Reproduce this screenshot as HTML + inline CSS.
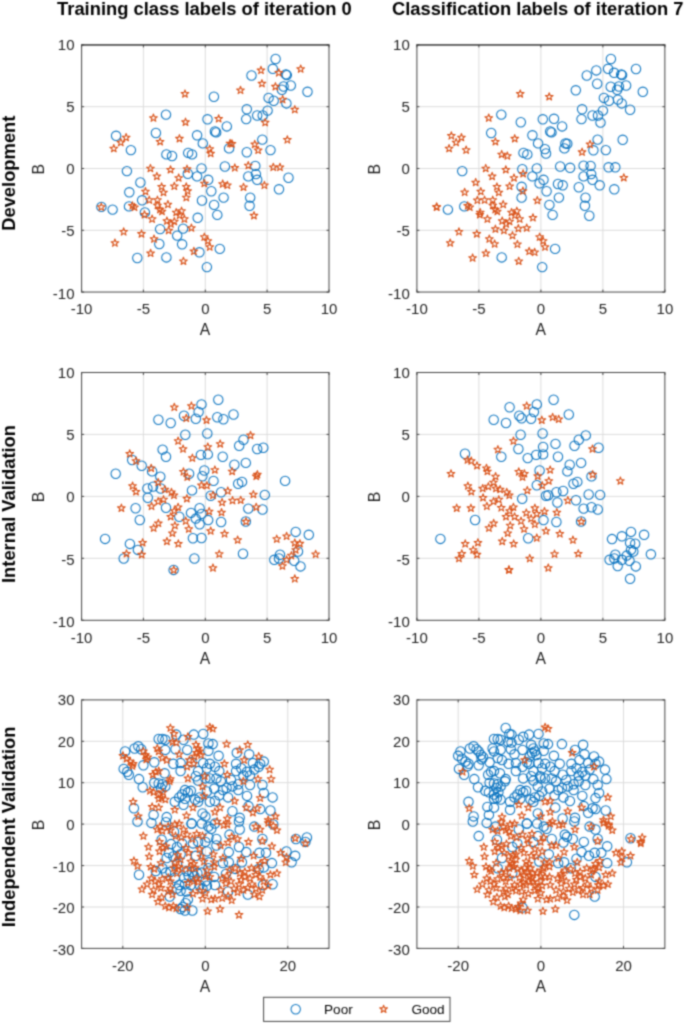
<!DOCTYPE html>
<html><head><meta charset="utf-8"><title>fig</title>
<style>
html,body{margin:0;padding:0;background:#fff;}
body{width:685px;height:1024px;overflow:hidden;}
svg{display:block;font-family:"Liberation Sans",sans-serif;}
.t{font-size:15px;fill:#1c1c1c;}
.l{font-size:15.7px;fill:#1c1c1c;}
.b{font-size:18.35px;font-weight:bold;fill:#000;}
.c{fill:none;stroke:#0b74c0;stroke-width:1.05;}
.s{fill:none;stroke:#d9531a;stroke-width:1.1;stroke-linejoin:round;}
.g{stroke:#dcdcdc;stroke-width:1;}
.ax{fill:none;stroke:#444;stroke-width:1.0;}
.tk{stroke:#444;stroke-width:1;}
</style></head><body>
<svg width="685" height="1024" viewBox="0 0 685 1024">
<defs><filter id="bl" x="0" y="0" width="685" height="1024" filterUnits="userSpaceOnUse" color-interpolation-filters="sRGB"><feConvolveMatrix order="5" kernelMatrix="0.00009 0.00198 0.00548 0.00198 0.00009 0.00198 0.04220 0.11707 0.04220 0.00198 0.00548 0.11707 0.32480 0.11707 0.00548 0.00198 0.04220 0.11707 0.04220 0.00198 0.00009 0.00198 0.00548 0.00198 0.00009" edgeMode="duplicate" preserveAlpha="false"/></filter></defs>
<rect width="685" height="1024" fill="#fff"/>
<g filter="url(#bl)">

<text class="b" x="204.4" y="14.6" text-anchor="middle">Training class labels of iteration 0</text>
<text class="b" x="537.7" y="14.6" text-anchor="middle">Classification labels of iteration 7</text>
<text class="b" transform="translate(14.9,173.2) rotate(-90)" text-anchor="middle">Development</text>
<line class="g" x1="143.4" y1="44.9" x2="143.4" y2="292.1"/>
<line class="g" x1="205.3" y1="44.9" x2="205.3" y2="292.1"/>
<line class="g" x1="267.1" y1="44.9" x2="267.1" y2="292.1"/>
<line class="g" x1="81.6" y1="230.3" x2="329.0" y2="230.3"/>
<line class="g" x1="81.6" y1="168.5" x2="329.0" y2="168.5"/>
<line class="g" x1="81.6" y1="106.7" x2="329.0" y2="106.7"/>
<line class="tk" x1="81.6" y1="292.1" x2="81.6" y2="289.6"/>
<line class="tk" x1="81.6" y1="44.9" x2="81.6" y2="47.4"/>
<text class="t" x="81.6" y="314.4" text-anchor="middle">-10</text>
<line class="tk" x1="143.4" y1="292.1" x2="143.4" y2="289.6"/>
<line class="tk" x1="143.4" y1="44.9" x2="143.4" y2="47.4"/>
<text class="t" x="143.4" y="314.4" text-anchor="middle">-5</text>
<line class="tk" x1="205.3" y1="292.1" x2="205.3" y2="289.6"/>
<line class="tk" x1="205.3" y1="44.9" x2="205.3" y2="47.4"/>
<text class="t" x="205.3" y="314.4" text-anchor="middle">0</text>
<line class="tk" x1="267.1" y1="292.1" x2="267.1" y2="289.6"/>
<line class="tk" x1="267.1" y1="44.9" x2="267.1" y2="47.4"/>
<text class="t" x="267.1" y="314.4" text-anchor="middle">5</text>
<line class="tk" x1="329.0" y1="292.1" x2="329.0" y2="289.6"/>
<line class="tk" x1="329.0" y1="44.9" x2="329.0" y2="47.4"/>
<text class="t" x="329.0" y="314.4" text-anchor="middle">10</text>
<line class="tk" x1="81.6" y1="292.1" x2="84.1" y2="292.1"/>
<line class="tk" x1="329.0" y1="292.1" x2="326.5" y2="292.1"/>
<text class="t" x="74.5" y="299.0" text-anchor="end">-10</text>
<line class="tk" x1="81.6" y1="230.3" x2="84.1" y2="230.3"/>
<line class="tk" x1="329.0" y1="230.3" x2="326.5" y2="230.3"/>
<text class="t" x="74.5" y="236.0" text-anchor="end">-5</text>
<line class="tk" x1="81.6" y1="168.5" x2="84.1" y2="168.5"/>
<line class="tk" x1="329.0" y1="168.5" x2="326.5" y2="168.5"/>
<text class="t" x="74.5" y="174.0" text-anchor="end">0</text>
<line class="tk" x1="81.6" y1="106.7" x2="84.1" y2="106.7"/>
<line class="tk" x1="329.0" y1="106.7" x2="326.5" y2="106.7"/>
<text class="t" x="74.5" y="112.0" text-anchor="end">5</text>
<line class="tk" x1="81.6" y1="44.9" x2="84.1" y2="44.9"/>
<line class="tk" x1="329.0" y1="44.9" x2="326.5" y2="44.9"/>
<text class="t" x="74.5" y="50.0" text-anchor="end">10</text>
<rect class="ax" x="81.60" y="44.90" width="247.40" height="247.15"/>
<line x1="81.00" y1="45.00" x2="329.60" y2="45.00" stroke="#333" stroke-width="1.2"/>
<text class="l" x="205.1" y="335.4" text-anchor="middle">A</text>
<text class="l" transform="translate(44.2,169.2) rotate(-90)" text-anchor="middle">B</text>
<g class="c"><circle cx="166.0" cy="114.6" r="4.70"/><circle cx="155.9" cy="133.0" r="4.70"/><circle cx="116.1" cy="135.8" r="4.70"/><circle cx="130.9" cy="150.1" r="4.70"/><circle cx="197.1" cy="135.3" r="4.70"/><circle cx="202.8" cy="143.4" r="4.70"/><circle cx="166.4" cy="154.4" r="4.70"/><circle cx="172.0" cy="156.0" r="4.70"/><circle cx="188.2" cy="152.9" r="4.70"/><circle cx="192.0" cy="154.4" r="4.70"/><circle cx="275.6" cy="59.0" r="4.70"/><circle cx="272.8" cy="68.8" r="4.70"/><circle cx="251.5" cy="75.5" r="4.70"/><circle cx="285.9" cy="74.4" r="4.70"/><circle cx="286.8" cy="75.1" r="4.70"/><circle cx="290.8" cy="85.5" r="4.70"/><circle cx="283.6" cy="86.5" r="4.70"/><circle cx="281.9" cy="89.7" r="4.70"/><circle cx="307.5" cy="91.8" r="4.70"/><circle cx="213.9" cy="96.7" r="4.70"/><circle cx="268.6" cy="97.9" r="4.70"/><circle cx="273.7" cy="100.7" r="4.70"/><circle cx="286.4" cy="103.4" r="4.70"/><circle cx="246.8" cy="109.3" r="4.70"/><circle cx="267.6" cy="110.6" r="4.70"/><circle cx="257.2" cy="115.5" r="4.70"/><circle cx="262.7" cy="115.5" r="4.70"/><circle cx="246.2" cy="119.1" r="4.70"/><circle cx="207.5" cy="119.3" r="4.70"/><circle cx="226.8" cy="126.4" r="4.70"/><circle cx="214.9" cy="131.5" r="4.70"/><circle cx="216.2" cy="132.4" r="4.70"/><circle cx="262.3" cy="139.6" r="4.70"/><circle cx="246.8" cy="152.2" r="4.70"/><circle cx="270.5" cy="150.1" r="4.70"/><circle cx="229.1" cy="148.4" r="4.70"/><circle cx="126.9" cy="171.1" r="4.70"/><circle cx="187.8" cy="173.7" r="4.70"/><circle cx="201.5" cy="168.4" r="4.70"/><circle cx="197.1" cy="176.4" r="4.70"/><circle cx="140.4" cy="182.5" r="4.70"/><circle cx="129.3" cy="192.3" r="4.70"/><circle cx="202.0" cy="200.5" r="4.70"/><circle cx="142.1" cy="200.3" r="4.70"/><circle cx="101.4" cy="206.9" r="4.70"/><circle cx="112.6" cy="209.6" r="4.70"/><circle cx="129.0" cy="206.4" r="4.70"/><circle cx="144.9" cy="212.4" r="4.70"/><circle cx="197.7" cy="217.8" r="4.70"/><circle cx="160.1" cy="229.1" r="4.70"/><circle cx="183.1" cy="228.6" r="4.70"/><circle cx="177.2" cy="235.6" r="4.70"/><circle cx="159.3" cy="244.0" r="4.70"/><circle cx="182.1" cy="244.3" r="4.70"/><circle cx="199.4" cy="252.3" r="4.70"/><circle cx="137.3" cy="258.0" r="4.70"/><circle cx="166.4" cy="257.4" r="4.70"/><circle cx="224.9" cy="166.5" r="4.70"/><circle cx="255.3" cy="165.9" r="4.70"/><circle cx="248.3" cy="176.4" r="4.70"/><circle cx="255.9" cy="174.1" r="4.70"/><circle cx="257.2" cy="179.8" r="4.70"/><circle cx="288.5" cy="177.7" r="4.70"/><circle cx="208.2" cy="179.8" r="4.70"/><circle cx="279.0" cy="189.3" r="4.70"/><circle cx="211.3" cy="191.2" r="4.70"/><circle cx="223.6" cy="197.6" r="4.70"/><circle cx="250.2" cy="197.6" r="4.70"/><circle cx="249.6" cy="205.8" r="4.70"/><circle cx="214.1" cy="204.9" r="4.70"/><circle cx="217.3" cy="214.9" r="4.70"/><circle cx="219.8" cy="248.9" r="4.70"/><circle cx="206.9" cy="267.1" r="4.70"/></g>
<g class="s"><polygon points="185.0,89.9 185.9,92.6 188.8,92.6 186.5,94.4 187.3,97.2 185.0,95.5 182.6,97.2 183.4,94.4 181.1,92.6 184.0,92.6"/><polygon points="153.4,114.0 154.4,116.7 157.3,116.8 155.0,118.5 155.8,121.3 153.4,119.6 151.1,121.3 151.9,118.5 149.6,116.8 152.5,116.7"/><polygon points="185.5,118.1 186.5,120.9 189.4,120.9 187.0,122.7 187.9,125.5 185.5,123.8 183.1,125.5 184.0,122.7 181.7,120.9 184.6,120.9"/><polygon points="179.4,134.6 180.4,137.4 183.3,137.4 181.0,139.2 181.8,142.0 179.4,140.3 177.1,142.0 177.9,139.2 175.6,137.4 178.5,137.4"/><polygon points="160.1,137.7 161.0,140.4 163.9,140.5 161.6,142.2 162.5,145.0 160.1,143.3 157.7,145.0 158.6,142.2 156.2,140.5 159.2,140.4"/><polygon points="126.1,133.5 127.1,136.3 130.0,136.3 127.6,138.0 128.5,140.8 126.1,139.2 123.7,140.8 124.6,138.0 122.3,136.3 125.2,136.3"/><polygon points="120.8,138.4 121.7,141.2 124.7,141.2 122.3,143.0 123.2,145.8 120.8,144.1 118.4,145.8 119.3,143.0 117.0,141.2 119.9,141.2"/><polygon points="113.8,144.5 114.7,147.3 117.6,147.3 115.3,149.1 116.2,151.8 113.8,150.2 111.4,151.8 112.3,149.1 109.9,147.3 112.8,147.3"/><polygon points="261.0,66.3 261.9,69.1 264.8,69.1 262.5,70.9 263.4,73.6 261.0,72.0 258.6,73.6 259.5,70.9 257.1,69.1 260.0,69.1"/><polygon points="278.8,68.8 279.8,71.5 282.7,71.6 280.3,73.3 281.2,76.1 278.8,74.4 276.4,76.1 277.3,73.3 275.0,71.6 277.9,71.5"/><polygon points="300.7,65.0 301.6,67.7 304.5,67.8 302.2,69.5 303.0,72.3 300.7,70.6 298.3,72.3 299.1,69.5 296.8,67.8 299.7,67.7"/><polygon points="261.9,79.6 262.9,82.4 265.8,82.4 263.5,84.1 264.3,86.9 261.9,85.3 259.6,86.9 260.4,84.1 258.1,82.4 261.0,82.4"/><polygon points="275.4,82.6 276.4,85.4 279.3,85.4 276.9,87.2 277.8,90.0 275.4,88.3 273.0,90.0 273.9,87.2 271.6,85.4 274.5,85.4"/><polygon points="240.5,86.2 241.4,89.0 244.3,89.0 242.0,90.8 242.9,93.6 240.5,91.9 238.1,93.6 239.0,90.8 236.6,89.0 239.6,89.0"/><polygon points="282.6,95.5 283.6,98.3 286.5,98.3 284.1,100.1 285.0,102.9 282.6,101.2 280.2,102.9 281.1,100.1 278.8,98.3 281.7,98.3"/><polygon points="294.8,105.6 295.7,108.4 298.6,108.4 296.3,110.1 297.2,112.9 294.8,111.3 292.4,112.9 293.2,110.1 290.9,108.4 293.8,108.4"/><polygon points="265.2,118.5 266.1,121.3 269.0,121.3 266.7,123.1 267.5,125.8 265.2,124.2 262.8,125.8 263.6,123.1 261.3,121.3 264.2,121.3"/><polygon points="218.7,114.7 219.6,117.5 222.5,117.5 220.2,119.3 221.0,122.0 218.7,120.4 216.3,122.0 217.1,119.3 214.8,117.5 217.7,117.5"/><polygon points="287.4,135.8 288.3,138.5 291.2,138.6 288.9,140.3 289.7,143.1 287.4,141.4 285.0,143.1 285.8,140.3 283.5,138.6 286.4,138.5"/><polygon points="254.7,140.3 255.7,143.1 258.6,143.1 256.2,144.9 257.1,147.7 254.7,146.0 252.3,147.7 253.2,144.9 250.9,143.1 253.8,143.1"/><polygon points="258.1,146.2 259.1,149.0 262.0,149.0 259.7,150.8 260.5,153.5 258.1,151.9 255.8,153.5 256.6,150.8 254.3,149.0 257.2,149.0"/><polygon points="230.1,139.4 231.0,142.1 233.9,142.2 231.6,143.9 232.4,146.7 230.1,145.0 227.7,146.7 228.5,143.9 226.2,142.2 229.1,142.1"/><polygon points="232.0,139.8 232.9,142.5 235.8,142.6 233.5,144.3 234.3,147.1 232.0,145.4 229.6,147.1 230.4,144.3 228.1,142.6 231.0,142.5"/><polygon points="209.7,145.1 210.7,147.8 213.6,147.9 211.3,149.6 212.1,152.4 209.7,150.7 207.4,152.4 208.2,149.6 205.9,147.9 208.8,147.8"/><polygon points="210.7,149.4 211.6,152.2 214.5,152.2 212.2,154.0 213.1,156.8 210.7,155.1 208.3,156.8 209.2,154.0 206.8,152.2 209.8,152.2"/><polygon points="150.4,164.4 151.4,167.1 154.3,167.2 151.9,168.9 152.8,171.7 150.4,170.0 148.0,171.7 148.9,168.9 146.6,167.2 149.5,167.1"/><polygon points="170.5,165.7 171.5,168.5 174.4,168.5 172.1,170.2 172.9,173.0 170.5,171.3 168.1,173.0 169.0,170.2 166.7,168.5 169.6,168.5"/><polygon points="187.0,165.1 188.0,167.9 190.9,167.9 188.6,169.7 189.4,172.5 187.0,170.8 184.7,172.5 185.5,169.7 183.2,167.9 186.1,167.9"/><polygon points="156.9,172.3 157.8,175.1 160.7,175.1 158.4,176.9 159.2,179.7 156.9,178.0 154.5,179.7 155.3,176.9 153.0,175.1 155.9,175.1"/><polygon points="178.7,173.9 179.6,176.6 182.5,176.7 180.2,178.4 181.1,181.2 178.7,179.5 176.3,181.2 177.2,178.4 174.8,176.7 177.7,176.6"/><polygon points="161.6,182.8 162.5,185.5 165.5,185.6 163.1,187.3 164.0,190.1 161.6,188.4 159.2,190.1 160.1,187.3 157.8,185.6 160.7,185.5"/><polygon points="174.3,182.2 175.3,185.0 178.2,185.0 175.8,186.8 176.7,189.5 174.3,187.9 171.9,189.5 172.8,186.8 170.5,185.0 173.4,185.0"/><polygon points="186.3,182.8 187.2,185.5 190.1,185.6 187.8,187.3 188.7,190.1 186.3,188.4 183.9,190.1 184.8,187.3 182.4,185.6 185.3,185.5"/><polygon points="187.6,187.0 188.6,189.7 191.5,189.7 189.1,191.5 190.0,194.3 187.6,192.6 185.2,194.3 186.1,191.5 183.8,189.7 186.7,189.7"/><polygon points="204.3,179.4 205.3,182.1 208.2,182.2 205.8,183.9 206.7,186.7 204.3,185.0 201.9,186.7 202.8,183.9 200.5,182.2 203.4,182.1"/><polygon points="145.5,187.5 146.4,190.3 149.3,190.3 147.0,192.1 147.9,194.8 145.5,193.2 143.1,194.8 144.0,192.1 141.6,190.3 144.5,190.3"/><polygon points="163.5,188.5 164.4,191.2 167.4,191.3 165.0,193.0 165.9,195.8 163.5,194.1 161.1,195.8 162.0,193.0 159.7,191.3 162.6,191.2"/><polygon points="186.3,193.6 187.2,196.3 190.1,196.4 187.8,198.1 188.7,200.9 186.3,199.2 183.9,200.9 184.8,198.1 182.4,196.4 185.3,196.3"/><polygon points="149.3,196.1 150.2,198.8 153.1,198.9 150.8,200.6 151.7,203.4 149.3,201.7 146.9,203.4 147.8,200.6 145.4,198.9 148.3,198.8"/><polygon points="157.4,196.1 158.4,198.8 161.3,198.9 159.0,200.6 159.8,203.4 157.4,201.7 155.1,203.4 155.9,200.6 153.6,198.9 156.5,198.8"/><polygon points="167.9,200.4 168.8,203.2 171.7,203.2 169.4,205.0 170.3,207.8 167.9,206.1 165.5,207.8 166.4,205.0 164.0,203.2 166.9,203.2"/><polygon points="157.4,201.4 158.4,204.1 161.3,204.2 159.0,205.9 159.8,208.7 157.4,207.0 155.1,208.7 155.9,205.9 153.6,204.2 156.5,204.1"/><polygon points="101.3,203.1 102.2,205.8 105.1,205.9 102.8,207.6 103.6,210.4 101.3,208.7 98.9,210.4 99.7,207.6 97.4,205.9 100.3,205.8"/><polygon points="132.4,201.8 133.3,204.5 136.2,204.6 133.9,206.3 134.8,209.1 132.4,207.4 130.0,209.1 130.9,206.3 128.5,204.6 131.4,204.5"/><polygon points="134.5,203.3 135.4,206.0 138.3,206.1 136.0,207.8 136.9,210.6 134.5,208.9 132.1,210.6 132.9,207.8 130.6,206.1 133.5,206.0"/><polygon points="159.9,205.6 160.8,208.3 163.8,208.3 161.4,210.1 162.3,212.9 159.9,211.2 157.5,212.9 158.4,210.1 156.0,208.3 159.0,208.3"/><polygon points="162.0,207.4 162.9,210.2 165.8,210.2 163.5,212.0 164.4,214.8 162.0,213.1 159.6,214.8 160.5,212.0 158.1,210.2 161.0,210.2"/><polygon points="144.5,210.7 145.5,213.4 148.4,213.5 146.1,215.2 146.9,218.0 144.5,216.3 142.1,218.0 143.0,215.2 140.7,213.5 143.6,213.4"/><polygon points="176.2,208.4 177.2,211.2 180.1,211.2 177.7,212.9 178.6,215.7 176.2,214.0 173.8,215.7 174.7,212.9 172.4,211.2 175.3,211.2"/><polygon points="181.5,207.1 182.5,209.8 185.4,209.9 183.1,211.6 183.9,214.4 181.5,212.7 179.2,214.4 180.0,211.6 177.7,209.9 180.6,209.8"/><polygon points="179.6,211.2 180.6,214.0 183.5,214.0 181.2,215.8 182.0,218.6 179.6,216.9 177.3,218.6 178.1,215.8 175.8,214.0 178.7,214.0"/><polygon points="152.1,215.0 153.1,217.8 156.0,217.8 153.6,219.6 154.5,222.4 152.1,220.7 149.7,222.4 150.6,219.6 148.3,217.8 151.2,217.8"/><polygon points="184.4,215.0 185.3,217.8 188.2,217.8 185.9,219.6 186.8,222.4 184.4,220.7 182.0,222.4 182.9,219.6 180.5,217.8 183.4,217.8"/><polygon points="166.9,216.9 167.9,219.7 170.8,219.7 168.4,221.5 169.3,224.3 166.9,222.6 164.5,224.3 165.4,221.5 163.1,219.7 166.0,219.7"/><polygon points="174.3,217.5 175.3,220.3 178.2,220.3 175.8,222.1 176.7,224.8 174.3,223.2 171.9,224.8 172.8,222.1 170.5,220.3 173.4,220.3"/><polygon points="170.9,220.0 171.8,222.7 174.8,222.8 172.4,224.5 173.3,227.3 170.9,225.6 168.5,227.3 169.4,224.5 167.1,222.8 170.0,222.7"/><polygon points="168.6,226.4 169.6,229.2 172.5,229.2 170.2,231.0 171.0,233.8 168.6,232.1 166.3,233.8 167.1,231.0 164.8,229.2 167.7,229.2"/><polygon points="191.4,224.0 192.3,226.7 195.3,226.8 192.9,228.5 193.8,231.3 191.4,229.6 189.0,231.3 189.9,228.5 187.6,226.8 190.5,226.7"/><polygon points="123.7,227.8 124.6,230.5 127.5,230.6 125.2,232.3 126.0,235.1 123.7,233.4 121.3,235.1 122.1,232.3 119.8,230.6 122.7,230.5"/><polygon points="141.5,229.8 142.4,232.6 145.3,232.6 143.0,234.4 143.9,237.2 141.5,235.5 139.1,237.2 140.0,234.4 137.6,232.6 140.6,232.6"/><polygon points="154.0,235.0 155.0,237.7 157.9,237.8 155.5,239.5 156.4,242.3 154.0,240.6 151.6,242.3 152.5,239.5 150.2,237.8 153.1,237.7"/><polygon points="114.9,239.0 115.9,241.7 118.8,241.8 116.4,243.5 117.3,246.3 114.9,244.6 112.5,246.3 113.4,243.5 111.1,241.8 114.0,241.7"/><polygon points="204.3,233.1 205.3,235.8 208.2,235.9 205.8,237.6 206.7,240.4 204.3,238.7 201.9,240.4 202.8,237.6 200.5,235.9 203.4,235.8"/><polygon points="193.9,247.3 194.8,250.1 197.7,250.1 195.4,251.8 196.3,254.6 193.9,253.0 191.5,254.6 192.4,251.8 190.0,250.1 192.9,250.1"/><polygon points="150.6,249.2 151.5,252.0 154.5,252.0 152.1,253.7 153.0,256.5 150.6,254.9 148.2,256.5 149.1,253.7 146.7,252.0 149.7,252.0"/><polygon points="183.4,257.2 184.4,259.9 187.3,260.0 185.0,261.7 185.8,264.5 183.4,262.8 181.1,264.5 181.9,261.7 179.6,260.0 182.5,259.9"/><polygon points="234.8,163.8 235.7,166.6 238.6,166.6 236.3,168.3 237.2,171.1 234.8,169.4 232.4,171.1 233.3,168.3 230.9,166.6 233.9,166.6"/><polygon points="248.3,161.5 249.2,164.3 252.1,164.3 249.8,166.1 250.7,168.8 248.3,167.2 245.9,168.8 246.8,166.1 244.4,164.3 247.3,164.3"/><polygon points="273.3,163.2 274.3,166.0 277.2,166.0 274.8,167.8 275.7,170.6 273.3,168.9 270.9,170.6 271.8,167.8 269.5,166.0 272.4,166.0"/><polygon points="280.0,163.2 280.9,166.0 283.8,166.0 281.5,167.8 282.3,170.6 280.0,168.9 277.6,170.6 278.4,167.8 276.1,166.0 279.0,166.0"/><polygon points="222.7,179.9 223.6,182.7 226.5,182.7 224.2,184.5 225.0,187.3 222.7,185.6 220.3,187.3 221.1,184.5 218.8,182.7 221.7,182.7"/><polygon points="227.4,181.3 228.3,184.0 231.2,184.1 228.9,185.8 229.8,188.6 227.4,186.9 225.0,188.6 225.9,185.8 223.5,184.1 226.5,184.0"/><polygon points="243.5,183.2 244.5,185.9 247.4,186.0 245.0,187.7 245.9,190.5 243.5,188.8 241.1,190.5 242.0,187.7 239.7,186.0 242.6,185.9"/><polygon points="264.4,181.3 265.3,184.0 268.3,184.1 265.9,185.8 266.8,188.6 264.4,186.9 262.0,188.6 262.9,185.8 260.6,184.1 263.5,184.0"/><polygon points="254.0,211.6 254.9,214.4 257.8,214.4 255.5,216.2 256.3,219.0 254.0,217.3 251.6,219.0 252.4,216.2 250.1,214.4 253.0,214.4"/><polygon points="207.8,236.9 208.8,239.6 211.7,239.7 209.4,241.4 210.2,244.2 207.8,242.5 205.5,244.2 206.3,241.4 204.0,239.7 206.9,239.6"/><polygon points="209.7,242.9 210.7,245.7 213.6,245.7 211.3,247.5 212.1,250.3 209.7,248.6 207.4,250.3 208.2,247.5 205.9,245.7 208.8,245.7"/></g>
<line class="g" x1="478.9" y1="44.9" x2="478.9" y2="292.1"/>
<line class="g" x1="540.9" y1="44.9" x2="540.9" y2="292.1"/>
<line class="g" x1="602.9" y1="44.9" x2="602.9" y2="292.1"/>
<line class="g" x1="416.9" y1="230.3" x2="664.9" y2="230.3"/>
<line class="g" x1="416.9" y1="168.5" x2="664.9" y2="168.5"/>
<line class="g" x1="416.9" y1="106.7" x2="664.9" y2="106.7"/>
<line class="tk" x1="416.9" y1="292.1" x2="416.9" y2="289.6"/>
<line class="tk" x1="416.9" y1="44.9" x2="416.9" y2="47.4"/>
<text class="t" x="416.9" y="314.4" text-anchor="middle">-10</text>
<line class="tk" x1="478.9" y1="292.1" x2="478.9" y2="289.6"/>
<line class="tk" x1="478.9" y1="44.9" x2="478.9" y2="47.4"/>
<text class="t" x="478.9" y="314.4" text-anchor="middle">-5</text>
<line class="tk" x1="540.9" y1="292.1" x2="540.9" y2="289.6"/>
<line class="tk" x1="540.9" y1="44.9" x2="540.9" y2="47.4"/>
<text class="t" x="540.9" y="314.4" text-anchor="middle">0</text>
<line class="tk" x1="602.9" y1="292.1" x2="602.9" y2="289.6"/>
<line class="tk" x1="602.9" y1="44.9" x2="602.9" y2="47.4"/>
<text class="t" x="602.9" y="314.4" text-anchor="middle">5</text>
<line class="tk" x1="664.9" y1="292.1" x2="664.9" y2="289.6"/>
<line class="tk" x1="664.9" y1="44.9" x2="664.9" y2="47.4"/>
<text class="t" x="664.9" y="314.4" text-anchor="middle">10</text>
<line class="tk" x1="416.9" y1="292.1" x2="419.4" y2="292.1"/>
<line class="tk" x1="664.9" y1="292.1" x2="662.4" y2="292.1"/>
<text class="t" x="409.8" y="299.0" text-anchor="end">-10</text>
<line class="tk" x1="416.9" y1="230.3" x2="419.4" y2="230.3"/>
<line class="tk" x1="664.9" y1="230.3" x2="662.4" y2="230.3"/>
<text class="t" x="409.8" y="236.0" text-anchor="end">-5</text>
<line class="tk" x1="416.9" y1="168.5" x2="419.4" y2="168.5"/>
<line class="tk" x1="664.9" y1="168.5" x2="662.4" y2="168.5"/>
<text class="t" x="409.8" y="174.0" text-anchor="end">0</text>
<line class="tk" x1="416.9" y1="106.7" x2="419.4" y2="106.7"/>
<line class="tk" x1="664.9" y1="106.7" x2="662.4" y2="106.7"/>
<text class="t" x="409.8" y="112.0" text-anchor="end">5</text>
<line class="tk" x1="416.9" y1="44.9" x2="419.4" y2="44.9"/>
<line class="tk" x1="664.9" y1="44.9" x2="662.4" y2="44.9"/>
<text class="t" x="409.8" y="50.0" text-anchor="end">10</text>
<rect class="ax" x="416.90" y="44.90" width="247.95" height="247.15"/>
<line x1="416.30" y1="45.00" x2="665.45" y2="45.00" stroke="#333" stroke-width="1.2"/>
<text class="l" x="540.7" y="335.4" text-anchor="middle">A</text>
<text class="l" transform="translate(379.5,169.2) rotate(-90)" text-anchor="middle">B</text>
<g class="c"><circle cx="501.3" cy="114.6" r="4.70"/><circle cx="520.8" cy="122.2" r="4.70"/><circle cx="491.2" cy="133.0" r="4.70"/><circle cx="532.4" cy="135.3" r="4.70"/><circle cx="538.1" cy="143.4" r="4.70"/><circle cx="523.5" cy="152.9" r="4.70"/><circle cx="527.3" cy="154.4" r="4.70"/><circle cx="610.9" cy="59.0" r="4.70"/><circle cx="608.1" cy="68.8" r="4.70"/><circle cx="596.3" cy="70.4" r="4.70"/><circle cx="586.8" cy="75.5" r="4.70"/><circle cx="614.1" cy="72.8" r="4.70"/><circle cx="621.2" cy="74.4" r="4.70"/><circle cx="622.1" cy="75.1" r="4.70"/><circle cx="636.0" cy="69.0" r="4.70"/><circle cx="597.2" cy="83.7" r="4.70"/><circle cx="610.7" cy="86.7" r="4.70"/><circle cx="626.1" cy="85.5" r="4.70"/><circle cx="618.9" cy="86.5" r="4.70"/><circle cx="617.2" cy="89.7" r="4.70"/><circle cx="575.8" cy="90.3" r="4.70"/><circle cx="642.8" cy="91.8" r="4.70"/><circle cx="603.9" cy="97.9" r="4.70"/><circle cx="609.0" cy="100.7" r="4.70"/><circle cx="617.9" cy="99.6" r="4.70"/><circle cx="621.7" cy="103.4" r="4.70"/><circle cx="630.1" cy="109.7" r="4.70"/><circle cx="582.1" cy="109.3" r="4.70"/><circle cx="602.9" cy="110.6" r="4.70"/><circle cx="592.5" cy="115.5" r="4.70"/><circle cx="598.0" cy="115.5" r="4.70"/><circle cx="581.5" cy="119.1" r="4.70"/><circle cx="600.5" cy="122.6" r="4.70"/><circle cx="542.8" cy="119.3" r="4.70"/><circle cx="554.0" cy="118.8" r="4.70"/><circle cx="562.1" cy="126.4" r="4.70"/><circle cx="550.2" cy="131.5" r="4.70"/><circle cx="551.5" cy="132.4" r="4.70"/><circle cx="597.6" cy="139.6" r="4.70"/><circle cx="622.7" cy="139.8" r="4.70"/><circle cx="593.4" cy="150.3" r="4.70"/><circle cx="605.8" cy="150.1" r="4.70"/><circle cx="565.4" cy="143.4" r="4.70"/><circle cx="567.3" cy="143.8" r="4.70"/><circle cx="564.4" cy="148.4" r="4.70"/><circle cx="545.0" cy="149.1" r="4.70"/><circle cx="546.0" cy="153.5" r="4.70"/><circle cx="462.2" cy="171.1" r="4.70"/><circle cx="522.3" cy="169.2" r="4.70"/><circle cx="536.8" cy="168.4" r="4.70"/><circle cx="532.4" cy="176.4" r="4.70"/><circle cx="521.6" cy="186.8" r="4.70"/><circle cx="539.6" cy="183.4" r="4.70"/><circle cx="521.6" cy="197.6" r="4.70"/><circle cx="447.9" cy="209.6" r="4.70"/><circle cx="464.3" cy="206.4" r="4.70"/><circle cx="501.7" cy="257.4" r="4.70"/><circle cx="560.2" cy="166.5" r="4.70"/><circle cx="570.1" cy="167.8" r="4.70"/><circle cx="583.6" cy="165.6" r="4.70"/><circle cx="590.6" cy="165.9" r="4.70"/><circle cx="608.6" cy="167.3" r="4.70"/><circle cx="615.3" cy="167.3" r="4.70"/><circle cx="583.6" cy="176.4" r="4.70"/><circle cx="591.2" cy="174.1" r="4.70"/><circle cx="592.5" cy="179.8" r="4.70"/><circle cx="543.5" cy="179.8" r="4.70"/><circle cx="558.0" cy="184.0" r="4.70"/><circle cx="562.7" cy="185.3" r="4.70"/><circle cx="578.8" cy="187.2" r="4.70"/><circle cx="599.7" cy="185.3" r="4.70"/><circle cx="614.3" cy="189.3" r="4.70"/><circle cx="546.6" cy="191.2" r="4.70"/><circle cx="558.9" cy="197.6" r="4.70"/><circle cx="585.5" cy="197.6" r="4.70"/><circle cx="584.9" cy="205.8" r="4.70"/><circle cx="549.4" cy="204.9" r="4.70"/><circle cx="552.6" cy="214.9" r="4.70"/><circle cx="589.3" cy="215.7" r="4.70"/><circle cx="555.1" cy="248.9" r="4.70"/><circle cx="542.2" cy="267.1" r="4.70"/></g>
<g class="s"><polygon points="520.3,89.9 521.2,92.6 524.1,92.6 521.8,94.4 522.6,97.2 520.3,95.5 517.9,97.2 518.7,94.4 516.4,92.6 519.3,92.6"/><polygon points="488.7,114.0 489.7,116.7 492.6,116.8 490.3,118.5 491.1,121.3 488.7,119.6 486.4,121.3 487.2,118.5 484.9,116.8 487.8,116.7"/><polygon points="514.7,134.6 515.7,137.4 518.6,137.4 516.3,139.2 517.1,142.0 514.7,140.3 512.4,142.0 513.2,139.2 510.9,137.4 513.8,137.4"/><polygon points="495.4,137.7 496.3,140.4 499.2,140.5 496.9,142.2 497.8,145.0 495.4,143.3 493.0,145.0 493.9,142.2 491.5,140.5 494.5,140.4"/><polygon points="451.4,131.8 452.3,134.5 455.2,134.6 452.9,136.3 453.7,139.1 451.4,137.4 449.0,139.1 449.8,136.3 447.5,134.6 450.4,134.5"/><polygon points="461.4,133.5 462.4,136.3 465.3,136.3 462.9,138.0 463.8,140.8 461.4,139.2 459.0,140.8 459.9,138.0 457.6,136.3 460.5,136.3"/><polygon points="456.1,138.4 457.0,141.2 460.0,141.2 457.6,143.0 458.5,145.8 456.1,144.1 453.7,145.8 454.6,143.0 452.3,141.2 455.2,141.2"/><polygon points="449.1,144.5 450.0,147.3 452.9,147.3 450.6,149.1 451.5,151.8 449.1,150.2 446.7,151.8 447.6,149.1 445.2,147.3 448.1,147.3"/><polygon points="466.2,146.0 467.1,148.8 470.0,148.8 467.7,150.6 468.5,153.4 466.2,151.7 463.8,153.4 464.6,150.6 462.3,148.8 465.2,148.8"/><polygon points="501.7,150.4 502.6,153.1 505.5,153.2 503.2,154.9 504.0,157.7 501.7,156.0 499.3,157.7 500.1,154.9 497.8,153.2 500.7,153.1"/><polygon points="507.3,151.9 508.3,154.7 511.2,154.7 508.9,156.5 509.7,159.2 507.3,157.6 505.0,159.2 505.8,156.5 503.5,154.7 506.4,154.7"/><polygon points="549.2,92.7 550.2,95.5 553.1,95.5 550.7,97.2 551.6,100.0 549.2,98.3 546.8,100.0 547.7,97.2 545.4,95.5 548.3,95.5"/><polygon points="590.0,140.3 591.0,143.1 593.9,143.1 591.5,144.9 592.4,147.7 590.0,146.0 587.6,147.7 588.5,144.9 586.2,143.1 589.1,143.1"/><polygon points="582.1,148.1 583.0,150.9 585.9,150.9 583.6,152.7 584.4,155.4 582.1,153.8 579.7,155.4 580.5,152.7 578.2,150.9 581.1,150.9"/><polygon points="485.7,164.4 486.7,167.1 489.6,167.2 487.2,168.9 488.1,171.7 485.7,170.0 483.3,171.7 484.2,168.9 481.9,167.2 484.8,167.1"/><polygon points="505.8,165.7 506.8,168.5 509.7,168.5 507.4,170.2 508.2,173.0 505.8,171.3 503.4,173.0 504.3,170.2 502.0,168.5 504.9,168.5"/><polygon points="523.1,169.7 524.0,172.4 527.0,172.5 524.6,174.2 525.5,177.0 523.1,175.3 520.7,177.0 521.6,174.2 519.2,172.5 522.2,172.4"/><polygon points="492.2,172.3 493.1,175.1 496.0,175.1 493.7,176.9 494.5,179.7 492.2,178.0 489.8,179.7 490.6,176.9 488.3,175.1 491.2,175.1"/><polygon points="514.0,173.9 514.9,176.6 517.8,176.7 515.5,178.4 516.4,181.2 514.0,179.5 511.6,181.2 512.5,178.4 510.1,176.7 513.0,176.6"/><polygon points="475.7,178.4 476.6,181.2 479.5,181.2 477.2,183.0 478.0,185.7 475.7,184.1 473.3,185.7 474.1,183.0 471.8,181.2 474.7,181.2"/><polygon points="496.9,182.8 497.8,185.5 500.8,185.6 498.4,187.3 499.3,190.1 496.9,188.4 494.5,190.1 495.4,187.3 493.1,185.6 496.0,185.5"/><polygon points="509.6,182.2 510.6,185.0 513.5,185.0 511.1,186.8 512.0,189.5 509.6,187.9 507.2,189.5 508.1,186.8 505.8,185.0 508.7,185.0"/><polygon points="522.9,187.0 523.9,189.7 526.8,189.7 524.4,191.5 525.3,194.3 522.9,192.6 520.5,194.3 521.4,191.5 519.1,189.7 522.0,189.7"/><polygon points="464.6,188.3 465.6,191.0 468.5,191.1 466.2,192.8 467.0,195.6 464.6,193.9 462.3,195.6 463.1,192.8 460.8,191.1 463.7,191.0"/><polygon points="480.8,187.5 481.7,190.3 484.6,190.3 482.3,192.1 483.2,194.8 480.8,193.2 478.4,194.8 479.3,192.1 476.9,190.3 479.8,190.3"/><polygon points="498.8,188.5 499.7,191.2 502.7,191.3 500.3,193.0 501.2,195.8 498.8,194.1 496.4,195.8 497.3,193.0 495.0,191.3 497.9,191.2"/><polygon points="537.3,196.4 538.3,199.2 541.2,199.2 538.9,201.0 539.7,203.8 537.3,202.1 535.0,203.8 535.8,201.0 533.5,199.2 536.4,199.2"/><polygon points="477.4,196.3 478.3,199.0 481.2,199.0 478.9,200.8 479.7,203.6 477.4,201.9 475.0,203.6 475.8,200.8 473.5,199.0 476.4,199.0"/><polygon points="484.6,196.1 485.5,198.8 488.4,198.9 486.1,200.6 487.0,203.4 484.6,201.7 482.2,203.4 483.1,200.6 480.7,198.9 483.6,198.8"/><polygon points="492.7,196.1 493.7,198.8 496.6,198.9 494.3,200.6 495.1,203.4 492.7,201.7 490.4,203.4 491.2,200.6 488.9,198.9 491.8,198.8"/><polygon points="503.2,200.4 504.1,203.2 507.0,203.2 504.7,205.0 505.6,207.8 503.2,206.1 500.8,207.8 501.7,205.0 499.3,203.2 502.2,203.2"/><polygon points="492.7,201.4 493.7,204.1 496.6,204.2 494.3,205.9 495.1,208.7 492.7,207.0 490.4,208.7 491.2,205.9 488.9,204.2 491.8,204.1"/><polygon points="436.6,203.1 437.5,205.8 440.4,205.9 438.1,207.6 438.9,210.4 436.6,208.7 434.2,210.4 435.0,207.6 432.7,205.9 435.6,205.8"/><polygon points="436.7,202.9 437.7,205.6 440.6,205.7 438.3,207.4 439.1,210.2 436.7,208.5 434.4,210.2 435.2,207.4 432.9,205.7 435.8,205.6"/><polygon points="467.7,201.8 468.6,204.5 471.5,204.6 469.2,206.3 470.1,209.1 467.7,207.4 465.3,209.1 466.2,206.3 463.8,204.6 466.7,204.5"/><polygon points="469.8,203.3 470.7,206.0 473.6,206.1 471.3,207.8 472.2,210.6 469.8,208.9 467.4,210.6 468.2,207.8 465.9,206.1 468.8,206.0"/><polygon points="495.2,205.6 496.1,208.3 499.1,208.3 496.7,210.1 497.6,212.9 495.2,211.2 492.8,212.9 493.7,210.1 491.3,208.3 494.3,208.3"/><polygon points="497.3,207.4 498.2,210.2 501.1,210.2 498.8,212.0 499.7,214.8 497.3,213.1 494.9,214.8 495.8,212.0 493.4,210.2 496.3,210.2"/><polygon points="480.2,208.4 481.1,211.2 484.1,211.2 481.7,212.9 482.6,215.7 480.2,214.0 477.8,215.7 478.7,212.9 476.4,211.2 479.3,211.2"/><polygon points="479.8,210.7 480.8,213.4 483.7,213.5 481.4,215.2 482.2,218.0 479.8,216.3 477.4,218.0 478.3,215.2 476.0,213.5 478.9,213.4"/><polygon points="511.5,208.4 512.5,211.2 515.4,211.2 513.0,212.9 513.9,215.7 511.5,214.0 509.1,215.7 510.0,212.9 507.7,211.2 510.6,211.2"/><polygon points="516.8,207.1 517.8,209.8 520.7,209.9 518.4,211.6 519.2,214.4 516.8,212.7 514.5,214.4 515.3,211.6 513.0,209.9 515.9,209.8"/><polygon points="514.9,211.2 515.9,214.0 518.8,214.0 516.5,215.8 517.3,218.6 514.9,216.9 512.6,218.6 513.4,215.8 511.1,214.0 514.0,214.0"/><polygon points="487.4,215.0 488.4,217.8 491.3,217.8 488.9,219.6 489.8,222.4 487.4,220.7 485.0,222.4 485.9,219.6 483.6,217.8 486.5,217.8"/><polygon points="519.7,215.0 520.6,217.8 523.5,217.8 521.2,219.6 522.1,222.4 519.7,220.7 517.3,222.4 518.2,219.6 515.8,217.8 518.7,217.8"/><polygon points="533.0,213.7 533.9,216.5 536.8,216.5 534.5,218.3 535.3,221.0 533.0,219.4 530.6,221.0 531.4,218.3 529.1,216.5 532.0,216.5"/><polygon points="502.2,216.9 503.2,219.7 506.1,219.7 503.7,221.5 504.6,224.3 502.2,222.6 499.8,224.3 500.7,221.5 498.4,219.7 501.3,219.7"/><polygon points="509.6,217.5 510.6,220.3 513.5,220.3 511.1,222.1 512.0,224.8 509.6,223.2 507.2,224.8 508.1,222.1 505.8,220.3 508.7,220.3"/><polygon points="506.2,220.0 507.1,222.7 510.1,222.8 507.7,224.5 508.6,227.3 506.2,225.6 503.8,227.3 504.7,224.5 502.4,222.8 505.3,222.7"/><polygon points="495.4,225.1 496.3,227.9 499.2,227.9 496.9,229.6 497.8,232.4 495.4,230.7 493.0,232.4 493.9,229.6 491.5,227.9 494.5,227.9"/><polygon points="503.9,226.4 504.9,229.2 507.8,229.2 505.5,231.0 506.3,233.8 503.9,232.1 501.6,233.8 502.4,231.0 500.1,229.2 503.0,229.2"/><polygon points="518.4,224.5 519.3,227.3 522.2,227.3 519.9,229.1 520.7,231.9 518.4,230.2 516.0,231.9 516.8,229.1 514.5,227.3 517.4,227.3"/><polygon points="526.7,224.0 527.6,226.7 530.6,226.8 528.2,228.5 529.1,231.3 526.7,229.6 524.3,231.3 525.2,228.5 522.9,226.8 525.8,226.7"/><polygon points="512.5,231.6 513.4,234.3 516.3,234.4 514.0,236.1 514.9,238.9 512.5,237.2 510.1,238.9 511.0,236.1 508.6,234.4 511.5,234.3"/><polygon points="459.0,227.8 459.9,230.5 462.8,230.6 460.5,232.3 461.3,235.1 459.0,233.4 456.6,235.1 457.4,232.3 455.1,230.6 458.0,230.5"/><polygon points="476.8,229.8 477.7,232.6 480.6,232.6 478.3,234.4 479.2,237.2 476.8,235.5 474.4,237.2 475.3,234.4 472.9,232.6 475.9,232.6"/><polygon points="489.3,235.0 490.3,237.7 493.2,237.8 490.8,239.5 491.7,242.3 489.3,240.6 486.9,242.3 487.8,239.5 485.5,237.8 488.4,237.7"/><polygon points="494.6,239.9 495.6,242.7 498.5,242.7 496.2,244.4 497.0,247.2 494.6,245.6 492.3,247.2 493.1,244.4 490.8,242.7 493.7,242.7"/><polygon points="450.2,239.0 451.2,241.7 454.1,241.8 451.7,243.5 452.6,246.3 450.2,244.6 447.8,246.3 448.7,243.5 446.4,241.8 449.3,241.7"/><polygon points="517.4,240.3 518.3,243.0 521.3,243.1 518.9,244.8 519.8,247.6 517.4,245.9 515.0,247.6 515.9,244.8 513.6,243.1 516.5,243.0"/><polygon points="539.6,233.1 540.6,235.8 543.5,235.9 541.1,237.6 542.0,240.4 539.6,238.7 537.2,240.4 538.1,237.6 535.8,235.9 538.7,235.8"/><polygon points="529.2,247.3 530.1,250.1 533.0,250.1 530.7,251.8 531.6,254.6 529.2,253.0 526.8,254.6 527.7,251.8 525.3,250.1 528.2,250.1"/><polygon points="534.7,248.3 535.6,251.0 538.5,251.1 536.2,252.8 537.1,255.6 534.7,253.9 532.3,255.6 533.2,252.8 530.8,251.1 533.7,251.0"/><polygon points="485.9,249.2 486.8,252.0 489.8,252.0 487.4,253.7 488.3,256.5 485.9,254.9 483.5,256.5 484.4,253.7 482.0,252.0 485.0,252.0"/><polygon points="472.6,253.9 473.6,256.7 476.5,256.7 474.1,258.5 475.0,261.3 472.6,259.6 470.2,261.3 471.1,258.5 468.8,256.7 471.7,256.7"/><polygon points="518.7,257.2 519.7,259.9 522.6,260.0 520.3,261.7 521.1,264.5 518.7,262.8 516.4,264.5 517.2,261.7 514.9,260.0 517.8,259.9"/><polygon points="623.8,173.7 624.7,176.4 627.7,176.5 625.3,178.2 626.2,181.0 623.8,179.3 621.4,181.0 622.3,178.2 620.0,176.5 622.9,176.4"/><polygon points="543.1,236.9 544.1,239.6 547.0,239.7 544.7,241.4 545.5,244.2 543.1,242.5 540.8,244.2 541.6,241.4 539.3,239.7 542.2,239.6"/><polygon points="545.0,242.9 546.0,245.7 548.9,245.7 546.6,247.5 547.4,250.3 545.0,248.6 542.7,250.3 543.5,247.5 541.2,245.7 544.1,245.7"/></g>
<text class="b" transform="translate(14.9,504.0) rotate(-90)" text-anchor="middle">Internal Validation</text>
<line class="g" x1="143.4" y1="372.5" x2="143.4" y2="620.3"/>
<line class="g" x1="205.3" y1="372.5" x2="205.3" y2="620.3"/>
<line class="g" x1="267.1" y1="372.5" x2="267.1" y2="620.3"/>
<line class="g" x1="81.6" y1="558.3" x2="329.0" y2="558.3"/>
<line class="g" x1="81.6" y1="496.4" x2="329.0" y2="496.4"/>
<line class="g" x1="81.6" y1="434.4" x2="329.0" y2="434.4"/>
<line class="tk" x1="81.6" y1="620.3" x2="81.6" y2="617.8"/>
<line class="tk" x1="81.6" y1="372.5" x2="81.6" y2="375.0"/>
<text class="t" x="81.6" y="642.6" text-anchor="middle">-10</text>
<line class="tk" x1="143.4" y1="620.3" x2="143.4" y2="617.8"/>
<line class="tk" x1="143.4" y1="372.5" x2="143.4" y2="375.0"/>
<text class="t" x="143.4" y="642.6" text-anchor="middle">-5</text>
<line class="tk" x1="205.3" y1="620.3" x2="205.3" y2="617.8"/>
<line class="tk" x1="205.3" y1="372.5" x2="205.3" y2="375.0"/>
<text class="t" x="205.3" y="642.6" text-anchor="middle">0</text>
<line class="tk" x1="267.1" y1="620.3" x2="267.1" y2="617.8"/>
<line class="tk" x1="267.1" y1="372.5" x2="267.1" y2="375.0"/>
<text class="t" x="267.1" y="642.6" text-anchor="middle">5</text>
<line class="tk" x1="329.0" y1="620.3" x2="329.0" y2="617.8"/>
<line class="tk" x1="329.0" y1="372.5" x2="329.0" y2="375.0"/>
<text class="t" x="329.0" y="642.6" text-anchor="middle">10</text>
<line class="tk" x1="81.6" y1="620.3" x2="84.1" y2="620.3"/>
<line class="tk" x1="329.0" y1="620.3" x2="326.5" y2="620.3"/>
<text class="t" x="74.5" y="627.0" text-anchor="end">-10</text>
<line class="tk" x1="81.6" y1="558.3" x2="84.1" y2="558.3"/>
<line class="tk" x1="329.0" y1="558.3" x2="326.5" y2="558.3"/>
<text class="t" x="74.5" y="565.0" text-anchor="end">-5</text>
<line class="tk" x1="81.6" y1="496.4" x2="84.1" y2="496.4"/>
<line class="tk" x1="329.0" y1="496.4" x2="326.5" y2="496.4"/>
<text class="t" x="74.5" y="502.0" text-anchor="end">0</text>
<line class="tk" x1="81.6" y1="434.4" x2="84.1" y2="434.4"/>
<line class="tk" x1="329.0" y1="434.4" x2="326.5" y2="434.4"/>
<text class="t" x="74.5" y="440.0" text-anchor="end">5</text>
<line class="tk" x1="81.6" y1="372.5" x2="84.1" y2="372.5"/>
<line class="tk" x1="329.0" y1="372.5" x2="326.5" y2="372.5"/>
<text class="t" x="74.5" y="378.0" text-anchor="end">10</text>
<rect class="ax" x="81.60" y="372.50" width="247.40" height="247.80"/>
<text class="l" x="205.1" y="663.7" text-anchor="middle">A</text>
<text class="l" transform="translate(44.2,497.1) rotate(-90)" text-anchor="middle">B</text>
<g class="c"><circle cx="201.5" cy="404.4" r="4.70"/><circle cx="198.6" cy="412.0" r="4.70"/><circle cx="184.0" cy="415.8" r="4.70"/><circle cx="195.8" cy="418.7" r="4.70"/><circle cx="158.4" cy="419.8" r="4.70"/><circle cx="170.7" cy="423.0" r="4.70"/><circle cx="185.3" cy="434.8" r="4.70"/><circle cx="162.6" cy="449.6" r="4.70"/><circle cx="166.0" cy="456.8" r="4.70"/><circle cx="200.9" cy="454.9" r="4.70"/><circle cx="132.2" cy="460.0" r="4.70"/><circle cx="141.7" cy="465.7" r="4.70"/><circle cx="152.1" cy="471.4" r="4.70"/><circle cx="115.7" cy="473.7" r="4.70"/><circle cx="160.3" cy="476.6" r="4.70"/><circle cx="189.1" cy="473.7" r="4.70"/><circle cx="202.4" cy="476.2" r="4.70"/><circle cx="204.3" cy="470.5" r="4.70"/><circle cx="147.4" cy="488.5" r="4.70"/><circle cx="153.1" cy="486.6" r="4.70"/><circle cx="160.7" cy="488.5" r="4.70"/><circle cx="192.0" cy="490.4" r="4.70"/><circle cx="218.3" cy="399.7" r="4.70"/><circle cx="233.5" cy="414.5" r="4.70"/><circle cx="217.3" cy="417.3" r="4.70"/><circle cx="223.4" cy="419.2" r="4.70"/><circle cx="207.3" cy="433.5" r="4.70"/><circle cx="243.5" cy="439.7" r="4.70"/><circle cx="239.2" cy="445.8" r="4.70"/><circle cx="207.8" cy="454.4" r="4.70"/><circle cx="257.2" cy="449.0" r="4.70"/><circle cx="263.3" cy="447.7" r="4.70"/><circle cx="222.7" cy="456.8" r="4.70"/><circle cx="245.8" cy="462.9" r="4.70"/><circle cx="234.4" cy="464.8" r="4.70"/><circle cx="285.1" cy="480.9" r="4.70"/><circle cx="213.5" cy="480.9" r="4.70"/><circle cx="238.2" cy="483.8" r="4.70"/><circle cx="242.0" cy="481.9" r="4.70"/><circle cx="221.1" cy="492.3" r="4.70"/><circle cx="147.8" cy="497.7" r="4.70"/><circle cx="166.0" cy="507.8" r="4.70"/><circle cx="135.6" cy="508.2" r="4.70"/><circle cx="199.6" cy="508.2" r="4.70"/><circle cx="191.0" cy="512.9" r="4.70"/><circle cx="201.5" cy="513.9" r="4.70"/><circle cx="179.3" cy="516.7" r="4.70"/><circle cx="195.8" cy="518.6" r="4.70"/><circle cx="139.8" cy="520.0" r="4.70"/><circle cx="199.6" cy="524.3" r="4.70"/><circle cx="192.9" cy="538.2" r="4.70"/><circle cx="201.5" cy="538.0" r="4.70"/><circle cx="105.1" cy="538.9" r="4.70"/><circle cx="129.9" cy="543.9" r="4.70"/><circle cx="137.9" cy="549.9" r="4.70"/><circle cx="123.7" cy="558.5" r="4.70"/><circle cx="194.4" cy="558.5" r="4.70"/><circle cx="173.6" cy="569.9" r="4.70"/><circle cx="210.7" cy="495.8" r="4.70"/><circle cx="264.8" cy="494.9" r="4.70"/><circle cx="248.3" cy="508.6" r="4.70"/><circle cx="262.5" cy="509.5" r="4.70"/><circle cx="208.2" cy="520.1" r="4.70"/><circle cx="221.1" cy="522.0" r="4.70"/><circle cx="245.8" cy="521.5" r="4.70"/><circle cx="243.0" cy="553.7" r="4.70"/><circle cx="295.7" cy="531.9" r="4.70"/><circle cx="308.8" cy="534.8" r="4.70"/><circle cx="298.0" cy="551.5" r="4.70"/><circle cx="280.0" cy="554.7" r="4.70"/><circle cx="274.3" cy="559.8" r="4.70"/><circle cx="279.0" cy="558.5" r="4.70"/><circle cx="294.2" cy="560.8" r="4.70"/><circle cx="300.5" cy="566.4" r="4.70"/></g>
<g class="s"><polygon points="174.3,403.2 175.3,406.0 178.2,406.0 175.8,407.8 176.7,410.6 174.3,408.9 171.9,410.6 172.8,407.8 170.5,406.0 173.4,406.0"/><polygon points="191.4,401.9 192.3,404.7 195.3,404.7 192.9,406.5 193.8,409.2 191.4,407.6 189.0,409.2 189.9,406.5 187.6,404.7 190.5,404.7"/><polygon points="186.3,414.2 187.2,417.0 190.1,417.0 187.8,418.8 188.7,421.6 186.3,419.9 183.9,421.6 184.8,418.8 182.4,417.0 185.3,417.0"/><polygon points="178.1,437.0 179.1,439.8 182.0,439.8 179.6,441.6 180.5,444.3 178.1,442.7 175.7,444.3 176.6,441.6 174.3,439.8 177.2,439.8"/><polygon points="183.1,445.0 184.0,447.7 186.9,447.8 184.6,449.5 185.4,452.3 183.1,450.6 180.7,452.3 181.5,449.5 179.2,447.8 182.1,447.7"/><polygon points="192.4,454.1 193.3,456.9 196.2,456.9 193.9,458.6 194.7,461.4 192.4,459.7 190.0,461.4 190.8,458.6 188.5,456.9 191.4,456.9"/><polygon points="129.7,449.7 130.7,452.5 133.6,452.5 131.2,454.3 132.1,457.1 129.7,455.4 127.3,457.1 128.2,454.3 125.9,452.5 128.8,452.5"/><polygon points="136.0,456.9 136.9,459.7 139.8,459.7 137.5,461.5 138.4,464.3 136.0,462.6 133.6,464.3 134.5,461.5 132.1,459.7 135.0,459.7"/><polygon points="151.2,464.2 152.1,466.9 155.0,467.0 152.7,468.7 153.6,471.5 151.2,469.8 148.8,471.5 149.6,468.7 147.3,467.0 150.2,466.9"/><polygon points="183.4,467.8 184.4,470.5 187.3,470.6 185.0,472.3 185.8,475.1 183.4,473.4 181.1,475.1 181.9,472.3 179.6,470.6 182.5,470.5"/><polygon points="187.2,473.1 188.2,475.8 191.1,475.9 188.8,477.6 189.6,480.4 187.2,478.7 184.9,480.4 185.7,477.6 183.4,475.9 186.3,475.8"/><polygon points="158.2,478.4 159.1,481.1 162.0,481.2 159.7,482.9 160.6,485.7 158.2,484.0 155.8,485.7 156.7,482.9 154.3,481.2 157.3,481.1"/><polygon points="132.6,482.0 133.5,484.8 136.4,484.8 134.1,486.5 135.0,489.3 132.6,487.6 130.2,489.3 131.0,486.5 128.7,484.8 131.6,484.8"/><polygon points="136.0,487.7 136.9,490.4 139.8,490.5 137.5,492.2 138.4,495.0 136.0,493.3 133.6,495.0 134.5,492.2 132.1,490.5 135.0,490.4"/><polygon points="164.8,485.4 165.8,488.2 168.7,488.2 166.4,490.0 167.2,492.7 164.8,491.1 162.5,492.7 163.3,490.0 161.0,488.2 163.9,488.2"/><polygon points="201.5,481.2 202.4,484.0 205.3,484.0 203.0,485.8 203.8,488.6 201.5,486.9 199.1,488.6 199.9,485.8 197.6,484.0 200.5,484.0"/><polygon points="171.5,488.3 172.4,491.0 175.3,491.1 173.0,492.8 173.9,495.6 171.5,493.9 169.1,495.6 170.0,492.8 167.6,491.1 170.5,491.0"/><polygon points="206.5,416.1 207.5,418.9 210.4,418.9 208.0,420.7 208.9,423.5 206.5,421.8 204.1,423.5 205.0,420.7 202.7,418.9 205.6,418.9"/><polygon points="250.5,431.3 251.5,434.1 254.4,434.1 252.1,435.9 252.9,438.7 250.5,437.0 248.2,438.7 249.0,435.9 246.7,434.1 249.6,434.1"/><polygon points="220.2,439.9 221.1,442.6 224.0,442.7 221.7,444.4 222.6,447.2 220.2,445.5 217.8,447.2 218.7,444.4 216.3,442.7 219.2,442.6"/><polygon points="207.8,442.9 208.8,445.7 211.7,445.7 209.4,447.4 210.2,450.2 207.8,448.6 205.5,450.2 206.3,447.4 204.0,445.7 206.9,445.7"/><polygon points="232.1,467.4 233.1,470.1 236.0,470.2 233.7,471.9 234.5,474.7 232.1,473.0 229.8,474.7 230.6,471.9 228.3,470.2 231.2,470.1"/><polygon points="214.9,465.9 215.8,468.6 218.7,468.7 216.4,470.4 217.2,473.2 214.9,471.5 212.5,473.2 213.3,470.4 211.0,468.7 213.9,468.6"/><polygon points="256.2,472.3 257.2,475.1 260.1,475.1 257.8,476.9 258.6,479.6 256.2,478.0 253.9,479.6 254.7,476.9 252.4,475.1 255.3,475.1"/><polygon points="257.4,470.6 258.3,473.4 261.2,473.4 258.9,475.2 259.8,477.9 257.4,476.3 255.0,477.9 255.9,475.2 253.5,473.4 256.4,473.4"/><polygon points="206.9,481.6 207.8,484.4 210.7,484.4 208.4,486.2 209.3,488.9 206.9,487.3 204.5,488.9 205.4,486.2 203.0,484.4 206.0,484.4"/><polygon points="227.8,486.9 228.7,489.7 231.6,489.7 229.3,491.5 230.2,494.3 227.8,492.6 225.4,494.3 226.3,491.5 223.9,489.7 226.8,489.7"/><polygon points="173.9,491.2 174.9,494.0 177.8,494.0 175.5,495.8 176.3,498.6 173.9,496.9 171.6,498.6 172.4,495.8 170.1,494.0 173.0,494.0"/><polygon points="158.2,497.5 159.1,500.2 162.0,500.3 159.7,502.0 160.6,504.8 158.2,503.1 155.8,504.8 156.7,502.0 154.3,500.3 157.3,500.2"/><polygon points="163.5,495.6 164.4,498.3 167.4,498.4 165.0,500.1 165.9,502.9 163.5,501.2 161.1,502.9 162.0,500.1 159.7,498.4 162.6,498.3"/><polygon points="186.9,494.6 187.8,497.4 190.7,497.4 188.4,499.2 189.2,502.0 186.9,500.3 184.5,502.0 185.3,499.2 183.0,497.4 185.9,497.4"/><polygon points="151.6,502.2 152.5,505.0 155.4,505.0 153.1,506.8 153.9,509.6 151.6,507.9 149.2,509.6 150.0,506.8 147.7,505.0 150.6,505.0"/><polygon points="121.4,504.1 122.3,506.9 125.2,506.9 122.9,508.7 123.8,511.5 121.4,509.8 119.0,511.5 119.9,508.7 117.5,506.9 120.4,506.9"/><polygon points="178.1,503.2 179.1,505.9 182.0,506.0 179.6,507.7 180.5,510.5 178.1,508.8 175.7,510.5 176.6,507.7 174.3,506.0 177.2,505.9"/><polygon points="174.3,507.0 175.3,509.7 178.2,509.8 175.8,511.5 176.7,514.3 174.3,512.6 171.9,514.3 172.8,511.5 170.5,509.8 173.4,509.7"/><polygon points="170.7,512.7 171.7,515.4 174.6,515.5 172.2,517.2 173.1,520.0 170.7,518.3 168.3,520.0 169.2,517.2 166.9,515.5 169.8,515.4"/><polygon points="185.7,517.0 186.7,519.8 189.6,519.8 187.2,521.6 188.1,524.4 185.7,522.7 183.3,524.4 184.2,521.6 181.9,519.8 184.8,519.8"/><polygon points="158.4,519.3 159.3,522.1 162.2,522.1 159.9,523.9 160.8,526.6 158.4,525.0 156.0,526.6 156.9,523.9 154.5,522.1 157.4,522.1"/><polygon points="153.6,524.1 154.6,526.8 157.5,526.9 155.2,528.6 156.0,531.4 153.6,529.7 151.3,531.4 152.1,528.6 149.8,526.9 152.7,526.8"/><polygon points="174.9,521.6 175.8,524.3 178.7,524.4 176.4,526.1 177.3,528.9 174.9,527.2 172.5,528.9 173.4,526.1 171.0,524.4 174.0,524.3"/><polygon points="188.7,525.0 189.7,527.8 192.6,527.8 190.3,529.6 191.1,532.3 188.7,530.7 186.4,532.3 187.2,529.6 184.9,527.8 187.8,527.8"/><polygon points="172.4,529.2 173.4,531.9 176.3,532.0 173.9,533.7 174.8,536.5 172.4,534.8 170.0,536.5 170.9,533.7 168.6,532.0 171.5,531.9"/><polygon points="166.9,537.3 167.9,540.1 170.8,540.1 168.4,541.9 169.3,544.7 166.9,543.0 164.5,544.7 165.4,541.9 163.1,540.1 166.0,540.1"/><polygon points="178.3,539.8 179.3,542.6 182.2,542.6 179.8,544.4 180.7,547.1 178.3,545.5 175.9,547.1 176.8,544.4 174.5,542.6 177.4,542.6"/><polygon points="142.6,538.7 143.6,541.4 146.5,541.5 144.2,543.2 145.0,546.0 142.6,544.3 140.2,546.0 141.1,543.2 138.8,541.5 141.7,541.4"/><polygon points="141.7,550.6 142.6,553.4 145.5,553.4 143.2,555.2 144.1,558.0 141.7,556.3 139.3,558.0 140.2,555.2 137.8,553.4 140.7,553.4"/><polygon points="126.5,549.7 127.4,552.4 130.4,552.5 128.0,554.2 128.9,557.0 126.5,555.3 124.1,557.0 125.0,554.2 122.6,552.5 125.6,552.4"/><polygon points="173.8,566.0 174.7,568.8 177.6,568.8 175.3,570.5 176.1,573.3 173.8,571.7 171.4,573.3 172.2,570.5 169.9,568.8 172.8,568.8"/><polygon points="213.0,491.2 213.9,494.0 216.8,494.0 214.5,495.8 215.4,498.6 213.0,496.9 210.6,498.6 211.4,495.8 209.1,494.0 212.0,494.0"/><polygon points="222.1,498.4 223.0,501.2 225.9,501.2 223.6,503.0 224.5,505.8 222.1,504.1 219.7,505.8 220.6,503.0 218.2,501.2 221.1,501.2"/><polygon points="232.5,496.5 233.5,499.3 236.4,499.3 234.0,501.1 234.9,503.9 232.5,502.2 230.1,503.9 231.0,501.1 228.7,499.3 231.6,499.3"/><polygon points="240.7,496.2 241.6,498.9 244.5,499.0 242.2,500.7 243.1,503.5 240.7,501.8 238.3,503.5 239.2,500.7 236.8,499.0 239.7,498.9"/><polygon points="253.4,490.5 254.3,493.2 257.2,493.3 254.9,495.0 255.8,497.8 253.4,496.1 251.0,497.8 251.9,495.0 249.5,493.3 252.5,493.2"/><polygon points="256.2,503.2 257.2,505.9 260.1,506.0 257.8,507.7 258.6,510.5 256.2,508.8 253.9,510.5 254.7,507.7 252.4,506.0 255.3,505.9"/><polygon points="209.2,507.4 210.1,510.1 213.0,510.2 210.7,511.9 211.6,514.7 209.2,513.0 206.8,514.7 207.7,511.9 205.3,510.2 208.2,510.1"/><polygon points="221.5,508.5 222.5,511.3 225.4,511.3 223.0,513.0 223.9,515.8 221.5,514.1 219.1,515.8 220.0,513.0 217.7,511.3 220.6,511.3"/><polygon points="246.0,517.6 246.9,520.4 249.8,520.4 247.5,522.2 248.4,524.9 246.0,523.3 243.6,524.9 244.5,522.2 242.1,520.4 245.1,520.4"/><polygon points="210.7,526.9 211.6,529.7 214.5,529.7 212.2,531.5 213.1,534.2 210.7,532.6 208.3,534.2 209.2,531.5 206.8,529.7 209.8,529.7"/><polygon points="224.5,529.8 225.5,532.5 228.4,532.6 226.1,534.3 226.9,537.1 224.5,535.4 222.2,537.1 223.0,534.3 220.7,532.6 223.6,532.5"/><polygon points="237.6,536.0 238.6,538.8 241.5,538.8 239.2,540.6 240.0,543.3 237.6,541.7 235.3,543.3 236.1,540.6 233.8,538.8 236.7,538.8"/><polygon points="219.2,550.1 220.2,552.8 223.1,552.9 220.8,554.6 221.6,557.4 219.2,555.7 216.9,557.4 217.7,554.6 215.4,552.9 218.3,552.8"/><polygon points="213.0,563.9 213.9,566.7 216.8,566.7 214.5,568.5 215.4,571.2 213.0,569.6 210.6,571.2 211.4,568.5 209.1,566.7 212.0,566.7"/><polygon points="276.7,535.1 277.7,537.8 280.6,537.9 278.3,539.6 279.1,542.4 276.7,540.7 274.4,542.4 275.2,539.6 272.9,537.9 275.8,537.8"/><polygon points="286.6,532.2 287.5,535.0 290.5,535.0 288.1,536.8 289.0,539.5 286.6,537.9 284.2,539.5 285.1,536.8 282.8,535.0 285.7,535.0"/><polygon points="294.8,538.9 295.7,541.6 298.6,541.7 296.3,543.4 297.2,546.2 294.8,544.5 292.4,546.2 293.2,543.4 290.9,541.7 293.8,541.6"/><polygon points="299.9,539.6 300.8,542.4 303.7,542.4 301.4,544.2 302.3,547.0 299.9,545.3 297.5,547.0 298.4,544.2 296.0,542.4 299.0,542.4"/><polygon points="295.7,545.9 296.7,548.6 299.6,548.7 297.2,550.4 298.1,553.2 295.7,551.5 293.3,553.2 294.2,550.4 291.9,548.7 294.8,548.6"/><polygon points="315.6,550.3 316.6,553.0 319.5,553.1 317.2,554.8 318.0,557.6 315.6,555.9 313.3,557.6 314.1,554.8 311.8,553.1 314.7,553.0"/><polygon points="291.4,551.6 292.3,554.3 295.2,554.4 292.9,556.1 293.7,558.9 291.4,557.2 289.0,558.9 289.8,556.1 287.5,554.4 290.4,554.3"/><polygon points="286.6,555.8 287.5,558.5 290.5,558.6 288.1,560.3 289.0,563.1 286.6,561.4 284.2,563.1 285.1,560.3 282.8,558.6 285.7,558.5"/><polygon points="282.4,562.0 283.4,564.8 286.3,564.8 284.0,566.6 284.8,569.3 282.4,567.7 280.1,569.3 280.9,566.6 278.6,564.8 281.5,564.8"/><polygon points="294.8,574.7 295.7,577.5 298.6,577.5 296.3,579.3 297.2,582.1 294.8,580.4 292.4,582.1 293.2,579.3 290.9,577.5 293.8,577.5"/></g>
<line class="g" x1="478.9" y1="372.5" x2="478.9" y2="620.3"/>
<line class="g" x1="540.9" y1="372.5" x2="540.9" y2="620.3"/>
<line class="g" x1="602.9" y1="372.5" x2="602.9" y2="620.3"/>
<line class="g" x1="416.9" y1="558.3" x2="664.9" y2="558.3"/>
<line class="g" x1="416.9" y1="496.4" x2="664.9" y2="496.4"/>
<line class="g" x1="416.9" y1="434.4" x2="664.9" y2="434.4"/>
<line class="tk" x1="416.9" y1="620.3" x2="416.9" y2="617.8"/>
<line class="tk" x1="416.9" y1="372.5" x2="416.9" y2="375.0"/>
<text class="t" x="416.9" y="642.6" text-anchor="middle">-10</text>
<line class="tk" x1="478.9" y1="620.3" x2="478.9" y2="617.8"/>
<line class="tk" x1="478.9" y1="372.5" x2="478.9" y2="375.0"/>
<text class="t" x="478.9" y="642.6" text-anchor="middle">-5</text>
<line class="tk" x1="540.9" y1="620.3" x2="540.9" y2="617.8"/>
<line class="tk" x1="540.9" y1="372.5" x2="540.9" y2="375.0"/>
<text class="t" x="540.9" y="642.6" text-anchor="middle">0</text>
<line class="tk" x1="602.9" y1="620.3" x2="602.9" y2="617.8"/>
<line class="tk" x1="602.9" y1="372.5" x2="602.9" y2="375.0"/>
<text class="t" x="602.9" y="642.6" text-anchor="middle">5</text>
<line class="tk" x1="664.9" y1="620.3" x2="664.9" y2="617.8"/>
<line class="tk" x1="664.9" y1="372.5" x2="664.9" y2="375.0"/>
<text class="t" x="664.9" y="642.6" text-anchor="middle">10</text>
<line class="tk" x1="416.9" y1="620.3" x2="419.4" y2="620.3"/>
<line class="tk" x1="664.9" y1="620.3" x2="662.4" y2="620.3"/>
<text class="t" x="409.8" y="627.0" text-anchor="end">-10</text>
<line class="tk" x1="416.9" y1="558.3" x2="419.4" y2="558.3"/>
<line class="tk" x1="664.9" y1="558.3" x2="662.4" y2="558.3"/>
<text class="t" x="409.8" y="565.0" text-anchor="end">-5</text>
<line class="tk" x1="416.9" y1="496.4" x2="419.4" y2="496.4"/>
<line class="tk" x1="664.9" y1="496.4" x2="662.4" y2="496.4"/>
<text class="t" x="409.8" y="502.0" text-anchor="end">0</text>
<line class="tk" x1="416.9" y1="434.4" x2="419.4" y2="434.4"/>
<line class="tk" x1="664.9" y1="434.4" x2="662.4" y2="434.4"/>
<text class="t" x="409.8" y="440.0" text-anchor="end">5</text>
<line class="tk" x1="416.9" y1="372.5" x2="419.4" y2="372.5"/>
<line class="tk" x1="664.9" y1="372.5" x2="662.4" y2="372.5"/>
<text class="t" x="409.8" y="378.0" text-anchor="end">10</text>
<rect class="ax" x="416.90" y="372.50" width="247.95" height="247.80"/>
<text class="l" x="540.7" y="663.7" text-anchor="middle">A</text>
<text class="l" transform="translate(379.5,497.1) rotate(-90)" text-anchor="middle">B</text>
<g class="c"><circle cx="509.6" cy="407.3" r="4.70"/><circle cx="536.8" cy="404.4" r="4.70"/><circle cx="533.9" cy="412.0" r="4.70"/><circle cx="519.3" cy="415.8" r="4.70"/><circle cx="521.6" cy="418.3" r="4.70"/><circle cx="531.1" cy="418.7" r="4.70"/><circle cx="493.7" cy="419.8" r="4.70"/><circle cx="506.0" cy="423.0" r="4.70"/><circle cx="520.6" cy="434.8" r="4.70"/><circle cx="518.4" cy="449.0" r="4.70"/><circle cx="501.3" cy="456.8" r="4.70"/><circle cx="527.7" cy="458.1" r="4.70"/><circle cx="536.2" cy="454.9" r="4.70"/><circle cx="465.0" cy="453.8" r="4.70"/><circle cx="539.6" cy="470.5" r="4.70"/><circle cx="536.8" cy="485.3" r="4.70"/><circle cx="553.6" cy="399.7" r="4.70"/><circle cx="568.8" cy="414.5" r="4.70"/><circle cx="542.6" cy="433.5" r="4.70"/><circle cx="585.8" cy="435.4" r="4.70"/><circle cx="578.8" cy="439.7" r="4.70"/><circle cx="574.5" cy="445.8" r="4.70"/><circle cx="555.5" cy="443.9" r="4.70"/><circle cx="543.1" cy="447.0" r="4.70"/><circle cx="543.1" cy="454.4" r="4.70"/><circle cx="598.6" cy="447.7" r="4.70"/><circle cx="558.0" cy="456.8" r="4.70"/><circle cx="581.1" cy="462.9" r="4.70"/><circle cx="569.7" cy="464.8" r="4.70"/><circle cx="567.4" cy="471.4" r="4.70"/><circle cx="591.5" cy="476.4" r="4.70"/><circle cx="573.5" cy="483.8" r="4.70"/><circle cx="577.3" cy="481.9" r="4.70"/><circle cx="563.1" cy="491.0" r="4.70"/><circle cx="556.4" cy="492.3" r="4.70"/><circle cx="522.2" cy="498.7" r="4.70"/><circle cx="475.1" cy="520.0" r="4.70"/><circle cx="528.2" cy="538.2" r="4.70"/><circle cx="440.4" cy="538.9" r="4.70"/><circle cx="546.0" cy="495.8" r="4.70"/><circle cx="548.3" cy="495.3" r="4.70"/><circle cx="557.4" cy="502.5" r="4.70"/><circle cx="576.0" cy="500.2" r="4.70"/><circle cx="588.7" cy="494.5" r="4.70"/><circle cx="600.1" cy="494.9" r="4.70"/><circle cx="583.6" cy="508.6" r="4.70"/><circle cx="591.5" cy="507.2" r="4.70"/><circle cx="597.8" cy="509.5" r="4.70"/><circle cx="543.5" cy="520.1" r="4.70"/><circle cx="556.4" cy="522.0" r="4.70"/><circle cx="581.1" cy="521.5" r="4.70"/><circle cx="612.0" cy="539.1" r="4.70"/><circle cx="621.9" cy="536.3" r="4.70"/><circle cx="631.0" cy="531.9" r="4.70"/><circle cx="644.1" cy="534.8" r="4.70"/><circle cx="630.1" cy="542.9" r="4.70"/><circle cx="635.2" cy="543.7" r="4.70"/><circle cx="631.0" cy="549.9" r="4.70"/><circle cx="633.3" cy="551.5" r="4.70"/><circle cx="650.9" cy="554.3" r="4.70"/><circle cx="615.3" cy="554.7" r="4.70"/><circle cx="609.6" cy="559.8" r="4.70"/><circle cx="614.3" cy="558.5" r="4.70"/><circle cx="626.7" cy="555.6" r="4.70"/><circle cx="621.9" cy="559.8" r="4.70"/><circle cx="629.5" cy="560.8" r="4.70"/><circle cx="617.7" cy="566.1" r="4.70"/><circle cx="635.8" cy="566.4" r="4.70"/><circle cx="630.1" cy="578.8" r="4.70"/></g>
<g class="s"><polygon points="526.7,401.9 527.6,404.7 530.6,404.7 528.2,406.5 529.1,409.2 526.7,407.6 524.3,409.2 525.2,406.5 522.9,404.7 525.8,404.7"/><polygon points="513.4,437.0 514.4,439.8 517.3,439.8 514.9,441.6 515.8,444.3 513.4,442.7 511.0,444.3 511.9,441.6 509.6,439.8 512.5,439.8"/><polygon points="497.9,445.6 498.8,448.3 501.7,448.4 499.4,450.1 500.2,452.9 497.9,451.2 495.5,452.9 496.3,450.1 494.0,448.4 496.9,448.3"/><polygon points="467.5,456.0 468.4,458.8 471.3,458.8 469.0,460.5 469.9,463.3 467.5,461.6 465.1,463.3 466.0,460.5 463.6,458.8 466.6,458.8"/><polygon points="471.3,456.9 472.2,459.7 475.1,459.7 472.8,461.5 473.7,464.3 471.3,462.6 468.9,464.3 469.8,461.5 467.4,459.7 470.3,459.7"/><polygon points="477.0,461.7 477.9,464.4 480.8,464.5 478.5,466.2 479.4,469.0 477.0,467.3 474.6,469.0 475.5,466.2 473.1,464.5 476.0,464.4"/><polygon points="486.5,464.2 487.4,466.9 490.3,467.0 488.0,468.7 488.9,471.5 486.5,469.8 484.1,471.5 484.9,468.7 482.6,467.0 485.5,466.9"/><polygon points="487.4,467.4 488.4,470.1 491.3,470.2 488.9,471.9 489.8,474.7 487.4,473.0 485.0,474.7 485.9,471.9 483.6,470.2 486.5,470.1"/><polygon points="451.0,469.7 451.9,472.4 454.8,472.5 452.5,474.2 453.4,477.0 451.0,475.3 448.6,477.0 449.5,474.2 447.1,472.5 450.0,472.4"/><polygon points="495.6,472.5 496.5,475.3 499.4,475.3 497.1,477.1 498.0,479.8 495.6,478.2 493.2,479.8 494.1,477.1 491.7,475.3 494.6,475.3"/><polygon points="518.7,467.8 519.7,470.5 522.6,470.6 520.3,472.3 521.1,475.1 518.7,473.4 516.4,475.1 517.2,472.3 514.9,470.6 517.8,470.5"/><polygon points="524.4,469.7 525.4,472.4 528.3,472.5 526.0,474.2 526.8,477.0 524.4,475.3 522.0,477.0 522.9,474.2 520.6,472.5 523.5,472.4"/><polygon points="522.5,473.1 523.5,475.8 526.4,475.9 524.1,477.6 524.9,480.4 522.5,478.7 520.2,480.4 521.0,477.6 518.7,475.9 521.6,475.8"/><polygon points="537.7,472.1 538.7,474.9 541.6,474.9 539.2,476.7 540.1,479.5 537.7,477.8 535.3,479.5 536.2,476.7 533.9,474.9 536.8,474.9"/><polygon points="493.5,478.4 494.4,481.1 497.3,481.2 495.0,482.9 495.9,485.7 493.5,484.0 491.1,485.7 492.0,482.9 489.6,481.2 492.6,481.1"/><polygon points="467.9,482.0 468.8,484.8 471.7,484.8 469.4,486.5 470.3,489.3 467.9,487.6 465.5,489.3 466.3,486.5 464.0,484.8 466.9,484.8"/><polygon points="471.3,487.7 472.2,490.4 475.1,490.5 472.8,492.2 473.7,495.0 471.3,493.3 468.9,495.0 469.8,492.2 467.4,490.5 470.3,490.4"/><polygon points="482.7,484.5 483.6,487.2 486.5,487.3 484.2,489.0 485.1,491.8 482.7,490.1 480.3,491.8 481.2,489.0 478.8,487.3 481.7,487.2"/><polygon points="488.4,482.6 489.3,485.3 492.2,485.4 489.9,487.1 490.7,489.9 488.4,488.2 486.0,489.9 486.8,487.1 484.5,485.4 487.4,485.3"/><polygon points="496.0,484.5 496.9,487.2 499.8,487.3 497.5,489.0 498.3,491.8 496.0,490.1 493.6,491.8 494.4,489.0 492.1,487.3 495.0,487.2"/><polygon points="500.1,485.4 501.1,488.2 504.0,488.2 501.7,490.0 502.5,492.7 500.1,491.1 497.8,492.7 498.6,490.0 496.3,488.2 499.2,488.2"/><polygon points="527.3,486.4 528.2,489.1 531.1,489.2 528.8,490.9 529.7,493.7 527.3,492.0 524.9,493.7 525.8,490.9 523.4,489.2 526.3,489.1"/><polygon points="506.8,488.3 507.7,491.0 510.6,491.1 508.3,492.8 509.2,495.6 506.8,493.9 504.4,495.6 505.3,492.8 502.9,491.1 505.8,491.0"/><polygon points="552.6,413.3 553.6,416.1 556.5,416.1 554.2,417.8 555.0,420.6 552.6,418.9 550.3,420.6 551.1,417.8 548.8,416.1 551.7,416.1"/><polygon points="558.7,415.2 559.7,417.9 562.6,418.0 560.2,419.7 561.1,422.5 558.7,420.8 556.3,422.5 557.2,419.7 554.9,418.0 557.8,417.9"/><polygon points="541.8,416.1 542.8,418.9 545.7,418.9 543.3,420.7 544.2,423.5 541.8,421.8 539.4,423.5 540.3,420.7 538.0,418.9 540.9,418.9"/><polygon points="592.5,445.0 593.4,447.7 596.3,447.8 594.0,449.5 594.9,452.3 592.5,450.6 590.1,452.3 591.0,449.5 588.6,447.8 591.6,447.7"/><polygon points="550.2,465.9 551.1,468.6 554.0,468.7 551.7,470.4 552.5,473.2 550.2,471.5 547.8,473.2 548.6,470.4 546.3,468.7 549.2,468.6"/><polygon points="592.7,470.6 593.6,473.4 596.5,473.4 594.2,475.2 595.1,477.9 592.7,476.3 590.3,477.9 591.2,475.2 588.8,473.4 591.7,473.4"/><polygon points="620.4,476.9 621.3,479.6 624.2,479.7 621.9,481.4 622.8,484.2 620.4,482.5 618.0,484.2 618.9,481.4 616.5,479.7 619.5,479.6"/><polygon points="548.8,476.9 549.8,479.6 552.7,479.7 550.4,481.4 551.2,484.2 548.8,482.5 546.5,484.2 547.3,481.4 545.0,479.7 547.9,479.6"/><polygon points="542.2,481.6 543.1,484.4 546.0,484.4 543.7,486.2 544.6,488.9 542.2,487.3 539.8,488.9 540.7,486.2 538.3,484.4 541.3,484.4"/><polygon points="483.1,493.7 484.0,496.5 486.9,496.5 484.6,498.2 485.4,501.0 483.1,499.3 480.7,501.0 481.5,498.2 479.2,496.5 482.1,496.5"/><polygon points="509.2,491.2 510.2,494.0 513.1,494.0 510.8,495.8 511.6,498.6 509.2,496.9 506.9,498.6 507.7,495.8 505.4,494.0 508.3,494.0"/><polygon points="493.5,497.5 494.4,500.2 497.3,500.3 495.0,502.0 495.9,504.8 493.5,503.1 491.1,504.8 492.0,502.0 489.6,500.3 492.6,500.2"/><polygon points="498.8,495.6 499.7,498.3 502.7,498.4 500.3,500.1 501.2,502.9 498.8,501.2 496.4,502.9 497.3,500.1 495.0,498.4 497.9,498.3"/><polygon points="486.9,502.2 487.8,505.0 490.7,505.0 488.4,506.8 489.2,509.6 486.9,507.9 484.5,509.6 485.3,506.8 483.0,505.0 485.9,505.0"/><polygon points="501.3,503.8 502.2,506.5 505.1,506.6 502.8,508.3 503.7,511.1 501.3,509.4 498.9,511.1 499.8,508.3 497.4,506.6 500.3,506.5"/><polygon points="456.7,504.1 457.6,506.9 460.5,506.9 458.2,508.7 459.1,511.5 456.7,509.8 454.3,511.5 455.2,508.7 452.8,506.9 455.7,506.9"/><polygon points="470.9,504.1 471.8,506.9 474.8,506.9 472.4,508.7 473.3,511.5 470.9,509.8 468.5,511.5 469.4,508.7 467.1,506.9 470.0,506.9"/><polygon points="513.4,503.2 514.4,505.9 517.3,506.0 514.9,507.7 515.8,510.5 513.4,508.8 511.0,510.5 511.9,507.7 509.6,506.0 512.5,505.9"/><polygon points="509.6,507.0 510.6,509.7 513.5,509.8 511.1,511.5 512.0,514.3 509.6,512.6 507.2,514.3 508.1,511.5 505.8,509.8 508.7,509.7"/><polygon points="534.9,504.1 535.8,506.9 538.7,506.9 536.4,508.7 537.2,511.5 534.9,509.8 532.5,511.5 533.3,508.7 531.0,506.9 533.9,506.9"/><polygon points="526.3,508.9 527.3,511.6 530.2,511.7 527.8,513.4 528.7,516.2 526.3,514.5 523.9,516.2 524.8,513.4 522.5,511.7 525.4,511.6"/><polygon points="536.8,509.8 537.7,512.6 540.6,512.6 538.3,514.4 539.1,517.2 536.8,515.5 534.4,517.2 535.2,514.4 532.9,512.6 535.8,512.6"/><polygon points="506.0,512.7 507.0,515.4 509.9,515.5 507.5,517.2 508.4,520.0 506.0,518.3 503.6,520.0 504.5,517.2 502.2,515.5 505.1,515.4"/><polygon points="514.6,512.7 515.5,515.4 518.4,515.5 516.1,517.2 516.9,520.0 514.6,518.3 512.2,520.0 513.0,517.2 510.7,515.5 513.6,515.4"/><polygon points="531.1,514.6 532.0,517.3 534.9,517.4 532.6,519.1 533.5,521.9 531.1,520.2 528.7,521.9 529.5,519.1 527.2,517.4 530.1,517.3"/><polygon points="521.0,517.0 522.0,519.8 524.9,519.8 522.5,521.6 523.4,524.4 521.0,522.7 518.6,524.4 519.5,521.6 517.2,519.8 520.1,519.8"/><polygon points="534.9,520.3 535.8,523.0 538.7,523.1 536.4,524.8 537.2,527.6 534.9,525.9 532.5,527.6 533.3,524.8 531.0,523.1 533.9,523.0"/><polygon points="493.7,519.3 494.6,522.1 497.5,522.1 495.2,523.9 496.1,526.6 493.7,525.0 491.3,526.6 492.2,523.9 489.8,522.1 492.7,522.1"/><polygon points="488.9,524.1 489.9,526.8 492.8,526.9 490.5,528.6 491.3,531.4 488.9,529.7 486.6,531.4 487.4,528.6 485.1,526.9 488.0,526.8"/><polygon points="510.2,521.6 511.1,524.3 514.0,524.4 511.7,526.1 512.6,528.9 510.2,527.2 507.8,528.9 508.7,526.1 506.3,524.4 509.3,524.3"/><polygon points="524.0,525.0 525.0,527.8 527.9,527.8 525.6,529.6 526.4,532.3 524.0,530.7 521.7,532.3 522.5,529.6 520.2,527.8 523.1,527.8"/><polygon points="507.7,529.2 508.7,531.9 511.6,532.0 509.2,533.7 510.1,536.5 507.7,534.8 505.3,536.5 506.2,533.7 503.9,532.0 506.8,531.9"/><polygon points="536.8,533.9 537.7,536.7 540.6,536.7 538.3,538.5 539.1,541.3 536.8,539.6 534.4,541.3 535.2,538.5 532.9,536.7 535.8,536.7"/><polygon points="502.2,537.3 503.2,540.1 506.1,540.1 503.7,541.9 504.6,544.7 502.2,543.0 499.8,544.7 500.7,541.9 498.4,540.1 501.3,540.1"/><polygon points="513.6,539.8 514.6,542.6 517.5,542.6 515.1,544.4 516.0,547.1 513.6,545.5 511.2,547.1 512.1,544.4 509.8,542.6 512.7,542.6"/><polygon points="477.9,538.7 478.9,541.4 481.8,541.5 479.5,543.2 480.3,546.0 477.9,544.3 475.5,546.0 476.4,543.2 474.1,541.5 477.0,541.4"/><polygon points="465.2,539.8 466.2,542.6 469.1,542.6 466.7,544.4 467.6,547.1 465.2,545.5 462.8,547.1 463.7,544.4 461.4,542.6 464.3,542.6"/><polygon points="473.2,545.9 474.1,548.6 477.0,548.7 474.7,550.4 475.6,553.2 473.2,551.5 470.8,553.2 471.7,550.4 469.3,548.7 472.2,548.6"/><polygon points="477.0,550.6 477.9,553.4 480.8,553.4 478.5,555.2 479.4,558.0 477.0,556.3 474.6,558.0 475.5,555.2 473.1,553.4 476.0,553.4"/><polygon points="461.8,549.7 462.7,552.4 465.7,552.5 463.3,554.2 464.2,557.0 461.8,555.3 459.4,557.0 460.3,554.2 457.9,552.5 460.9,552.4"/><polygon points="459.0,554.4 459.9,557.2 462.8,557.2 460.5,559.0 461.3,561.8 459.0,560.1 456.6,561.8 457.4,559.0 455.1,557.2 458.0,557.2"/><polygon points="529.7,554.4 530.7,557.2 533.6,557.2 531.3,559.0 532.1,561.8 529.7,560.1 527.4,561.8 528.2,559.0 525.9,557.2 528.8,557.2"/><polygon points="508.9,565.8 509.8,568.6 512.7,568.6 510.4,570.4 511.2,573.1 508.9,571.5 506.5,573.1 507.3,570.4 505.0,568.6 507.9,568.6"/><polygon points="509.1,566.0 510.0,568.8 512.9,568.8 510.6,570.5 511.4,573.3 509.1,571.7 506.7,573.3 507.5,570.5 505.2,568.8 508.1,568.8"/><polygon points="567.8,496.5 568.8,499.3 571.7,499.3 569.3,501.1 570.2,503.9 567.8,502.2 565.4,503.9 566.3,501.1 564.0,499.3 566.9,499.3"/><polygon points="544.5,507.4 545.4,510.1 548.3,510.2 546.0,511.9 546.9,514.7 544.5,513.0 542.1,514.7 543.0,511.9 540.6,510.2 543.5,510.1"/><polygon points="556.8,508.5 557.8,511.3 560.7,511.3 558.3,513.0 559.2,515.8 556.8,514.1 554.4,515.8 555.3,513.0 553.0,511.3 555.9,511.3"/><polygon points="581.3,517.6 582.2,520.4 585.1,520.4 582.8,522.2 583.7,524.9 581.3,523.3 578.9,524.9 579.8,522.2 577.4,520.4 580.4,520.4"/><polygon points="546.0,526.9 546.9,529.7 549.8,529.7 547.5,531.5 548.4,534.2 546.0,532.6 543.6,534.2 544.5,531.5 542.1,529.7 545.1,529.7"/><polygon points="559.8,529.8 560.8,532.5 563.7,532.6 561.4,534.3 562.2,537.1 559.8,535.4 557.5,537.1 558.3,534.3 556.0,532.6 558.9,532.5"/><polygon points="572.9,536.0 573.9,538.8 576.8,538.8 574.5,540.6 575.3,543.3 572.9,541.7 570.6,543.3 571.4,540.6 569.1,538.8 572.0,538.8"/><polygon points="554.5,550.1 555.5,552.8 558.4,552.9 556.1,554.6 556.9,557.4 554.5,555.7 552.2,557.4 553.0,554.6 550.7,552.9 553.6,552.8"/><polygon points="578.3,549.7 579.2,552.4 582.1,552.5 579.8,554.2 580.6,557.0 578.3,555.3 575.9,557.0 576.7,554.2 574.4,552.5 577.3,552.4"/><polygon points="548.3,563.9 549.2,566.7 552.1,566.7 549.8,568.5 550.7,571.2 548.3,569.6 545.9,571.2 546.7,568.5 544.4,566.7 547.3,566.7"/></g>
<text class="b" transform="translate(14.9,826.9) rotate(-90)" text-anchor="middle">Independent Validation</text>
<line class="g" x1="122.8" y1="699.9" x2="122.8" y2="948.4"/>
<line class="g" x1="205.3" y1="699.9" x2="205.3" y2="948.4"/>
<line class="g" x1="287.8" y1="699.9" x2="287.8" y2="948.4"/>
<line class="g" x1="81.6" y1="907.0" x2="329.0" y2="907.0"/>
<line class="g" x1="81.6" y1="865.6" x2="329.0" y2="865.6"/>
<line class="g" x1="81.6" y1="824.1" x2="329.0" y2="824.1"/>
<line class="g" x1="81.6" y1="782.7" x2="329.0" y2="782.7"/>
<line class="g" x1="81.6" y1="741.3" x2="329.0" y2="741.3"/>
<line class="tk" x1="122.8" y1="948.4" x2="122.8" y2="945.9"/>
<line class="tk" x1="122.8" y1="699.9" x2="122.8" y2="702.4"/>
<text class="t" x="122.8" y="970.7" text-anchor="middle">-20</text>
<line class="tk" x1="205.3" y1="948.4" x2="205.3" y2="945.9"/>
<line class="tk" x1="205.3" y1="699.9" x2="205.3" y2="702.4"/>
<text class="t" x="205.3" y="970.7" text-anchor="middle">0</text>
<line class="tk" x1="287.8" y1="948.4" x2="287.8" y2="945.9"/>
<line class="tk" x1="287.8" y1="699.9" x2="287.8" y2="702.4"/>
<text class="t" x="287.8" y="970.7" text-anchor="middle">20</text>
<line class="tk" x1="81.6" y1="948.4" x2="84.1" y2="948.4"/>
<line class="tk" x1="329.0" y1="948.4" x2="326.5" y2="948.4"/>
<text class="t" x="74.5" y="955.0" text-anchor="end">-30</text>
<line class="tk" x1="81.6" y1="907.0" x2="84.1" y2="907.0"/>
<line class="tk" x1="329.0" y1="907.0" x2="326.5" y2="907.0"/>
<text class="t" x="74.5" y="913.0" text-anchor="end">-20</text>
<line class="tk" x1="81.6" y1="865.6" x2="84.1" y2="865.6"/>
<line class="tk" x1="329.0" y1="865.6" x2="326.5" y2="865.6"/>
<text class="t" x="74.5" y="872.0" text-anchor="end">-10</text>
<line class="tk" x1="81.6" y1="824.1" x2="84.1" y2="824.1"/>
<line class="tk" x1="329.0" y1="824.1" x2="326.5" y2="824.1"/>
<text class="t" x="74.5" y="830.0" text-anchor="end">0</text>
<line class="tk" x1="81.6" y1="782.7" x2="84.1" y2="782.7"/>
<line class="tk" x1="329.0" y1="782.7" x2="326.5" y2="782.7"/>
<text class="t" x="74.5" y="788.0" text-anchor="end">10</text>
<line class="tk" x1="81.6" y1="741.3" x2="84.1" y2="741.3"/>
<line class="tk" x1="329.0" y1="741.3" x2="326.5" y2="741.3"/>
<text class="t" x="74.5" y="747.0" text-anchor="end">20</text>
<line class="tk" x1="81.6" y1="699.9" x2="84.1" y2="699.9"/>
<line class="tk" x1="329.0" y1="699.9" x2="326.5" y2="699.9"/>
<text class="t" x="74.5" y="705.0" text-anchor="end">30</text>
<rect class="ax" x="81.60" y="699.90" width="247.40" height="248.50"/>
<text class="l" x="205.1" y="991.8" text-anchor="middle">A</text>
<text class="l" transform="translate(44.2,824.9) rotate(-90)" text-anchor="middle">B</text>
<g class="c"><circle cx="158.7" cy="739.0" r="4.70"/><circle cx="162.4" cy="739.0" r="4.70"/><circle cx="165.3" cy="739.7" r="4.70"/><circle cx="176.2" cy="734.6" r="4.70"/><circle cx="193.8" cy="734.6" r="4.70"/><circle cx="203.2" cy="733.9" r="4.70"/><circle cx="183.5" cy="739.7" r="4.70"/><circle cx="125.1" cy="751.4" r="4.70"/><circle cx="134.6" cy="748.5" r="4.70"/><circle cx="138.3" cy="746.3" r="4.70"/><circle cx="141.2" cy="749.2" r="4.70"/><circle cx="165.3" cy="749.9" r="4.70"/><circle cx="175.5" cy="749.2" r="4.70"/><circle cx="187.2" cy="749.9" r="4.70"/><circle cx="208.4" cy="743.4" r="4.70"/><circle cx="208.4" cy="750.7" r="4.70"/><circle cx="154.3" cy="762.3" r="4.70"/><circle cx="143.4" cy="765.3" r="4.70"/><circle cx="173.3" cy="763.8" r="4.70"/><circle cx="180.6" cy="763.1" r="4.70"/><circle cx="191.6" cy="762.3" r="4.70"/><circle cx="203.2" cy="763.1" r="4.70"/><circle cx="123.7" cy="768.9" r="4.70"/><circle cx="127.3" cy="771.8" r="4.70"/><circle cx="128.8" cy="774.7" r="4.70"/><circle cx="164.6" cy="773.3" r="4.70"/><circle cx="180.6" cy="771.1" r="4.70"/><circle cx="198.1" cy="771.1" r="4.70"/><circle cx="206.9" cy="768.2" r="4.70"/><circle cx="209.8" cy="763.8" r="4.70"/><circle cx="139.0" cy="779.1" r="4.70"/><circle cx="154.3" cy="782.8" r="4.70"/><circle cx="158.7" cy="783.5" r="4.70"/><circle cx="162.4" cy="784.2" r="4.70"/><circle cx="165.3" cy="786.4" r="4.70"/><circle cx="160.9" cy="787.9" r="4.70"/><circle cx="195.9" cy="776.2" r="4.70"/><circle cx="198.1" cy="780.6" r="4.70"/><circle cx="205.4" cy="778.4" r="4.70"/><circle cx="209.8" cy="778.4" r="4.70"/><circle cx="142.7" cy="787.2" r="4.70"/><circle cx="185.0" cy="790.1" r="4.70"/><circle cx="187.9" cy="792.3" r="4.70"/><circle cx="190.8" cy="790.8" r="4.70"/><circle cx="182.1" cy="794.5" r="4.70"/><circle cx="179.2" cy="797.4" r="4.70"/><circle cx="185.0" cy="798.8" r="4.70"/><circle cx="195.2" cy="799.6" r="4.70"/><circle cx="198.1" cy="801.8" r="4.70"/><circle cx="199.6" cy="797.4" r="4.70"/><circle cx="206.9" cy="791.5" r="4.70"/><circle cx="209.8" cy="801.8" r="4.70"/><circle cx="133.9" cy="808.3" r="4.70"/><circle cx="174.8" cy="801.8" r="4.70"/><circle cx="183.5" cy="804.7" r="4.70"/><circle cx="153.6" cy="814.9" r="4.70"/><circle cx="166.7" cy="817.1" r="4.70"/><circle cx="202.5" cy="813.4" r="4.70"/><circle cx="205.4" cy="816.4" r="4.70"/><circle cx="212.7" cy="744.1" r="4.70"/><circle cx="218.6" cy="755.8" r="4.70"/><circle cx="236.8" cy="752.8" r="4.70"/><circle cx="249.2" cy="754.3" r="4.70"/><circle cx="263.8" cy="761.6" r="4.70"/><circle cx="236.1" cy="763.8" r="4.70"/><circle cx="252.9" cy="763.1" r="4.70"/><circle cx="214.9" cy="766.7" r="4.70"/><circle cx="219.3" cy="771.1" r="4.70"/><circle cx="236.1" cy="771.1" r="4.70"/><circle cx="241.2" cy="768.2" r="4.70"/><circle cx="247.0" cy="771.8" r="4.70"/><circle cx="254.3" cy="769.6" r="4.70"/><circle cx="258.7" cy="766.7" r="4.70"/><circle cx="260.2" cy="763.8" r="4.70"/><circle cx="216.4" cy="778.4" r="4.70"/><circle cx="220.8" cy="781.3" r="4.70"/><circle cx="231.0" cy="779.9" r="4.70"/><circle cx="238.3" cy="784.2" r="4.70"/><circle cx="250.0" cy="785.0" r="4.70"/><circle cx="262.4" cy="785.0" r="4.70"/><circle cx="214.2" cy="788.6" r="4.70"/><circle cx="226.6" cy="787.9" r="4.70"/><circle cx="232.4" cy="786.4" r="4.70"/><circle cx="263.8" cy="793.0" r="4.70"/><circle cx="272.6" cy="797.4" r="4.70"/><circle cx="247.0" cy="795.9" r="4.70"/><circle cx="238.3" cy="790.1" r="4.70"/><circle cx="219.3" cy="795.2" r="4.70"/><circle cx="228.1" cy="797.4" r="4.70"/><circle cx="214.9" cy="801.0" r="4.70"/><circle cx="232.4" cy="811.2" r="4.70"/><circle cx="260.2" cy="809.1" r="4.70"/><circle cx="270.4" cy="810.5" r="4.70"/><circle cx="239.7" cy="817.8" r="4.70"/><circle cx="248.5" cy="806.1" r="4.70"/><circle cx="222.9" cy="790.1" r="4.70"/><circle cx="243.4" cy="775.5" r="4.70"/><circle cx="250.0" cy="775.5" r="4.70"/><circle cx="137.5" cy="821.5" r="4.70"/><circle cx="151.4" cy="822.9" r="4.70"/><circle cx="166.0" cy="822.2" r="4.70"/><circle cx="191.6" cy="823.6" r="4.70"/><circle cx="201.8" cy="823.6" r="4.70"/><circle cx="208.4" cy="826.6" r="4.70"/><circle cx="161.6" cy="839.7" r="4.70"/><circle cx="174.0" cy="831.7" r="4.70"/><circle cx="171.1" cy="844.1" r="4.70"/><circle cx="177.0" cy="847.0" r="4.70"/><circle cx="182.1" cy="843.4" r="4.70"/><circle cx="193.0" cy="843.4" r="4.70"/><circle cx="198.1" cy="841.9" r="4.70"/><circle cx="205.4" cy="841.9" r="4.70"/><circle cx="208.4" cy="837.5" r="4.70"/><circle cx="166.7" cy="858.0" r="4.70"/><circle cx="168.9" cy="852.8" r="4.70"/><circle cx="180.6" cy="854.3" r="4.70"/><circle cx="195.9" cy="855.8" r="4.70"/><circle cx="206.9" cy="851.4" r="4.70"/><circle cx="209.1" cy="862.3" r="4.70"/><circle cx="139.0" cy="874.7" r="4.70"/><circle cx="155.8" cy="871.1" r="4.70"/><circle cx="162.4" cy="868.2" r="4.70"/><circle cx="166.0" cy="872.6" r="4.70"/><circle cx="170.4" cy="871.8" r="4.70"/><circle cx="184.3" cy="877.7" r="4.70"/><circle cx="188.6" cy="875.5" r="4.70"/><circle cx="192.3" cy="871.8" r="4.70"/><circle cx="201.8" cy="872.6" r="4.70"/><circle cx="208.4" cy="868.2" r="4.70"/><circle cx="179.2" cy="885.0" r="4.70"/><circle cx="185.0" cy="884.2" r="4.70"/><circle cx="190.8" cy="885.0" r="4.70"/><circle cx="180.6" cy="890.8" r="4.70"/><circle cx="186.5" cy="891.5" r="4.70"/><circle cx="202.5" cy="888.6" r="4.70"/><circle cx="206.9" cy="885.7" r="4.70"/><circle cx="169.7" cy="896.6" r="4.70"/><circle cx="187.9" cy="899.6" r="4.70"/><circle cx="185.7" cy="903.2" r="4.70"/><circle cx="180.6" cy="909.1" r="4.70"/><circle cx="185.0" cy="910.5" r="4.70"/><circle cx="192.3" cy="910.5" r="4.70"/><circle cx="182.8" cy="906.9" r="4.70"/><circle cx="173.3" cy="856.5" r="4.70"/><circle cx="177.0" cy="863.8" r="4.70"/><circle cx="186.5" cy="871.1" r="4.70"/><circle cx="197.4" cy="873.3" r="4.70"/><circle cx="205.4" cy="881.3" r="4.70"/><circle cx="194.5" cy="876.2" r="4.70"/><circle cx="174.8" cy="877.7" r="4.70"/><circle cx="177.0" cy="888.6" r="4.70"/><circle cx="199.6" cy="885.0" r="4.70"/><circle cx="211.3" cy="828.8" r="4.70"/><circle cx="191.6" cy="823.6" r="4.70"/><circle cx="214.9" cy="823.6" r="4.70"/><circle cx="239.0" cy="821.5" r="4.70"/><circle cx="239.7" cy="829.5" r="4.70"/><circle cx="254.3" cy="826.6" r="4.70"/><circle cx="273.3" cy="824.4" r="4.70"/><circle cx="229.5" cy="834.6" r="4.70"/><circle cx="216.4" cy="839.0" r="4.70"/><circle cx="216.4" cy="845.5" r="4.70"/><circle cx="262.4" cy="839.0" r="4.70"/><circle cx="295.9" cy="839.0" r="4.70"/><circle cx="306.9" cy="837.5" r="4.70"/><circle cx="305.4" cy="841.9" r="4.70"/><circle cx="239.0" cy="847.0" r="4.70"/><circle cx="228.8" cy="852.1" r="4.70"/><circle cx="246.3" cy="852.1" r="4.70"/><circle cx="259.4" cy="852.8" r="4.70"/><circle cx="266.0" cy="852.8" r="4.70"/><circle cx="286.5" cy="851.4" r="4.70"/><circle cx="295.2" cy="855.8" r="4.70"/><circle cx="291.6" cy="862.3" r="4.70"/><circle cx="222.9" cy="863.1" r="4.70"/><circle cx="228.8" cy="862.3" r="4.70"/><circle cx="271.9" cy="863.1" r="4.70"/><circle cx="241.9" cy="862.3" r="4.70"/><circle cx="235.4" cy="868.9" r="4.70"/><circle cx="258.7" cy="868.9" r="4.70"/><circle cx="263.8" cy="867.4" r="4.70"/><circle cx="263.1" cy="885.0" r="4.70"/><circle cx="272.6" cy="884.2" r="4.70"/><circle cx="247.8" cy="894.5" r="4.70"/><circle cx="228.1" cy="891.5" r="4.70"/><circle cx="214.9" cy="885.0" r="4.70"/><circle cx="214.2" cy="876.9" r="4.70"/><circle cx="225.9" cy="874.0" r="4.70"/></g>
<g class="s"><polygon points="170.4,724.0 171.3,726.7 174.2,726.8 171.9,728.5 172.8,731.3 170.4,729.6 168.0,731.3 168.9,728.5 166.5,726.8 169.5,726.7"/><polygon points="174.0,729.8 175.0,732.6 177.9,732.6 175.6,734.4 176.4,737.1 174.0,735.5 171.7,737.1 172.5,734.4 170.2,732.6 173.1,732.6"/><polygon points="172.6,737.8 173.5,740.6 176.4,740.6 174.1,742.4 175.0,745.2 172.6,743.5 170.2,745.2 171.1,742.4 168.7,740.6 171.6,740.6"/><polygon points="176.2,738.6 177.2,741.3 180.1,741.4 177.8,743.1 178.6,745.9 176.2,744.2 173.9,745.9 174.7,743.1 172.4,741.4 175.3,741.3"/><polygon points="179.2,750.3 180.1,753.0 183.0,753.1 180.7,754.8 181.5,757.6 179.2,755.9 176.8,757.6 177.6,754.8 175.3,753.1 178.2,753.0"/><polygon points="187.9,732.7 188.9,735.5 191.8,735.5 189.4,737.3 190.3,740.1 187.9,738.4 185.5,740.1 186.4,737.3 184.1,735.5 187.0,735.5"/><polygon points="209.8,723.2 210.8,726.0 213.7,726.0 211.3,727.8 212.2,730.6 209.8,728.9 207.4,730.6 208.3,727.8 206.0,726.0 208.9,726.0"/><polygon points="157.3,744.4 158.2,747.2 161.1,747.2 158.8,749.0 159.6,751.7 157.3,750.1 154.9,751.7 155.7,749.0 153.4,747.2 156.3,747.2"/><polygon points="158.7,747.3 159.7,750.1 162.6,750.1 160.2,751.9 161.1,754.7 158.7,753.0 156.3,754.7 157.2,751.9 154.9,750.1 157.8,750.1"/><polygon points="162.4,753.9 163.3,756.7 166.2,756.7 163.9,758.5 164.7,761.2 162.4,759.6 160.0,761.2 160.8,758.5 158.5,756.7 161.4,756.7"/><polygon points="166.7,756.1 167.7,758.9 170.6,758.9 168.3,760.6 169.1,763.4 166.7,761.7 164.4,763.4 165.2,760.6 162.9,758.9 165.8,758.9"/><polygon points="143.4,747.3 144.3,750.1 147.2,750.1 144.9,751.9 145.8,754.7 143.4,753.0 141.0,754.7 141.9,751.9 139.5,750.1 142.4,750.1"/><polygon points="145.6,751.0 146.5,753.7 149.4,753.8 147.1,755.5 148.0,758.3 145.6,756.6 143.2,758.3 144.1,755.5 141.7,753.8 144.6,753.7"/><polygon points="147.8,753.2 148.7,755.9 151.6,756.0 149.3,757.7 150.1,760.5 147.8,758.8 145.4,760.5 146.2,757.7 143.9,756.0 146.8,755.9"/><polygon points="146.3,755.4 147.2,758.1 150.2,758.2 147.8,759.9 148.7,762.7 146.3,761.0 143.9,762.7 144.8,759.9 142.5,758.2 145.4,758.1"/><polygon points="122.9,751.7 123.9,754.5 126.8,754.5 124.5,756.3 125.3,759.0 122.9,757.4 120.6,759.0 121.4,756.3 119.1,754.5 122.0,754.5"/><polygon points="126.6,754.6 127.5,757.4 130.5,757.4 128.1,759.2 129.0,762.0 126.6,760.3 124.2,762.0 125.1,759.2 122.7,757.4 125.7,757.4"/><polygon points="130.2,757.6 131.2,760.3 134.1,760.4 131.8,762.1 132.6,764.9 130.2,763.2 127.9,764.9 128.7,762.1 126.4,760.4 129.3,760.3"/><polygon points="133.2,759.7 134.1,762.5 137.0,762.5 134.7,764.3 135.5,767.1 133.2,765.4 130.8,767.1 131.6,764.3 129.3,762.5 132.2,762.5"/><polygon points="132.4,761.9 133.4,764.7 136.3,764.7 134.0,766.5 134.8,769.3 132.4,767.6 130.1,769.3 130.9,766.5 128.6,764.7 131.5,764.7"/><polygon points="195.9,740.8 196.9,743.5 199.8,743.6 197.5,745.3 198.3,748.1 195.9,746.4 193.6,748.1 194.4,745.3 192.1,743.6 195.0,743.5"/><polygon points="198.1,744.4 199.1,747.2 202.0,747.2 199.7,749.0 200.5,751.7 198.1,750.1 195.8,751.7 196.6,749.0 194.3,747.2 197.2,747.2"/><polygon points="199.6,747.3 200.5,750.1 203.4,750.1 201.1,751.9 202.0,754.7 199.6,753.0 197.2,754.7 198.1,751.9 195.7,750.1 198.7,750.1"/><polygon points="201.1,751.0 202.0,753.7 204.9,753.8 202.6,755.5 203.4,758.3 201.1,756.6 198.7,758.3 199.5,755.5 197.2,753.8 200.1,753.7"/><polygon points="196.7,748.8 197.6,751.6 200.5,751.6 198.2,753.3 199.1,756.1 196.7,754.4 194.3,756.1 195.1,753.3 192.8,751.6 195.7,751.6"/><polygon points="194.5,752.4 195.4,755.2 198.3,755.2 196.0,757.0 196.9,759.8 194.5,758.1 192.1,759.8 193.0,757.0 190.6,755.2 193.5,755.2"/><polygon points="189.4,756.1 190.3,758.9 193.2,758.9 190.9,760.6 191.8,763.4 189.4,761.7 187.0,763.4 187.9,760.6 185.5,758.9 188.4,758.9"/><polygon points="187.2,762.7 188.1,765.4 191.0,765.5 188.7,767.2 189.6,770.0 187.2,768.3 184.8,770.0 185.7,767.2 183.3,765.5 186.2,765.4"/><polygon points="193.8,759.7 194.7,762.5 197.6,762.5 195.3,764.3 196.1,767.1 193.8,765.4 191.4,767.1 192.2,764.3 189.9,762.5 192.8,762.5"/><polygon points="155.8,767.8 156.7,770.5 159.6,770.6 157.3,772.3 158.2,775.1 155.8,773.4 153.4,775.1 154.3,772.3 151.9,770.6 154.9,770.5"/><polygon points="152.9,770.7 153.8,773.5 156.7,773.5 154.4,775.2 155.3,778.0 152.9,776.3 150.5,778.0 151.4,775.2 149.0,773.5 151.9,773.5"/><polygon points="158.7,767.0 159.7,769.8 162.6,769.8 160.2,771.6 161.1,774.4 158.7,772.7 156.3,774.4 157.2,771.6 154.9,769.8 157.8,769.8"/><polygon points="170.4,775.1 171.3,777.8 174.2,777.9 171.9,779.6 172.8,782.4 170.4,780.7 168.0,782.4 168.9,779.6 166.5,777.9 169.5,777.8"/><polygon points="169.7,777.3 170.6,780.0 173.5,780.1 171.2,781.8 172.0,784.6 169.7,782.9 167.3,784.6 168.1,781.8 165.8,780.1 168.7,780.0"/><polygon points="187.9,774.3 188.9,777.1 191.8,777.1 189.4,778.9 190.3,781.7 187.9,780.0 185.5,781.7 186.4,778.9 184.1,777.1 187.0,777.1"/><polygon points="204.7,772.2 205.6,774.9 208.6,775.0 206.2,776.7 207.1,779.5 204.7,777.8 202.3,779.5 203.2,776.7 200.8,775.0 203.8,774.9"/><polygon points="202.5,782.4 203.5,785.1 206.4,785.2 204.0,786.9 204.9,789.7 202.5,788.0 200.1,789.7 201.0,786.9 198.7,785.2 201.6,785.1"/><polygon points="204.0,791.9 204.9,794.6 207.8,794.7 205.5,796.4 206.4,799.2 204.0,797.5 201.6,799.2 202.4,796.4 200.1,794.7 203.0,794.6"/><polygon points="150.0,786.8 150.9,789.5 153.8,789.6 151.5,791.3 152.3,794.1 150.0,792.4 147.6,794.1 148.4,791.3 146.1,789.6 149.0,789.5"/><polygon points="153.6,788.2 154.5,791.0 157.5,791.0 155.1,792.8 156.0,795.5 153.6,793.9 151.2,795.5 152.1,792.8 149.8,791.0 152.7,791.0"/><polygon points="158.7,790.4 159.7,793.2 162.6,793.2 160.2,794.9 161.1,797.7 158.7,796.1 156.3,797.7 157.2,794.9 154.9,793.2 157.8,793.2"/><polygon points="163.1,788.2 164.0,791.0 166.9,791.0 164.6,792.8 165.5,795.5 163.1,793.9 160.7,795.5 161.6,792.8 159.2,791.0 162.2,791.0"/><polygon points="161.6,794.1 162.6,796.8 165.5,796.9 163.2,798.6 164.0,801.4 161.6,799.7 159.3,801.4 160.1,798.6 157.8,796.9 160.7,796.8"/><polygon points="165.3,795.5 166.2,798.3 169.1,798.3 166.8,800.1 167.7,802.8 165.3,801.2 162.9,802.8 163.8,800.1 161.4,798.3 164.3,798.3"/><polygon points="158.7,794.8 159.7,797.5 162.6,797.6 160.2,799.3 161.1,802.1 158.7,800.4 156.3,802.1 157.2,799.3 154.9,797.6 157.8,797.5"/><polygon points="133.2,797.7 134.1,800.5 137.0,800.5 134.7,802.2 135.5,805.0 133.2,803.4 130.8,805.0 131.6,802.2 129.3,800.5 132.2,800.5"/><polygon points="152.1,802.8 153.1,805.6 156.0,805.6 153.7,807.4 154.5,810.1 152.1,808.5 149.8,810.1 150.6,807.4 148.3,805.6 151.2,805.6"/><polygon points="158.7,803.5 159.7,806.3 162.6,806.3 160.2,808.1 161.1,810.9 158.7,809.2 156.3,810.9 157.2,808.1 154.9,806.3 157.8,806.3"/><polygon points="174.8,805.7 175.7,808.5 178.6,808.5 176.3,810.3 177.2,813.1 174.8,811.4 172.4,813.1 173.3,810.3 170.9,808.5 173.8,808.5"/><polygon points="193.0,803.5 194.0,806.3 196.9,806.3 194.5,808.1 195.4,810.9 193.0,809.2 190.6,810.9 191.5,808.1 189.2,806.3 192.1,806.3"/><polygon points="186.5,811.6 187.4,814.3 190.3,814.4 188.0,816.1 188.8,818.9 186.5,817.2 184.1,818.9 184.9,816.1 182.6,814.4 185.5,814.3"/><polygon points="138.3,812.3 139.2,815.1 142.1,815.1 139.8,816.8 140.7,819.6 138.3,818.0 135.9,819.6 136.8,816.8 134.4,815.1 137.3,815.1"/><polygon points="212.7,724.7 213.7,727.5 216.6,727.5 214.3,729.3 215.1,732.0 212.7,730.4 210.3,732.0 211.2,729.3 208.9,727.5 211.8,727.5"/><polygon points="226.6,740.0 227.5,742.8 230.5,742.8 228.1,744.6 229.0,747.4 226.6,745.7 224.2,747.4 225.1,744.6 222.7,742.8 225.7,742.8"/><polygon points="247.8,740.8 248.7,743.5 251.6,743.6 249.3,745.3 250.1,748.1 247.8,746.4 245.4,748.1 246.2,745.3 243.9,743.6 246.8,743.5"/><polygon points="239.7,745.9 240.7,748.6 243.6,748.7 241.3,750.4 242.1,753.2 239.7,751.5 237.4,753.2 238.2,750.4 235.9,748.7 238.8,748.6"/><polygon points="258.7,752.4 259.7,755.2 262.6,755.2 260.2,757.0 261.1,759.8 258.7,758.1 256.3,759.8 257.2,757.0 254.9,755.2 257.8,755.2"/><polygon points="244.1,756.1 245.1,758.9 248.0,758.9 245.6,760.6 246.5,763.4 244.1,761.7 241.7,763.4 242.6,760.6 240.3,758.9 243.2,758.9"/><polygon points="224.4,759.7 225.3,762.5 228.3,762.5 225.9,764.3 226.8,767.1 224.4,765.4 222.0,767.1 222.9,764.3 220.6,762.5 223.5,762.5"/><polygon points="269.7,765.6 270.6,768.3 273.5,768.4 271.2,770.1 272.0,772.9 269.7,771.2 267.3,772.9 268.1,770.1 265.8,768.4 268.7,768.3"/><polygon points="271.1,775.1 272.1,777.8 275.0,777.9 272.6,779.6 273.5,782.4 271.1,780.7 268.7,782.4 269.6,779.6 267.3,777.9 270.2,777.8"/><polygon points="258.0,775.1 258.9,777.8 261.8,777.9 259.5,779.6 260.4,782.4 258.0,780.7 255.6,782.4 256.5,779.6 254.1,777.9 257.0,777.8"/><polygon points="243.4,777.3 244.3,780.0 247.2,780.1 244.9,781.8 245.8,784.6 243.4,782.9 241.0,784.6 241.9,781.8 239.5,780.1 242.4,780.0"/><polygon points="227.3,770.7 228.3,773.5 231.2,773.5 228.9,775.2 229.7,778.0 227.3,776.3 224.9,778.0 225.8,775.2 223.5,773.5 226.4,773.5"/><polygon points="260.2,794.1 261.1,796.8 264.0,796.9 261.7,798.6 262.6,801.4 260.2,799.7 257.8,801.4 258.7,798.6 256.3,796.9 259.2,796.8"/><polygon points="234.6,797.0 235.6,799.7 238.5,799.8 236.1,801.5 237.0,804.3 234.6,802.6 232.2,804.3 233.1,801.5 230.8,799.8 233.7,799.7"/><polygon points="246.3,803.5 247.2,806.3 250.2,806.3 247.8,808.1 248.7,810.9 246.3,809.2 243.9,810.9 244.8,808.1 242.5,806.3 245.4,806.3"/><polygon points="257.3,804.3 258.2,807.0 261.1,807.1 258.8,808.8 259.6,811.6 257.3,809.9 254.9,811.6 255.7,808.8 253.4,807.1 256.3,807.0"/><polygon points="252.9,808.7 253.8,811.4 256.7,811.4 254.4,813.2 255.3,816.0 252.9,814.3 250.5,816.0 251.4,813.2 249.0,811.4 251.9,811.4"/><polygon points="220.0,803.5 221.0,806.3 223.9,806.3 221.6,808.1 222.4,810.9 220.0,809.2 217.6,810.9 218.5,808.1 216.2,806.3 219.1,806.3"/><polygon points="214.9,807.9 215.9,810.7 218.8,810.7 216.4,812.5 217.3,815.2 214.9,813.6 212.5,815.2 213.4,812.5 211.1,810.7 214.0,810.7"/><polygon points="275.5,812.3 276.4,815.1 279.4,815.1 277.0,816.8 277.9,819.6 275.5,818.0 273.1,819.6 274.0,816.8 271.7,815.1 274.6,815.1"/><polygon points="227.3,814.5 228.3,817.2 231.2,817.3 228.9,819.0 229.7,821.8 227.3,820.1 224.9,821.8 225.8,819.0 223.5,817.3 226.4,817.2"/><polygon points="268.2,816.0 269.1,818.7 272.1,818.7 269.7,820.5 270.6,823.3 268.2,821.6 265.8,823.3 266.7,820.5 264.4,818.7 267.3,818.7"/><polygon points="143.4,832.0 144.3,834.8 147.2,834.8 144.9,836.6 145.8,839.3 143.4,837.7 141.0,839.3 141.9,836.6 139.5,834.8 142.4,834.8"/><polygon points="157.3,825.4 158.2,828.2 161.1,828.2 158.8,830.0 159.6,832.8 157.3,831.1 154.9,832.8 155.7,830.0 153.4,828.2 156.3,828.2"/><polygon points="160.2,822.5 161.1,825.3 164.0,825.3 161.7,827.1 162.6,829.8 160.2,828.2 157.8,829.8 158.7,827.1 156.3,825.3 159.2,825.3"/><polygon points="162.4,826.9 163.3,829.7 166.2,829.7 163.9,831.4 164.7,834.2 162.4,832.5 160.0,834.2 160.8,831.4 158.5,829.7 161.4,829.7"/><polygon points="168.2,822.5 169.1,825.3 172.1,825.3 169.7,827.1 170.6,829.8 168.2,828.2 165.8,829.8 166.7,827.1 164.4,825.3 167.3,825.3"/><polygon points="174.8,820.3 175.7,823.1 178.6,823.1 176.3,824.9 177.2,827.7 174.8,826.0 172.4,827.7 173.3,824.9 170.9,823.1 173.8,823.1"/><polygon points="179.2,819.6 180.1,822.4 183.0,822.4 180.7,824.1 181.5,826.9 179.2,825.2 176.8,826.9 177.6,824.1 175.3,822.4 178.2,822.4"/><polygon points="170.4,826.2 171.3,828.9 174.2,829.0 171.9,830.7 172.8,833.5 170.4,831.8 168.0,833.5 168.9,830.7 166.5,829.0 169.5,828.9"/><polygon points="183.5,825.4 184.5,828.2 187.4,828.2 185.1,830.0 185.9,832.8 183.5,831.1 181.2,832.8 182.0,830.0 179.7,828.2 182.6,828.2"/><polygon points="187.2,830.5 188.1,833.3 191.0,833.3 188.7,835.1 189.6,837.9 187.2,836.2 184.8,837.9 185.7,835.1 183.3,833.3 186.2,833.3"/><polygon points="196.7,829.8 197.6,832.6 200.5,832.6 198.2,834.4 199.1,837.1 196.7,835.5 194.3,837.1 195.1,834.4 192.8,832.6 195.7,832.6"/><polygon points="202.5,832.0 203.5,834.8 206.4,834.8 204.0,836.6 204.9,839.3 202.5,837.7 200.1,839.3 201.0,836.6 198.7,834.8 201.6,834.8"/><polygon points="192.3,834.9 193.2,837.7 196.1,837.7 193.8,839.5 194.7,842.3 192.3,840.6 189.9,842.3 190.8,839.5 188.4,837.7 191.4,837.7"/><polygon points="148.5,843.0 149.4,845.7 152.3,845.8 150.0,847.5 150.9,850.3 148.5,848.6 146.1,850.3 147.0,847.5 144.6,845.8 147.6,845.7"/><polygon points="159.4,837.8 160.4,840.6 163.3,840.6 161.0,842.4 161.8,845.2 159.4,843.5 157.1,845.2 157.9,842.4 155.6,840.6 158.5,840.6"/><polygon points="159.4,847.3 160.4,850.1 163.3,850.1 161.0,851.9 161.8,854.7 159.4,853.0 157.1,854.7 157.9,851.9 155.6,850.1 158.5,850.1"/><polygon points="163.1,843.7 164.0,846.4 166.9,846.5 164.6,848.2 165.5,851.0 163.1,849.3 160.7,851.0 161.6,848.2 159.2,846.5 162.2,846.4"/><polygon points="166.0,842.2 167.0,845.0 169.9,845.0 167.5,846.8 168.4,849.6 166.0,847.9 163.6,849.6 164.5,846.8 162.2,845.0 165.1,845.0"/><polygon points="149.2,852.4 150.2,855.2 153.1,855.2 150.7,857.0 151.6,859.8 149.2,858.1 146.8,859.8 147.7,857.0 145.4,855.2 148.3,855.2"/><polygon points="133.9,856.8 134.8,859.6 137.7,859.6 135.4,861.4 136.3,864.2 133.9,862.5 131.5,864.2 132.4,861.4 130.0,859.6 133.0,859.6"/><polygon points="137.5,861.9 138.5,864.7 141.4,864.7 139.1,866.5 139.9,869.3 137.5,867.6 135.2,869.3 136.0,866.5 133.7,864.7 136.6,864.7"/><polygon points="150.7,862.7 151.6,865.4 154.5,865.5 152.2,867.2 153.1,870.0 150.7,868.3 148.3,870.0 149.2,867.2 146.8,865.5 149.7,865.4"/><polygon points="154.3,864.9 155.3,867.6 158.2,867.7 155.9,869.4 156.7,872.2 154.3,870.5 152.0,872.2 152.8,869.4 150.5,867.7 153.4,867.6"/><polygon points="160.9,859.0 161.8,861.8 164.8,861.8 162.4,863.6 163.3,866.3 160.9,864.7 158.5,866.3 159.4,863.6 157.1,861.8 160.0,861.8"/><polygon points="174.8,858.3 175.7,861.0 178.6,861.1 176.3,862.8 177.2,865.6 174.8,863.9 172.4,865.6 173.3,862.8 170.9,861.1 173.8,861.0"/><polygon points="180.6,855.4 181.6,858.1 184.5,858.2 182.1,859.9 183.0,862.7 180.6,861.0 178.2,862.7 179.1,859.9 176.8,858.2 179.7,858.1"/><polygon points="185.7,843.7 186.7,846.4 189.6,846.5 187.2,848.2 188.1,851.0 185.7,849.3 183.3,851.0 184.2,848.2 181.9,846.5 184.8,846.4"/><polygon points="188.6,848.8 189.6,851.6 192.5,851.6 190.2,853.3 191.0,856.1 188.6,854.4 186.3,856.1 187.1,853.3 184.8,851.6 187.7,851.6"/><polygon points="190.8,857.6 191.8,860.3 194.7,860.4 192.4,862.1 193.2,864.9 190.8,863.2 188.5,864.9 189.3,862.1 187.0,860.4 189.9,860.3"/><polygon points="193.8,859.7 194.7,862.5 197.6,862.5 195.3,864.3 196.1,867.1 193.8,865.4 191.4,867.1 192.2,864.3 189.9,862.5 192.8,862.5"/><polygon points="199.6,845.1 200.5,847.9 203.4,847.9 201.1,849.7 202.0,852.5 199.6,850.8 197.2,852.5 198.1,849.7 195.7,847.9 198.7,847.9"/><polygon points="204.0,857.6 204.9,860.3 207.8,860.4 205.5,862.1 206.4,864.9 204.0,863.2 201.6,864.9 202.4,862.1 200.1,860.4 203.0,860.3"/><polygon points="201.1,852.4 202.0,855.2 204.9,855.2 202.6,857.0 203.4,859.8 201.1,858.1 198.7,859.8 199.5,857.0 197.2,855.2 200.1,855.2"/><polygon points="151.4,874.3 152.4,877.1 155.3,877.1 152.9,878.9 153.8,881.7 151.4,880.0 149.0,881.7 149.9,878.9 147.6,877.1 150.5,877.1"/><polygon points="155.1,877.3 156.0,880.0 158.9,880.1 156.6,881.8 157.4,884.6 155.1,882.9 152.7,884.6 153.5,881.8 151.2,880.1 154.1,880.0"/><polygon points="147.0,880.2 148.0,882.9 150.9,883.0 148.6,884.7 149.4,887.5 147.0,885.8 144.7,887.5 145.5,884.7 143.2,883.0 146.1,882.9"/><polygon points="141.9,885.3 142.9,888.0 145.8,888.1 143.4,889.8 144.3,892.6 141.9,890.9 139.5,892.6 140.4,889.8 138.1,888.1 141.0,888.0"/><polygon points="153.6,886.0 154.5,888.8 157.5,888.8 155.1,890.6 156.0,893.3 153.6,891.7 151.2,893.3 152.1,890.6 149.8,888.8 152.7,888.8"/><polygon points="158.7,880.2 159.7,882.9 162.6,883.0 160.2,884.7 161.1,887.5 158.7,885.8 156.3,887.5 157.2,884.7 154.9,883.0 157.8,882.9"/><polygon points="160.9,883.8 161.8,886.6 164.8,886.6 162.4,888.4 163.3,891.2 160.9,889.5 158.5,891.2 159.4,888.4 157.1,886.6 160.0,886.6"/><polygon points="162.4,875.1 163.3,877.8 166.2,877.9 163.9,879.6 164.7,882.4 162.4,880.7 160.0,882.4 160.8,879.6 158.5,877.9 161.4,877.8"/><polygon points="168.2,873.6 169.1,876.4 172.1,876.4 169.7,878.2 170.6,880.9 168.2,879.3 165.8,880.9 166.7,878.2 164.4,876.4 167.3,876.4"/><polygon points="170.4,877.3 171.3,880.0 174.2,880.1 171.9,881.8 172.8,884.6 170.4,882.9 168.0,884.6 168.9,881.8 166.5,880.1 169.5,880.0"/><polygon points="174.0,864.1 175.0,866.9 177.9,866.9 175.6,868.7 176.4,871.5 174.0,869.8 171.7,871.5 172.5,868.7 170.2,866.9 173.1,866.9"/><polygon points="178.4,862.7 179.4,865.4 182.3,865.5 179.9,867.2 180.8,870.0 178.4,868.3 176.0,870.0 176.9,867.2 174.6,865.5 177.5,865.4"/><polygon points="182.1,864.9 183.0,867.6 185.9,867.7 183.6,869.4 184.5,872.2 182.1,870.5 179.7,872.2 180.6,869.4 178.2,867.7 181.1,867.6"/><polygon points="177.0,869.2 177.9,872.0 180.8,872.0 178.5,873.8 179.3,876.6 177.0,874.9 174.6,876.6 175.4,873.8 173.1,872.0 176.0,872.0"/><polygon points="195.2,864.1 196.2,866.9 199.1,866.9 196.7,868.7 197.6,871.5 195.2,869.8 192.8,871.5 193.7,868.7 191.4,866.9 194.3,866.9"/><polygon points="196.7,874.3 197.6,877.1 200.5,877.1 198.2,878.9 199.1,881.7 196.7,880.0 194.3,881.7 195.1,878.9 192.8,877.1 195.7,877.1"/><polygon points="198.1,878.0 199.1,880.7 202.0,880.8 199.7,882.5 200.5,885.3 198.1,883.6 195.8,885.3 196.6,882.5 194.3,880.8 197.2,880.7"/><polygon points="193.8,877.3 194.7,880.0 197.6,880.1 195.3,881.8 196.1,884.6 193.8,882.9 191.4,884.6 192.2,881.8 189.9,880.1 192.8,880.0"/><polygon points="205.4,872.2 206.4,874.9 209.3,875.0 207.0,876.7 207.8,879.5 205.4,877.8 203.1,879.5 203.9,876.7 201.6,875.0 204.5,874.9"/><polygon points="209.8,872.9 210.8,875.6 213.7,875.7 211.3,877.4 212.2,880.2 209.8,878.5 207.4,880.2 208.3,877.4 206.0,875.7 208.9,875.6"/><polygon points="152.1,890.4 153.1,893.2 156.0,893.2 153.7,894.9 154.5,897.7 152.1,896.1 149.8,897.7 150.6,894.9 148.3,893.2 151.2,893.2"/><polygon points="158.0,897.7 158.9,900.5 161.8,900.5 159.5,902.2 160.4,905.0 158.0,903.4 155.6,905.0 156.5,902.2 154.1,900.5 157.0,900.5"/><polygon points="161.6,893.3 162.6,896.1 165.5,896.1 163.2,897.9 164.0,900.6 161.6,899.0 159.3,900.6 160.1,897.9 157.8,896.1 160.7,896.1"/><polygon points="168.2,887.5 169.1,890.2 172.1,890.3 169.7,892.0 170.6,894.8 168.2,893.1 165.8,894.8 166.7,892.0 164.4,890.3 167.3,890.2"/><polygon points="170.4,884.6 171.3,887.3 174.2,887.4 171.9,889.1 172.8,891.9 170.4,890.2 168.0,891.9 168.9,889.1 166.5,887.4 169.5,887.3"/><polygon points="172.6,890.4 173.5,893.2 176.4,893.2 174.1,894.9 175.0,897.7 172.6,896.1 170.2,897.7 171.1,894.9 168.7,893.2 171.6,893.2"/><polygon points="165.3,902.1 166.2,904.8 169.1,904.9 166.8,906.6 167.7,909.4 165.3,907.7 162.9,909.4 163.8,906.6 161.4,904.9 164.3,904.8"/><polygon points="168.9,903.5 169.9,906.3 172.8,906.3 170.5,908.1 171.3,910.9 168.9,909.2 166.6,910.9 167.4,908.1 165.1,906.3 168.0,906.3"/><polygon points="173.3,902.1 174.3,904.8 177.2,904.9 174.8,906.6 175.7,909.4 173.3,907.7 170.9,909.4 171.8,906.6 169.5,904.9 172.4,904.8"/><polygon points="176.2,904.3 177.2,907.0 180.1,907.1 177.8,908.8 178.6,911.6 176.2,909.9 173.9,911.6 174.7,908.8 172.4,907.1 175.3,907.0"/><polygon points="187.2,903.5 188.1,906.3 191.0,906.3 188.7,908.1 189.6,910.9 187.2,909.2 184.8,910.9 185.7,908.1 183.3,906.3 186.2,906.3"/><polygon points="193.0,889.7 194.0,892.4 196.9,892.5 194.5,894.2 195.4,897.0 193.0,895.3 190.6,897.0 191.5,894.2 189.2,892.5 192.1,892.4"/><polygon points="202.5,894.8 203.5,897.5 206.4,897.6 204.0,899.3 204.9,902.1 202.5,900.4 200.1,902.1 201.0,899.3 198.7,897.6 201.6,897.5"/><polygon points="207.6,907.2 208.6,909.9 211.5,910.0 209.1,911.7 210.0,914.5 207.6,912.8 205.2,914.5 206.1,911.7 203.8,910.0 206.7,909.9"/><polygon points="211.3,895.5 212.2,898.3 215.1,898.3 212.8,900.1 213.7,902.8 211.3,901.2 208.9,902.8 209.7,900.1 207.4,898.3 210.3,898.3"/><polygon points="181.3,833.5 182.3,836.2 185.2,836.3 182.9,838.0 183.7,840.8 181.3,839.1 179.0,840.8 179.8,838.0 177.5,836.3 180.4,836.2"/><polygon points="175.5,832.0 176.4,834.8 179.4,834.8 177.0,836.6 177.9,839.3 175.5,837.7 173.1,839.3 174.0,836.6 171.7,834.8 174.6,834.8"/><polygon points="177.7,851.0 178.6,853.7 181.5,853.8 179.2,855.5 180.1,858.3 177.7,856.6 175.3,858.3 176.2,855.5 173.8,853.8 176.8,853.7"/><polygon points="189.4,864.1 190.3,866.9 193.2,866.9 190.9,868.7 191.8,871.5 189.4,869.8 187.0,871.5 187.9,868.7 185.5,866.9 188.4,866.9"/><polygon points="206.9,866.3 207.8,869.1 210.7,869.1 208.4,870.9 209.3,873.6 206.9,872.0 204.5,873.6 205.4,870.9 203.0,869.1 206.0,869.1"/><polygon points="187.9,878.7 188.9,881.5 191.8,881.5 189.4,883.3 190.3,886.1 187.9,884.4 185.5,886.1 186.4,883.3 184.1,881.5 187.0,881.5"/><polygon points="199.6,886.8 200.5,889.5 203.4,889.6 201.1,891.3 202.0,894.1 199.6,892.4 197.2,894.1 198.1,891.3 195.7,889.6 198.7,889.5"/><polygon points="205.4,888.9 206.4,891.7 209.3,891.7 207.0,893.5 207.8,896.3 205.4,894.6 203.1,896.3 203.9,893.5 201.6,891.7 204.5,891.7"/><polygon points="217.1,817.4 218.0,820.2 221.0,820.2 218.6,822.0 219.5,824.7 217.1,823.1 214.7,824.7 215.6,822.0 213.3,820.2 216.2,820.2"/><polygon points="223.7,821.1 224.6,823.8 227.5,823.9 225.2,825.6 226.1,828.4 223.7,826.7 221.3,828.4 222.2,825.6 219.8,823.9 222.7,823.8"/><polygon points="227.3,820.3 228.3,823.1 231.2,823.1 228.9,824.9 229.7,827.7 227.3,826.0 224.9,827.7 225.8,824.9 223.5,823.1 226.4,823.1"/><polygon points="255.8,822.5 256.7,825.3 259.6,825.3 257.3,827.1 258.2,829.8 255.8,828.2 253.4,829.8 254.3,827.1 251.9,825.3 254.9,825.3"/><polygon points="260.2,825.4 261.1,828.2 264.0,828.2 261.7,830.0 262.6,832.8 260.2,831.1 257.8,832.8 258.7,830.0 256.3,828.2 259.2,828.2"/><polygon points="268.2,818.9 269.1,821.6 272.1,821.7 269.7,823.4 270.6,826.2 268.2,824.5 265.8,826.2 266.7,823.4 264.4,821.7 267.3,821.6"/><polygon points="273.3,821.8 274.3,824.5 277.2,824.6 274.8,826.3 275.7,829.1 273.3,827.4 270.9,829.1 271.8,826.3 269.5,824.6 272.4,824.5"/><polygon points="277.0,826.2 277.9,828.9 280.8,829.0 278.5,830.7 279.3,833.5 277.0,831.8 274.6,833.5 275.4,830.7 273.1,829.0 276.0,828.9"/><polygon points="295.2,834.2 296.2,837.0 299.1,837.0 296.7,838.7 297.6,841.5 295.2,839.8 292.8,841.5 293.7,838.7 291.4,837.0 294.3,837.0"/><polygon points="305.4,839.3 306.4,842.1 309.3,842.1 307.0,843.9 307.8,846.6 305.4,845.0 303.1,846.6 303.9,843.9 301.6,842.1 304.5,842.1"/><polygon points="248.5,837.8 249.4,840.6 252.3,840.6 250.0,842.4 250.9,845.2 248.5,843.5 246.1,845.2 247.0,842.4 244.6,840.6 247.6,840.6"/><polygon points="262.4,837.1 263.3,839.9 266.2,839.9 263.9,841.7 264.7,844.4 262.4,842.8 260.0,844.4 260.8,841.7 258.5,839.9 261.4,839.9"/><polygon points="271.9,842.2 272.8,845.0 275.7,845.0 273.4,846.8 274.2,849.6 271.9,847.9 269.5,849.6 270.3,846.8 268.0,845.0 270.9,845.0"/><polygon points="231.7,832.7 232.6,835.5 235.6,835.5 233.2,837.3 234.1,840.1 231.7,838.4 229.3,840.1 230.2,837.3 227.9,835.5 230.8,835.5"/><polygon points="237.5,834.9 238.5,837.7 241.4,837.7 239.1,839.5 239.9,842.3 237.5,840.6 235.2,842.3 236.0,839.5 233.7,837.7 236.6,837.7"/><polygon points="228.1,838.6 229.0,841.3 231.9,841.4 229.6,843.1 230.4,845.9 228.1,844.2 225.7,845.9 226.5,843.1 224.2,841.4 227.1,841.3"/><polygon points="220.8,841.5 221.7,844.3 224.6,844.3 222.3,846.0 223.1,848.8 220.8,847.1 218.4,848.8 219.2,846.0 216.9,844.3 219.8,844.3"/><polygon points="280.6,848.8 281.6,851.6 284.5,851.6 282.1,853.3 283.0,856.1 280.6,854.4 278.2,856.1 279.1,853.3 276.8,851.6 279.7,851.6"/><polygon points="286.5,853.2 287.4,855.9 290.3,856.0 288.0,857.7 288.8,860.5 286.5,858.8 284.1,860.5 284.9,857.7 282.6,856.0 285.5,855.9"/><polygon points="285.7,858.3 286.7,861.0 289.6,861.1 287.2,862.8 288.1,865.6 285.7,863.9 283.3,865.6 284.2,862.8 281.9,861.1 284.8,861.0"/><polygon points="213.5,850.3 214.4,853.0 217.3,853.1 215.0,854.8 215.8,857.6 213.5,855.9 211.1,857.6 211.9,854.8 209.6,853.1 212.5,853.0"/><polygon points="222.9,853.9 223.9,856.7 226.8,856.7 224.5,858.5 225.3,861.2 222.9,859.6 220.6,861.2 221.4,858.5 219.1,856.7 222.0,856.7"/><polygon points="241.2,854.6 242.1,857.4 245.0,857.4 242.7,859.2 243.6,862.0 241.2,860.3 238.8,862.0 239.7,859.2 237.3,857.4 240.3,857.4"/><polygon points="253.6,851.7 254.5,854.5 257.5,854.5 255.1,856.3 256.0,859.0 253.6,857.4 251.2,859.0 252.1,856.3 249.8,854.5 252.7,854.5"/><polygon points="264.6,856.8 265.5,859.6 268.4,859.6 266.1,861.4 266.9,864.2 264.6,862.5 262.2,864.2 263.0,861.4 260.7,859.6 263.6,859.6"/><polygon points="260.2,859.7 261.1,862.5 264.0,862.5 261.7,864.3 262.6,867.1 260.2,865.4 257.8,867.1 258.7,864.3 256.3,862.5 259.2,862.5"/><polygon points="235.4,864.1 236.3,866.9 239.2,866.9 236.9,868.7 237.7,871.5 235.4,869.8 233.0,871.5 233.8,868.7 231.5,866.9 234.4,866.9"/><polygon points="251.4,864.1 252.4,866.9 255.3,866.9 252.9,868.7 253.8,871.5 251.4,869.8 249.0,871.5 249.9,868.7 247.6,866.9 250.5,866.9"/><polygon points="244.8,872.9 245.8,875.6 248.7,875.7 246.4,877.4 247.2,880.2 244.8,878.5 242.5,880.2 243.3,877.4 241.0,875.7 243.9,875.6"/><polygon points="226.6,872.2 227.5,874.9 230.5,875.0 228.1,876.7 229.0,879.5 226.6,877.8 224.2,879.5 225.1,876.7 222.7,875.0 225.7,874.9"/><polygon points="260.2,872.9 261.1,875.6 264.0,875.7 261.7,877.4 262.6,880.2 260.2,878.5 257.8,880.2 258.7,877.4 256.3,875.7 259.2,875.6"/><polygon points="270.4,870.7 271.3,873.5 274.2,873.5 271.9,875.2 272.8,878.0 270.4,876.3 268.0,878.0 268.9,875.2 266.5,873.5 269.5,873.5"/><polygon points="277.0,869.2 277.9,872.0 280.8,872.0 278.5,873.8 279.3,876.6 277.0,874.9 274.6,876.6 275.4,873.8 273.1,872.0 276.0,872.0"/><polygon points="214.2,862.7 215.1,865.4 218.0,865.5 215.7,867.2 216.6,870.0 214.2,868.3 211.8,870.0 212.7,867.2 210.3,865.5 213.2,865.4"/><polygon points="252.1,880.2 253.1,882.9 256.0,883.0 253.7,884.7 254.5,887.5 252.1,885.8 249.8,887.5 250.6,884.7 248.3,883.0 251.2,882.9"/><polygon points="239.0,880.2 239.9,882.9 242.9,883.0 240.5,884.7 241.4,887.5 239.0,885.8 236.6,887.5 237.5,884.7 235.2,883.0 238.1,882.9"/><polygon points="231.0,877.3 231.9,880.0 234.8,880.1 232.5,881.8 233.4,884.6 231.0,882.9 228.6,884.6 229.5,881.8 227.1,880.1 230.0,880.0"/><polygon points="225.9,879.5 226.8,882.2 229.7,882.3 227.4,884.0 228.2,886.8 225.9,885.1 223.5,886.8 224.3,884.0 222.0,882.3 224.9,882.2"/><polygon points="220.8,886.0 221.7,888.8 224.6,888.8 222.3,890.6 223.1,893.3 220.8,891.7 218.4,893.3 219.2,890.6 216.9,888.8 219.8,888.8"/><polygon points="237.5,888.2 238.5,891.0 241.4,891.0 239.1,892.8 239.9,895.5 237.5,893.9 235.2,895.5 236.0,892.8 233.7,891.0 236.6,891.0"/><polygon points="259.4,892.6 260.4,895.3 263.3,895.4 261.0,897.1 261.8,899.9 259.4,898.2 257.1,899.9 257.9,897.1 255.6,895.4 258.5,895.3"/><polygon points="231.7,896.2 232.6,899.0 235.6,899.0 233.2,900.8 234.1,903.6 231.7,901.9 229.3,903.6 230.2,900.8 227.9,899.0 230.8,899.0"/><polygon points="222.2,894.1 223.2,896.8 226.1,896.9 223.7,898.6 224.6,901.4 222.2,899.7 219.8,901.4 220.7,898.6 218.4,896.9 221.3,896.8"/><polygon points="214.9,894.8 215.9,897.5 218.8,897.6 216.4,899.3 217.3,902.1 214.9,900.4 212.5,902.1 213.4,899.3 211.1,897.6 214.0,897.5"/><polygon points="220.0,905.0 221.0,907.8 223.9,907.8 221.6,909.5 222.4,912.3 220.0,910.7 217.6,912.3 218.5,909.5 216.2,907.8 219.1,907.8"/><polygon points="239.0,910.8 239.9,913.6 242.9,913.6 240.5,915.4 241.4,918.2 239.0,916.5 236.6,918.2 237.5,915.4 235.2,913.6 238.1,913.6"/><polygon points="214.2,858.3 215.1,861.0 218.0,861.1 215.7,862.8 216.6,865.6 214.2,863.9 211.8,865.6 212.7,862.8 210.3,861.1 213.2,861.0"/><polygon points="244.8,867.8 245.8,870.5 248.7,870.6 246.4,872.3 247.2,875.1 244.8,873.4 242.5,875.1 243.3,872.3 241.0,870.6 243.9,870.5"/><polygon points="255.8,870.7 256.7,873.5 259.6,873.5 257.3,875.2 258.2,878.0 255.8,876.3 253.4,878.0 254.3,875.2 251.9,873.5 254.9,873.5"/><polygon points="229.5,866.3 230.5,869.1 233.4,869.1 231.0,870.9 231.9,873.6 229.5,872.0 227.1,873.6 228.0,870.9 225.7,869.1 228.6,869.1"/><polygon points="241.2,875.8 242.1,878.6 245.0,878.6 242.7,880.3 243.6,883.1 241.2,881.5 238.8,883.1 239.7,880.3 237.3,878.6 240.3,878.6"/><polygon points="247.8,883.8 248.7,886.6 251.6,886.6 249.3,888.4 250.1,891.2 247.8,889.5 245.4,891.2 246.2,888.4 243.9,886.6 246.8,886.6"/><polygon points="255.8,884.6 256.7,887.3 259.6,887.4 257.3,889.1 258.2,891.9 255.8,890.2 253.4,891.9 254.3,889.1 251.9,887.4 254.9,887.3"/><polygon points="262.4,886.0 263.3,888.8 266.2,888.8 263.9,890.6 264.7,893.3 262.4,891.7 260.0,893.3 260.8,890.6 258.5,888.8 261.4,888.8"/><polygon points="243.4,886.0 244.3,888.8 247.2,888.8 244.9,890.6 245.8,893.3 243.4,891.7 241.0,893.3 241.9,890.6 239.5,888.8 242.4,888.8"/><polygon points="233.9,884.6 234.8,887.3 237.7,887.4 235.4,889.1 236.3,891.9 233.9,890.2 231.5,891.9 232.4,889.1 230.0,887.4 233.0,887.3"/><polygon points="228.1,891.9 229.0,894.6 231.9,894.7 229.6,896.4 230.4,899.2 228.1,897.5 225.7,899.2 226.5,896.4 224.2,894.7 227.1,894.6"/><polygon points="250.0,874.3 250.9,877.1 253.8,877.1 251.5,878.9 252.3,881.7 250.0,880.0 247.6,881.7 248.4,878.9 246.1,877.1 249.0,877.1"/><polygon points="263.8,877.3 264.8,880.0 267.7,880.1 265.3,881.8 266.2,884.6 263.8,882.9 261.4,884.6 262.3,881.8 260.0,880.1 262.9,880.0"/><polygon points="257.3,865.6 258.2,868.3 261.1,868.4 258.8,870.1 259.6,872.9 257.3,871.2 254.9,872.9 255.7,870.1 253.4,868.4 256.3,868.3"/><polygon points="239.7,869.2 240.7,872.0 243.6,872.0 241.3,873.8 242.1,876.6 239.7,874.9 237.4,876.6 238.2,873.8 235.9,872.0 238.8,872.0"/><polygon points="268.2,881.6 269.1,884.4 272.1,884.4 269.7,886.2 270.6,889.0 268.2,887.3 265.8,889.0 266.7,886.2 264.4,884.4 267.3,884.4"/><polygon points="222.2,874.3 223.2,877.1 226.1,877.1 223.7,878.9 224.6,881.7 222.2,880.0 219.8,881.7 220.7,878.9 218.4,877.1 221.3,877.1"/><polygon points="254.3,890.4 255.3,893.2 258.2,893.2 255.9,894.9 256.7,897.7 254.3,896.1 252.0,897.7 252.8,894.9 250.5,893.2 253.4,893.2"/></g>
<line class="g" x1="458.2" y1="699.9" x2="458.2" y2="948.4"/>
<line class="g" x1="540.9" y1="699.9" x2="540.9" y2="948.4"/>
<line class="g" x1="623.5" y1="699.9" x2="623.5" y2="948.4"/>
<line class="g" x1="416.9" y1="907.0" x2="664.9" y2="907.0"/>
<line class="g" x1="416.9" y1="865.6" x2="664.9" y2="865.6"/>
<line class="g" x1="416.9" y1="824.1" x2="664.9" y2="824.1"/>
<line class="g" x1="416.9" y1="782.7" x2="664.9" y2="782.7"/>
<line class="g" x1="416.9" y1="741.3" x2="664.9" y2="741.3"/>
<line class="tk" x1="458.2" y1="948.4" x2="458.2" y2="945.9"/>
<line class="tk" x1="458.2" y1="699.9" x2="458.2" y2="702.4"/>
<text class="t" x="458.2" y="970.7" text-anchor="middle">-20</text>
<line class="tk" x1="540.9" y1="948.4" x2="540.9" y2="945.9"/>
<line class="tk" x1="540.9" y1="699.9" x2="540.9" y2="702.4"/>
<text class="t" x="540.9" y="970.7" text-anchor="middle">0</text>
<line class="tk" x1="623.5" y1="948.4" x2="623.5" y2="945.9"/>
<line class="tk" x1="623.5" y1="699.9" x2="623.5" y2="702.4"/>
<text class="t" x="623.5" y="970.7" text-anchor="middle">20</text>
<line class="tk" x1="416.9" y1="948.4" x2="419.4" y2="948.4"/>
<line class="tk" x1="664.9" y1="948.4" x2="662.4" y2="948.4"/>
<text class="t" x="409.8" y="955.0" text-anchor="end">-30</text>
<line class="tk" x1="416.9" y1="907.0" x2="419.4" y2="907.0"/>
<line class="tk" x1="664.9" y1="907.0" x2="662.4" y2="907.0"/>
<text class="t" x="409.8" y="913.0" text-anchor="end">-20</text>
<line class="tk" x1="416.9" y1="865.6" x2="419.4" y2="865.6"/>
<line class="tk" x1="664.9" y1="865.6" x2="662.4" y2="865.6"/>
<text class="t" x="409.8" y="872.0" text-anchor="end">-10</text>
<line class="tk" x1="416.9" y1="824.1" x2="419.4" y2="824.1"/>
<line class="tk" x1="664.9" y1="824.1" x2="662.4" y2="824.1"/>
<text class="t" x="409.8" y="830.0" text-anchor="end">0</text>
<line class="tk" x1="416.9" y1="782.7" x2="419.4" y2="782.7"/>
<line class="tk" x1="664.9" y1="782.7" x2="662.4" y2="782.7"/>
<text class="t" x="409.8" y="788.0" text-anchor="end">10</text>
<line class="tk" x1="416.9" y1="741.3" x2="419.4" y2="741.3"/>
<line class="tk" x1="664.9" y1="741.3" x2="662.4" y2="741.3"/>
<text class="t" x="409.8" y="747.0" text-anchor="end">20</text>
<line class="tk" x1="416.9" y1="699.9" x2="419.4" y2="699.9"/>
<line class="tk" x1="664.9" y1="699.9" x2="662.4" y2="699.9"/>
<text class="t" x="409.8" y="705.0" text-anchor="end">30</text>
<rect class="ax" x="416.90" y="699.90" width="247.95" height="248.50"/>
<text class="l" x="540.7" y="991.8" text-anchor="middle">A</text>
<text class="l" transform="translate(379.5,824.9) rotate(-90)" text-anchor="middle">B</text>
<g class="c"><circle cx="505.7" cy="728.0" r="4.70"/><circle cx="509.3" cy="733.9" r="4.70"/><circle cx="507.9" cy="741.9" r="4.70"/><circle cx="511.5" cy="742.6" r="4.70"/><circle cx="514.5" cy="754.3" r="4.70"/><circle cx="523.2" cy="736.8" r="4.70"/><circle cx="492.6" cy="748.5" r="4.70"/><circle cx="494.0" cy="751.4" r="4.70"/><circle cx="497.7" cy="758.0" r="4.70"/><circle cx="502.0" cy="760.1" r="4.70"/><circle cx="478.7" cy="751.4" r="4.70"/><circle cx="480.9" cy="755.0" r="4.70"/><circle cx="483.1" cy="757.2" r="4.70"/><circle cx="481.6" cy="759.4" r="4.70"/><circle cx="458.2" cy="755.8" r="4.70"/><circle cx="461.9" cy="758.7" r="4.70"/><circle cx="465.5" cy="761.6" r="4.70"/><circle cx="468.5" cy="763.8" r="4.70"/><circle cx="467.7" cy="766.0" r="4.70"/><circle cx="531.2" cy="744.8" r="4.70"/><circle cx="533.4" cy="748.5" r="4.70"/><circle cx="534.9" cy="751.4" r="4.70"/><circle cx="536.4" cy="755.0" r="4.70"/><circle cx="532.0" cy="752.8" r="4.70"/><circle cx="529.8" cy="756.5" r="4.70"/><circle cx="522.5" cy="766.7" r="4.70"/><circle cx="529.1" cy="763.8" r="4.70"/><circle cx="491.1" cy="771.8" r="4.70"/><circle cx="488.2" cy="774.7" r="4.70"/><circle cx="494.0" cy="771.1" r="4.70"/><circle cx="505.7" cy="779.1" r="4.70"/><circle cx="505.0" cy="781.3" r="4.70"/><circle cx="523.2" cy="778.4" r="4.70"/><circle cx="540.0" cy="776.2" r="4.70"/><circle cx="537.8" cy="786.4" r="4.70"/><circle cx="539.3" cy="795.9" r="4.70"/><circle cx="485.3" cy="790.8" r="4.70"/><circle cx="488.9" cy="792.3" r="4.70"/><circle cx="494.0" cy="794.5" r="4.70"/><circle cx="498.4" cy="792.3" r="4.70"/><circle cx="496.9" cy="798.1" r="4.70"/><circle cx="500.6" cy="799.6" r="4.70"/><circle cx="494.0" cy="798.8" r="4.70"/><circle cx="468.5" cy="801.8" r="4.70"/><circle cx="487.4" cy="806.9" r="4.70"/><circle cx="494.0" cy="807.6" r="4.70"/><circle cx="510.1" cy="809.8" r="4.70"/><circle cx="473.6" cy="816.4" r="4.70"/><circle cx="494.0" cy="739.0" r="4.70"/><circle cx="497.7" cy="739.0" r="4.70"/><circle cx="500.6" cy="739.7" r="4.70"/><circle cx="511.5" cy="734.6" r="4.70"/><circle cx="529.1" cy="734.6" r="4.70"/><circle cx="538.5" cy="733.9" r="4.70"/><circle cx="518.8" cy="739.7" r="4.70"/><circle cx="460.4" cy="751.4" r="4.70"/><circle cx="469.9" cy="748.5" r="4.70"/><circle cx="473.6" cy="746.3" r="4.70"/><circle cx="476.5" cy="749.2" r="4.70"/><circle cx="500.6" cy="749.9" r="4.70"/><circle cx="510.8" cy="749.2" r="4.70"/><circle cx="522.5" cy="749.9" r="4.70"/><circle cx="543.7" cy="743.4" r="4.70"/><circle cx="543.7" cy="750.7" r="4.70"/><circle cx="489.6" cy="762.3" r="4.70"/><circle cx="478.7" cy="765.3" r="4.70"/><circle cx="508.6" cy="763.8" r="4.70"/><circle cx="515.9" cy="763.1" r="4.70"/><circle cx="526.9" cy="762.3" r="4.70"/><circle cx="538.5" cy="763.1" r="4.70"/><circle cx="459.0" cy="768.9" r="4.70"/><circle cx="464.1" cy="774.7" r="4.70"/><circle cx="499.9" cy="773.3" r="4.70"/><circle cx="515.9" cy="771.1" r="4.70"/><circle cx="533.4" cy="771.1" r="4.70"/><circle cx="542.2" cy="768.2" r="4.70"/><circle cx="545.1" cy="763.8" r="4.70"/><circle cx="474.3" cy="779.1" r="4.70"/><circle cx="489.6" cy="782.8" r="4.70"/><circle cx="494.0" cy="783.5" r="4.70"/><circle cx="497.7" cy="784.2" r="4.70"/><circle cx="500.6" cy="786.4" r="4.70"/><circle cx="496.2" cy="787.9" r="4.70"/><circle cx="531.2" cy="776.2" r="4.70"/><circle cx="533.4" cy="780.6" r="4.70"/><circle cx="540.7" cy="778.4" r="4.70"/><circle cx="545.1" cy="778.4" r="4.70"/><circle cx="478.0" cy="787.2" r="4.70"/><circle cx="520.3" cy="790.1" r="4.70"/><circle cx="523.2" cy="792.3" r="4.70"/><circle cx="526.1" cy="790.8" r="4.70"/><circle cx="517.4" cy="794.5" r="4.70"/><circle cx="514.5" cy="797.4" r="4.70"/><circle cx="520.3" cy="798.8" r="4.70"/><circle cx="530.5" cy="799.6" r="4.70"/><circle cx="533.4" cy="801.8" r="4.70"/><circle cx="534.9" cy="797.4" r="4.70"/><circle cx="542.2" cy="791.5" r="4.70"/><circle cx="510.1" cy="801.8" r="4.70"/><circle cx="488.9" cy="814.9" r="4.70"/><circle cx="537.8" cy="813.4" r="4.70"/><circle cx="561.9" cy="744.1" r="4.70"/><circle cx="583.1" cy="744.8" r="4.70"/><circle cx="575.0" cy="749.9" r="4.70"/><circle cx="594.0" cy="756.5" r="4.70"/><circle cx="579.4" cy="760.1" r="4.70"/><circle cx="559.7" cy="763.8" r="4.70"/><circle cx="605.0" cy="769.6" r="4.70"/><circle cx="606.4" cy="779.1" r="4.70"/><circle cx="593.3" cy="779.1" r="4.70"/><circle cx="578.7" cy="781.3" r="4.70"/><circle cx="562.6" cy="774.7" r="4.70"/><circle cx="595.5" cy="798.1" r="4.70"/><circle cx="569.9" cy="801.0" r="4.70"/><circle cx="592.6" cy="808.3" r="4.70"/><circle cx="588.2" cy="812.7" r="4.70"/><circle cx="555.3" cy="807.6" r="4.70"/><circle cx="562.6" cy="818.5" r="4.70"/><circle cx="548.0" cy="744.1" r="4.70"/><circle cx="553.9" cy="755.8" r="4.70"/><circle cx="584.5" cy="754.3" r="4.70"/><circle cx="599.1" cy="761.6" r="4.70"/><circle cx="571.4" cy="763.8" r="4.70"/><circle cx="588.2" cy="763.1" r="4.70"/><circle cx="550.2" cy="766.7" r="4.70"/><circle cx="554.6" cy="771.1" r="4.70"/><circle cx="571.4" cy="771.1" r="4.70"/><circle cx="576.5" cy="768.2" r="4.70"/><circle cx="582.3" cy="771.8" r="4.70"/><circle cx="589.6" cy="769.6" r="4.70"/><circle cx="595.5" cy="763.8" r="4.70"/><circle cx="551.7" cy="778.4" r="4.70"/><circle cx="556.1" cy="781.3" r="4.70"/><circle cx="566.3" cy="779.9" r="4.70"/><circle cx="573.6" cy="784.2" r="4.70"/><circle cx="585.3" cy="785.0" r="4.70"/><circle cx="597.7" cy="785.0" r="4.70"/><circle cx="549.5" cy="788.6" r="4.70"/><circle cx="561.9" cy="787.9" r="4.70"/><circle cx="567.7" cy="786.4" r="4.70"/><circle cx="599.1" cy="793.0" r="4.70"/><circle cx="582.3" cy="795.9" r="4.70"/><circle cx="573.6" cy="790.1" r="4.70"/><circle cx="554.6" cy="795.2" r="4.70"/><circle cx="563.4" cy="797.4" r="4.70"/><circle cx="595.5" cy="809.1" r="4.70"/><circle cx="605.7" cy="810.5" r="4.70"/><circle cx="575.0" cy="817.8" r="4.70"/><circle cx="583.8" cy="806.1" r="4.70"/><circle cx="558.2" cy="790.1" r="4.70"/><circle cx="578.7" cy="775.5" r="4.70"/><circle cx="585.3" cy="775.5" r="4.70"/><circle cx="478.7" cy="836.1" r="4.70"/><circle cx="495.5" cy="826.6" r="4.70"/><circle cx="518.8" cy="829.5" r="4.70"/><circle cx="537.8" cy="836.1" r="4.70"/><circle cx="539.3" cy="861.6" r="4.70"/><circle cx="512.3" cy="873.3" r="4.70"/><circle cx="522.5" cy="907.6" r="4.70"/><circle cx="472.8" cy="821.5" r="4.70"/><circle cx="486.7" cy="822.9" r="4.70"/><circle cx="526.9" cy="823.6" r="4.70"/><circle cx="537.1" cy="823.6" r="4.70"/><circle cx="543.7" cy="826.6" r="4.70"/><circle cx="496.9" cy="839.7" r="4.70"/><circle cx="512.3" cy="847.0" r="4.70"/><circle cx="517.4" cy="843.4" r="4.70"/><circle cx="533.4" cy="841.9" r="4.70"/><circle cx="502.0" cy="858.0" r="4.70"/><circle cx="497.7" cy="868.2" r="4.70"/><circle cx="546.6" cy="828.8" r="4.70"/><circle cx="526.9" cy="823.6" r="4.70"/><circle cx="595.5" cy="829.5" r="4.70"/><circle cx="630.5" cy="838.2" r="4.70"/><circle cx="583.8" cy="841.9" r="4.70"/><circle cx="607.2" cy="846.3" r="4.70"/><circle cx="567.0" cy="836.8" r="4.70"/><circle cx="572.8" cy="839.0" r="4.70"/><circle cx="563.4" cy="842.6" r="4.70"/><circle cx="548.8" cy="854.3" r="4.70"/><circle cx="576.5" cy="858.7" r="4.70"/><circle cx="588.9" cy="855.8" r="4.70"/><circle cx="570.7" cy="868.2" r="4.70"/><circle cx="595.5" cy="876.9" r="4.70"/><circle cx="594.7" cy="896.6" r="4.70"/><circle cx="574.3" cy="914.9" r="4.70"/><circle cx="574.3" cy="821.5" r="4.70"/><circle cx="589.6" cy="826.6" r="4.70"/><circle cx="564.8" cy="834.6" r="4.70"/><circle cx="551.7" cy="839.0" r="4.70"/><circle cx="597.7" cy="839.0" r="4.70"/><circle cx="581.6" cy="852.1" r="4.70"/><circle cx="594.7" cy="852.8" r="4.70"/><circle cx="601.3" cy="852.8" r="4.70"/><circle cx="626.9" cy="862.3" r="4.70"/><circle cx="558.2" cy="863.1" r="4.70"/><circle cx="564.1" cy="862.3" r="4.70"/><circle cx="607.2" cy="863.1" r="4.70"/></g>
<g class="s"><polygon points="545.1,723.2 546.1,726.0 549.0,726.0 546.6,727.8 547.5,730.6 545.1,728.9 542.7,730.6 543.6,727.8 541.3,726.0 544.2,726.0"/><polygon points="524.7,756.1 525.6,758.9 528.5,758.9 526.2,760.6 527.1,763.4 524.7,761.7 522.3,763.4 523.2,760.6 520.8,758.9 523.7,758.9"/><polygon points="528.3,803.5 529.3,806.3 532.2,806.3 529.8,808.1 530.7,810.9 528.3,809.2 525.9,810.9 526.8,808.1 524.5,806.3 527.4,806.3"/><polygon points="521.8,811.6 522.7,814.3 525.6,814.4 523.3,816.1 524.1,818.9 521.8,817.2 519.4,818.9 520.2,816.1 517.9,814.4 520.8,814.3"/><polygon points="462.6,767.8 463.6,770.5 466.5,770.6 464.2,772.3 465.0,775.1 462.6,773.4 460.2,775.1 461.1,772.3 458.8,770.6 461.7,770.5"/><polygon points="545.1,797.7 546.1,800.5 549.0,800.5 546.6,802.2 547.5,805.0 545.1,803.4 542.7,805.0 543.6,802.2 541.3,800.5 544.2,800.5"/><polygon points="469.2,804.3 470.1,807.0 473.0,807.1 470.7,808.8 471.6,811.6 469.2,809.9 466.8,811.6 467.7,808.8 465.3,807.1 468.3,807.0"/><polygon points="518.8,800.6 519.8,803.4 522.7,803.4 520.4,805.2 521.2,807.9 518.8,806.3 516.5,807.9 517.3,805.2 515.0,803.4 517.9,803.4"/><polygon points="502.0,813.0 503.0,815.8 505.9,815.8 503.6,817.6 504.4,820.4 502.0,818.7 499.7,820.4 500.5,817.6 498.2,815.8 501.1,815.8"/><polygon points="540.7,812.3 541.7,815.1 544.6,815.1 542.3,816.8 543.1,819.6 540.7,818.0 538.4,819.6 539.2,816.8 536.9,815.1 539.8,815.1"/><polygon points="548.0,724.7 549.0,727.5 551.9,727.5 549.6,729.3 550.4,732.0 548.0,730.4 545.6,732.0 546.5,729.3 544.2,727.5 547.1,727.5"/><polygon points="581.6,803.5 582.5,806.3 585.5,806.3 583.1,808.1 584.0,810.9 581.6,809.2 579.2,810.9 580.1,808.1 577.8,806.3 580.7,806.3"/><polygon points="550.2,807.9 551.2,810.7 554.1,810.7 551.7,812.5 552.6,815.2 550.2,813.6 547.8,815.2 548.7,812.5 546.4,810.7 549.3,810.7"/><polygon points="610.8,812.3 611.7,815.1 614.7,815.1 612.3,816.8 613.2,819.6 610.8,818.0 608.4,819.6 609.3,816.8 607.0,815.1 609.9,815.1"/><polygon points="603.5,816.0 604.4,818.7 607.4,818.7 605.0,820.5 605.9,823.3 603.5,821.6 601.1,823.3 602.0,820.5 599.7,818.7 602.6,818.7"/><polygon points="572.1,748.8 573.1,751.6 576.0,751.6 573.6,753.3 574.5,756.1 572.1,754.4 569.7,756.1 570.6,753.3 568.3,751.6 571.2,751.6"/><polygon points="594.0,762.7 595.0,765.4 597.9,765.5 595.5,767.2 596.4,770.0 594.0,768.3 591.6,770.0 592.5,767.2 590.2,765.5 593.1,765.4"/><polygon points="607.9,793.3 608.8,796.1 611.7,796.1 609.4,797.9 610.3,800.6 607.9,799.0 605.5,800.6 606.4,797.9 604.0,796.1 606.9,796.1"/><polygon points="550.2,797.0 551.2,799.7 554.1,799.8 551.7,801.5 552.6,804.3 550.2,802.6 547.8,804.3 548.7,801.5 546.4,799.8 549.3,799.7"/><polygon points="567.7,807.2 568.7,809.9 571.6,810.0 569.3,811.7 570.1,814.5 567.7,812.8 565.4,814.5 566.2,811.7 563.9,810.0 566.8,809.9"/><polygon points="492.6,825.4 493.5,828.2 496.4,828.2 494.1,830.0 494.9,832.8 492.6,831.1 490.2,832.8 491.0,830.0 488.7,828.2 491.6,828.2"/><polygon points="497.7,826.9 498.6,829.7 501.5,829.7 499.2,831.4 500.0,834.2 497.7,832.5 495.3,834.2 496.1,831.4 493.8,829.7 496.7,829.7"/><polygon points="503.5,822.5 504.4,825.3 507.4,825.3 505.0,827.1 505.9,829.8 503.5,828.2 501.1,829.8 502.0,827.1 499.7,825.3 502.6,825.3"/><polygon points="510.1,820.3 511.0,823.1 513.9,823.1 511.6,824.9 512.5,827.7 510.1,826.0 507.7,827.7 508.6,824.9 506.2,823.1 509.1,823.1"/><polygon points="514.5,819.6 515.4,822.4 518.3,822.4 516.0,824.1 516.8,826.9 514.5,825.2 512.1,826.9 512.9,824.1 510.6,822.4 513.5,822.4"/><polygon points="505.7,826.2 506.6,828.9 509.5,829.0 507.2,830.7 508.1,833.5 505.7,831.8 503.3,833.5 504.2,830.7 501.8,829.0 504.8,828.9"/><polygon points="522.5,830.5 523.4,833.3 526.3,833.3 524.0,835.1 524.9,837.9 522.5,836.2 520.1,837.9 521.0,835.1 518.6,833.3 521.5,833.3"/><polygon points="532.0,829.8 532.9,832.6 535.8,832.6 533.5,834.4 534.4,837.1 532.0,835.5 529.6,837.1 530.4,834.4 528.1,832.6 531.0,832.6"/><polygon points="527.6,834.9 528.5,837.7 531.4,837.7 529.1,839.5 530.0,842.3 527.6,840.6 525.2,842.3 526.1,839.5 523.7,837.7 526.7,837.7"/><polygon points="483.8,843.0 484.7,845.7 487.6,845.8 485.3,847.5 486.2,850.3 483.8,848.6 481.4,850.3 482.3,847.5 479.9,845.8 482.9,845.7"/><polygon points="494.7,837.8 495.7,840.6 498.6,840.6 496.3,842.4 497.1,845.2 494.7,843.5 492.4,845.2 493.2,842.4 490.9,840.6 493.8,840.6"/><polygon points="494.7,847.3 495.7,850.1 498.6,850.1 496.3,851.9 497.1,854.7 494.7,853.0 492.4,854.7 493.2,851.9 490.9,850.1 493.8,850.1"/><polygon points="498.4,843.7 499.3,846.4 502.2,846.5 499.9,848.2 500.8,851.0 498.4,849.3 496.0,851.0 496.9,848.2 494.5,846.5 497.5,846.4"/><polygon points="501.3,842.2 502.3,845.0 505.2,845.0 502.8,846.8 503.7,849.6 501.3,847.9 498.9,849.6 499.8,846.8 497.5,845.0 500.4,845.0"/><polygon points="484.5,852.4 485.5,855.2 488.4,855.2 486.0,857.0 486.9,859.8 484.5,858.1 482.1,859.8 483.0,857.0 480.7,855.2 483.6,855.2"/><polygon points="469.2,856.8 470.1,859.6 473.0,859.6 470.7,861.4 471.6,864.2 469.2,862.5 466.8,864.2 467.7,861.4 465.3,859.6 468.3,859.6"/><polygon points="472.8,861.9 473.8,864.7 476.7,864.7 474.4,866.5 475.2,869.3 472.8,867.6 470.5,869.3 471.3,866.5 469.0,864.7 471.9,864.7"/><polygon points="486.0,862.7 486.9,865.4 489.8,865.5 487.5,867.2 488.4,870.0 486.0,868.3 483.6,870.0 484.5,867.2 482.1,865.5 485.0,865.4"/><polygon points="489.6,864.9 490.6,867.6 493.5,867.7 491.2,869.4 492.0,872.2 489.6,870.5 487.3,872.2 488.1,869.4 485.8,867.7 488.7,867.6"/><polygon points="496.2,859.0 497.1,861.8 500.1,861.8 497.7,863.6 498.6,866.3 496.2,864.7 493.8,866.3 494.7,863.6 492.4,861.8 495.3,861.8"/><polygon points="510.1,858.3 511.0,861.0 513.9,861.1 511.6,862.8 512.5,865.6 510.1,863.9 507.7,865.6 508.6,862.8 506.2,861.1 509.1,861.0"/><polygon points="515.9,855.4 516.9,858.1 519.8,858.2 517.4,859.9 518.3,862.7 515.9,861.0 513.5,862.7 514.4,859.9 512.1,858.2 515.0,858.1"/><polygon points="521.0,843.7 522.0,846.4 524.9,846.5 522.5,848.2 523.4,851.0 521.0,849.3 518.6,851.0 519.5,848.2 517.2,846.5 520.1,846.4"/><polygon points="523.9,848.8 524.9,851.6 527.8,851.6 525.5,853.3 526.3,856.1 523.9,854.4 521.6,856.1 522.4,853.3 520.1,851.6 523.0,851.6"/><polygon points="526.1,857.6 527.1,860.3 530.0,860.4 527.7,862.1 528.5,864.9 526.1,863.2 523.8,864.9 524.6,862.1 522.3,860.4 525.2,860.3"/><polygon points="529.1,859.7 530.0,862.5 532.9,862.5 530.6,864.3 531.4,867.1 529.1,865.4 526.7,867.1 527.5,864.3 525.2,862.5 528.1,862.5"/><polygon points="534.9,845.1 535.8,847.9 538.7,847.9 536.4,849.7 537.3,852.5 534.9,850.8 532.5,852.5 533.4,849.7 531.0,847.9 534.0,847.9"/><polygon points="536.4,852.4 537.3,855.2 540.2,855.2 537.9,857.0 538.7,859.8 536.4,858.1 534.0,859.8 534.8,857.0 532.5,855.2 535.4,855.2"/><polygon points="486.7,874.3 487.7,877.1 490.6,877.1 488.2,878.9 489.1,881.7 486.7,880.0 484.3,881.7 485.2,878.9 482.9,877.1 485.8,877.1"/><polygon points="490.4,877.3 491.3,880.0 494.2,880.1 491.9,881.8 492.7,884.6 490.4,882.9 488.0,884.6 488.8,881.8 486.5,880.1 489.4,880.0"/><polygon points="482.3,880.2 483.3,882.9 486.2,883.0 483.9,884.7 484.7,887.5 482.3,885.8 480.0,887.5 480.8,884.7 478.5,883.0 481.4,882.9"/><polygon points="477.2,885.3 478.2,888.0 481.1,888.1 478.7,889.8 479.6,892.6 477.2,890.9 474.8,892.6 475.7,889.8 473.4,888.1 476.3,888.0"/><polygon points="488.9,886.0 489.8,888.8 492.8,888.8 490.4,890.6 491.3,893.3 488.9,891.7 486.5,893.3 487.4,890.6 485.1,888.8 488.0,888.8"/><polygon points="494.0,880.2 495.0,882.9 497.9,883.0 495.5,884.7 496.4,887.5 494.0,885.8 491.6,887.5 492.5,884.7 490.2,883.0 493.1,882.9"/><polygon points="496.2,883.8 497.1,886.6 500.1,886.6 497.7,888.4 498.6,891.2 496.2,889.5 493.8,891.2 494.7,888.4 492.4,886.6 495.3,886.6"/><polygon points="497.7,875.1 498.6,877.8 501.5,877.9 499.2,879.6 500.0,882.4 497.7,880.7 495.3,882.4 496.1,879.6 493.8,877.9 496.7,877.8"/><polygon points="503.5,873.6 504.4,876.4 507.4,876.4 505.0,878.2 505.9,880.9 503.5,879.3 501.1,880.9 502.0,878.2 499.7,876.4 502.6,876.4"/><polygon points="505.7,877.3 506.6,880.0 509.5,880.1 507.2,881.8 508.1,884.6 505.7,882.9 503.3,884.6 504.2,881.8 501.8,880.1 504.8,880.0"/><polygon points="509.3,864.1 510.3,866.9 513.2,866.9 510.9,868.7 511.7,871.5 509.3,869.8 507.0,871.5 507.8,868.7 505.5,866.9 508.4,866.9"/><polygon points="513.7,862.7 514.7,865.4 517.6,865.5 515.2,867.2 516.1,870.0 513.7,868.3 511.3,870.0 512.2,867.2 509.9,865.5 512.8,865.4"/><polygon points="517.4,864.9 518.3,867.6 521.2,867.7 518.9,869.4 519.8,872.2 517.4,870.5 515.0,872.2 515.9,869.4 513.5,867.7 516.4,867.6"/><polygon points="530.5,864.1 531.5,866.9 534.4,866.9 532.0,868.7 532.9,871.5 530.5,869.8 528.1,871.5 529.0,868.7 526.7,866.9 529.6,866.9"/><polygon points="532.0,874.3 532.9,877.1 535.8,877.1 533.5,878.9 534.4,881.7 532.0,880.0 529.6,881.7 530.4,878.9 528.1,877.1 531.0,877.1"/><polygon points="533.4,878.0 534.4,880.7 537.3,880.8 535.0,882.5 535.8,885.3 533.4,883.6 531.1,885.3 531.9,882.5 529.6,880.8 532.5,880.7"/><polygon points="529.1,877.3 530.0,880.0 532.9,880.1 530.6,881.8 531.4,884.6 529.1,882.9 526.7,884.6 527.5,881.8 525.2,880.1 528.1,880.0"/><polygon points="540.7,872.2 541.7,874.9 544.6,875.0 542.3,876.7 543.1,879.5 540.7,877.8 538.4,879.5 539.2,876.7 536.9,875.0 539.8,874.9"/><polygon points="545.1,872.9 546.1,875.6 549.0,875.7 546.6,877.4 547.5,880.2 545.1,878.5 542.7,880.2 543.6,877.4 541.3,875.7 544.2,875.6"/><polygon points="487.4,890.4 488.4,893.2 491.3,893.2 489.0,894.9 489.8,897.7 487.4,896.1 485.1,897.7 485.9,894.9 483.6,893.2 486.5,893.2"/><polygon points="493.3,897.7 494.2,900.5 497.1,900.5 494.8,902.2 495.7,905.0 493.3,903.4 490.9,905.0 491.8,902.2 489.4,900.5 492.3,900.5"/><polygon points="496.9,893.3 497.9,896.1 500.8,896.1 498.5,897.9 499.3,900.6 496.9,899.0 494.6,900.6 495.4,897.9 493.1,896.1 496.0,896.1"/><polygon points="503.5,887.5 504.4,890.2 507.4,890.3 505.0,892.0 505.9,894.8 503.5,893.1 501.1,894.8 502.0,892.0 499.7,890.3 502.6,890.2"/><polygon points="505.7,884.6 506.6,887.3 509.5,887.4 507.2,889.1 508.1,891.9 505.7,890.2 503.3,891.9 504.2,889.1 501.8,887.4 504.8,887.3"/><polygon points="507.9,890.4 508.8,893.2 511.7,893.2 509.4,894.9 510.3,897.7 507.9,896.1 505.5,897.7 506.4,894.9 504.0,893.2 506.9,893.2"/><polygon points="500.6,902.1 501.5,904.8 504.4,904.9 502.1,906.6 503.0,909.4 500.6,907.7 498.2,909.4 499.1,906.6 496.7,904.9 499.6,904.8"/><polygon points="504.2,903.5 505.2,906.3 508.1,906.3 505.8,908.1 506.6,910.9 504.2,909.2 501.9,910.9 502.7,908.1 500.4,906.3 503.3,906.3"/><polygon points="508.6,902.1 509.6,904.8 512.5,904.9 510.1,906.6 511.0,909.4 508.6,907.7 506.2,909.4 507.1,906.6 504.8,904.9 507.7,904.8"/><polygon points="511.5,904.3 512.5,907.0 515.4,907.1 513.1,908.8 513.9,911.6 511.5,909.9 509.2,911.6 510.0,908.8 507.7,907.1 510.6,907.0"/><polygon points="528.3,889.7 529.3,892.4 532.2,892.5 529.8,894.2 530.7,897.0 528.3,895.3 525.9,897.0 526.8,894.2 524.5,892.5 527.4,892.4"/><polygon points="537.8,894.8 538.8,897.5 541.7,897.6 539.3,899.3 540.2,902.1 537.8,900.4 535.4,902.1 536.3,899.3 534.0,897.6 536.9,897.5"/><polygon points="542.9,907.2 543.9,909.9 546.8,910.0 544.4,911.7 545.3,914.5 542.9,912.8 540.5,914.5 541.4,911.7 539.1,910.0 542.0,909.9"/><polygon points="546.6,895.5 547.5,898.3 550.4,898.3 548.1,900.1 549.0,902.8 546.6,901.2 544.2,902.8 545.0,900.1 542.7,898.3 545.6,898.3"/><polygon points="516.6,833.5 517.6,836.2 520.5,836.3 518.2,838.0 519.0,840.8 516.6,839.1 514.3,840.8 515.1,838.0 512.8,836.3 515.7,836.2"/><polygon points="510.8,832.0 511.7,834.8 514.7,834.8 512.3,836.6 513.2,839.3 510.8,837.7 508.4,839.3 509.3,836.6 507.0,834.8 509.9,834.8"/><polygon points="513.0,851.0 513.9,853.7 516.8,853.8 514.5,855.5 515.4,858.3 513.0,856.6 510.6,858.3 511.5,855.5 509.1,853.8 512.1,853.7"/><polygon points="524.7,864.1 525.6,866.9 528.5,866.9 526.2,868.7 527.1,871.5 524.7,869.8 522.3,871.5 523.2,868.7 520.8,866.9 523.7,866.9"/><polygon points="542.2,866.3 543.1,869.1 546.0,869.1 543.7,870.9 544.6,873.6 542.2,872.0 539.8,873.6 540.7,870.9 538.3,869.1 541.3,869.1"/><polygon points="523.2,878.7 524.2,881.5 527.1,881.5 524.7,883.3 525.6,886.1 523.2,884.4 520.8,886.1 521.7,883.3 519.4,881.5 522.3,881.5"/><polygon points="534.9,886.8 535.8,889.5 538.7,889.6 536.4,891.3 537.3,894.1 534.9,892.4 532.5,894.1 533.4,891.3 531.0,889.6 534.0,889.5"/><polygon points="540.7,888.9 541.7,891.7 544.6,891.7 542.3,893.5 543.1,896.3 540.7,894.6 538.4,896.3 539.2,893.5 536.9,891.7 539.8,891.7"/><polygon points="501.3,818.1 502.3,820.9 505.2,820.9 502.8,822.7 503.7,825.5 501.3,823.8 498.9,825.5 499.8,822.7 497.5,820.9 500.4,820.9"/><polygon points="509.3,827.6 510.3,830.4 513.2,830.4 510.9,832.2 511.7,835.0 509.3,833.3 507.0,835.0 507.8,832.2 505.5,830.4 508.4,830.4"/><polygon points="506.4,840.0 507.4,842.8 510.3,842.8 507.9,844.6 508.8,847.4 506.4,845.7 504.0,847.4 504.9,844.6 502.6,842.8 505.5,842.8"/><polygon points="528.3,839.3 529.3,842.1 532.2,842.1 529.8,843.9 530.7,846.6 528.3,845.0 525.9,846.6 526.8,843.9 524.5,842.1 527.4,842.1"/><polygon points="540.7,837.8 541.7,840.6 544.6,840.6 542.3,842.4 543.1,845.2 540.7,843.5 538.4,845.2 539.2,842.4 536.9,840.6 539.8,840.6"/><polygon points="543.7,833.5 544.6,836.2 547.5,836.3 545.2,838.0 546.0,840.8 543.7,839.1 541.3,840.8 542.1,838.0 539.8,836.3 542.7,836.2"/><polygon points="504.2,848.8 505.2,851.6 508.1,851.6 505.8,853.3 506.6,856.1 504.2,854.4 501.9,856.1 502.7,853.3 500.4,851.6 503.3,851.6"/><polygon points="515.9,850.3 516.9,853.0 519.8,853.1 517.4,854.8 518.3,857.6 515.9,855.9 513.5,857.6 514.4,854.8 512.1,853.1 515.0,853.0"/><polygon points="531.2,851.7 532.2,854.5 535.1,854.5 532.8,856.3 533.6,859.0 531.2,857.4 528.9,859.0 529.7,856.3 527.4,854.5 530.3,854.5"/><polygon points="542.2,847.3 543.1,850.1 546.0,850.1 543.7,851.9 544.6,854.7 542.2,853.0 539.8,854.7 540.7,851.9 538.3,850.1 541.3,850.1"/><polygon points="544.4,858.3 545.3,861.0 548.2,861.1 545.9,862.8 546.8,865.6 544.4,863.9 542.0,865.6 542.9,862.8 540.5,861.1 543.4,861.0"/><polygon points="474.3,870.7 475.2,873.5 478.2,873.5 475.8,875.2 476.7,878.0 474.3,876.3 471.9,878.0 472.8,875.2 470.5,873.5 473.4,873.5"/><polygon points="491.1,867.0 492.0,869.8 494.9,869.8 492.6,871.6 493.5,874.4 491.1,872.7 488.7,874.4 489.6,871.6 487.2,869.8 490.2,869.8"/><polygon points="501.3,868.5 502.3,871.3 505.2,871.3 502.8,873.0 503.7,875.8 501.3,874.2 498.9,875.8 499.8,873.0 497.5,871.3 500.4,871.3"/><polygon points="505.7,867.8 506.6,870.5 509.5,870.6 507.2,872.3 508.1,875.1 505.7,873.4 503.3,875.1 504.2,872.3 501.8,870.6 504.8,870.5"/><polygon points="519.6,873.6 520.5,876.4 523.4,876.4 521.1,878.2 521.9,880.9 519.6,879.3 517.2,880.9 518.0,878.2 515.7,876.4 518.6,876.4"/><polygon points="523.9,871.4 524.9,874.2 527.8,874.2 525.5,876.0 526.3,878.8 523.9,877.1 521.6,878.8 522.4,876.0 520.1,874.2 523.0,874.2"/><polygon points="527.6,867.8 528.5,870.5 531.4,870.6 529.1,872.3 530.0,875.1 527.6,873.4 525.2,875.1 526.1,872.3 523.7,870.6 526.7,870.5"/><polygon points="537.1,868.5 538.0,871.3 540.9,871.3 538.6,873.0 539.5,875.8 537.1,874.2 534.7,875.8 535.6,873.0 533.2,871.3 536.1,871.3"/><polygon points="543.7,864.1 544.6,866.9 547.5,866.9 545.2,868.7 546.0,871.5 543.7,869.8 541.3,871.5 542.1,868.7 539.8,866.9 542.7,866.9"/><polygon points="514.5,880.9 515.4,883.7 518.3,883.7 516.0,885.5 516.8,888.2 514.5,886.6 512.1,888.2 512.9,885.5 510.6,883.7 513.5,883.7"/><polygon points="520.3,880.2 521.2,882.9 524.1,883.0 521.8,884.7 522.7,887.5 520.3,885.8 517.9,887.5 518.8,884.7 516.4,883.0 519.4,882.9"/><polygon points="526.1,880.9 527.1,883.7 530.0,883.7 527.7,885.5 528.5,888.2 526.1,886.6 523.8,888.2 524.6,885.5 522.3,883.7 525.2,883.7"/><polygon points="515.9,886.8 516.9,889.5 519.8,889.6 517.4,891.3 518.3,894.1 515.9,892.4 513.5,894.1 514.4,891.3 512.1,889.6 515.0,889.5"/><polygon points="521.8,887.5 522.7,890.2 525.6,890.3 523.3,892.0 524.1,894.8 521.8,893.1 519.4,894.8 520.2,892.0 517.9,890.3 520.8,890.2"/><polygon points="537.8,884.6 538.8,887.3 541.7,887.4 539.3,889.1 540.2,891.9 537.8,890.2 535.4,891.9 536.3,889.1 534.0,887.4 536.9,887.3"/><polygon points="542.2,881.6 543.1,884.4 546.0,884.4 543.7,886.2 544.6,889.0 542.2,887.3 539.8,889.0 540.7,886.2 538.3,884.4 541.3,884.4"/><polygon points="505.0,892.6 505.9,895.3 508.8,895.4 506.5,897.1 507.3,899.9 505.0,898.2 502.6,899.9 503.4,897.1 501.1,895.4 504.0,895.3"/><polygon points="523.2,895.5 524.2,898.3 527.1,898.3 524.7,900.1 525.6,902.8 523.2,901.2 520.8,902.8 521.7,900.1 519.4,898.3 522.3,898.3"/><polygon points="521.0,899.2 522.0,901.9 524.9,902.0 522.5,903.7 523.4,906.5 521.0,904.8 518.6,906.5 519.5,903.7 517.2,902.0 520.1,901.9"/><polygon points="515.9,905.0 516.9,907.8 519.8,907.8 517.4,909.5 518.3,912.3 515.9,910.7 513.5,912.3 514.4,909.5 512.1,907.8 515.0,907.8"/><polygon points="520.3,906.5 521.2,909.2 524.1,909.3 521.8,911.0 522.7,913.8 520.3,912.1 517.9,913.8 518.8,911.0 516.4,909.3 519.4,909.2"/><polygon points="527.6,906.5 528.5,909.2 531.4,909.3 529.1,911.0 530.0,913.8 527.6,912.1 525.2,913.8 526.1,911.0 523.7,909.3 526.7,909.2"/><polygon points="518.1,902.8 519.0,905.6 522.0,905.6 519.6,907.4 520.5,910.1 518.1,908.5 515.7,910.1 516.6,907.4 514.3,905.6 517.2,905.6"/><polygon points="508.6,852.4 509.6,855.2 512.5,855.2 510.1,857.0 511.0,859.8 508.6,858.1 506.2,859.8 507.1,857.0 504.8,855.2 507.7,855.2"/><polygon points="512.3,859.7 513.2,862.5 516.1,862.5 513.8,864.3 514.6,867.1 512.3,865.4 509.9,867.1 510.7,864.3 508.4,862.5 511.3,862.5"/><polygon points="521.8,867.0 522.7,869.8 525.6,869.8 523.3,871.6 524.1,874.4 521.8,872.7 519.4,874.4 520.2,871.6 517.9,869.8 520.8,869.8"/><polygon points="532.7,869.2 533.6,872.0 536.6,872.0 534.2,873.8 535.1,876.6 532.7,874.9 530.3,876.6 531.2,873.8 528.8,872.0 531.8,872.0"/><polygon points="540.7,877.3 541.7,880.0 544.6,880.1 542.3,881.8 543.1,884.6 540.7,882.9 538.4,884.6 539.2,881.8 536.9,880.1 539.8,880.0"/><polygon points="529.8,872.2 530.7,874.9 533.6,875.0 531.3,876.7 532.2,879.5 529.8,877.8 527.4,879.5 528.3,876.7 525.9,875.0 528.8,874.9"/><polygon points="510.1,873.6 511.0,876.4 513.9,876.4 511.6,878.2 512.5,880.9 510.1,879.3 507.7,880.9 508.6,878.2 506.2,876.4 509.1,876.4"/><polygon points="512.3,884.6 513.2,887.3 516.1,887.4 513.8,889.1 514.6,891.9 512.3,890.2 509.9,891.9 510.7,889.1 508.4,887.4 511.3,887.3"/><polygon points="534.9,880.9 535.8,883.7 538.7,883.7 536.4,885.5 537.3,888.2 534.9,886.6 532.5,888.2 533.4,885.5 531.0,883.7 534.0,883.7"/><polygon points="552.4,817.4 553.3,820.2 556.3,820.2 553.9,822.0 554.8,824.7 552.4,823.1 550.0,824.7 550.9,822.0 548.6,820.2 551.5,820.2"/><polygon points="559.0,821.1 559.9,823.8 562.8,823.9 560.5,825.6 561.4,828.4 559.0,826.7 556.6,828.4 557.5,825.6 555.1,823.9 558.0,823.8"/><polygon points="562.6,820.3 563.6,823.1 566.5,823.1 564.2,824.9 565.0,827.7 562.6,826.0 560.2,827.7 561.1,824.9 558.8,823.1 561.7,823.1"/><polygon points="591.1,822.5 592.0,825.3 594.9,825.3 592.6,827.1 593.5,829.8 591.1,828.2 588.7,829.8 589.6,827.1 587.2,825.3 590.2,825.3"/><polygon points="603.5,818.9 604.4,821.6 607.4,821.7 605.0,823.4 605.9,826.2 603.5,824.5 601.1,826.2 602.0,823.4 599.7,821.7 602.6,821.6"/><polygon points="608.6,821.8 609.6,824.5 612.5,824.6 610.1,826.3 611.0,829.1 608.6,827.4 606.2,829.1 607.1,826.3 604.8,824.6 607.7,824.5"/><polygon points="612.3,826.2 613.2,828.9 616.1,829.0 613.8,830.7 614.6,833.5 612.3,831.8 609.9,833.5 610.7,830.7 608.4,829.0 611.3,828.9"/><polygon points="640.7,839.3 641.7,842.1 644.6,842.1 642.3,843.9 643.1,846.6 640.7,845.0 638.4,846.6 639.2,843.9 636.9,842.1 639.8,842.1"/><polygon points="597.7,837.1 598.6,839.9 601.5,839.9 599.2,841.7 600.0,844.4 597.7,842.8 595.3,844.4 596.1,841.7 593.8,839.9 596.7,839.9"/><polygon points="556.1,841.5 557.0,844.3 559.9,844.3 557.6,846.0 558.4,848.8 556.1,847.1 553.7,848.8 554.5,846.0 552.2,844.3 555.1,844.3"/><polygon points="615.9,848.8 616.9,851.6 619.8,851.6 617.4,853.3 618.3,856.1 615.9,854.4 613.5,856.1 614.4,853.3 612.1,851.6 615.0,851.6"/><polygon points="621.8,853.2 622.7,855.9 625.6,856.0 623.3,857.7 624.1,860.5 621.8,858.8 619.4,860.5 620.2,857.7 617.9,856.0 620.8,855.9"/><polygon points="621.0,858.3 622.0,861.0 624.9,861.1 622.5,862.8 623.4,865.6 621.0,863.9 618.6,865.6 619.5,862.8 617.2,861.1 620.1,861.0"/><polygon points="558.2,853.9 559.2,856.7 562.1,856.7 559.8,858.5 560.6,861.2 558.2,859.6 555.9,861.2 556.7,858.5 554.4,856.7 557.3,856.7"/><polygon points="599.9,856.8 600.8,859.6 603.7,859.6 601.4,861.4 602.2,864.2 599.9,862.5 597.5,864.2 598.3,861.4 596.0,859.6 598.9,859.6"/><polygon points="595.5,859.7 596.4,862.5 599.3,862.5 597.0,864.3 597.9,867.1 595.5,865.4 593.1,867.1 594.0,864.3 591.6,862.5 594.5,862.5"/><polygon points="586.7,864.1 587.7,866.9 590.6,866.9 588.2,868.7 589.1,871.5 586.7,869.8 584.3,871.5 585.2,868.7 582.9,866.9 585.8,866.9"/><polygon points="580.1,872.9 581.1,875.6 584.0,875.7 581.7,877.4 582.5,880.2 580.1,878.5 577.8,880.2 578.6,877.4 576.3,875.7 579.2,875.6"/><polygon points="561.9,872.2 562.8,874.9 565.8,875.0 563.4,876.7 564.3,879.5 561.9,877.8 559.5,879.5 560.4,876.7 558.0,875.0 561.0,874.9"/><polygon points="605.7,870.7 606.6,873.5 609.5,873.5 607.2,875.2 608.1,878.0 605.7,876.3 603.3,878.0 604.2,875.2 601.8,873.5 604.8,873.5"/><polygon points="612.3,869.2 613.2,872.0 616.1,872.0 613.8,873.8 614.6,876.6 612.3,874.9 609.9,876.6 610.7,873.8 608.4,872.0 611.3,872.0"/><polygon points="549.5,862.7 550.4,865.4 553.3,865.5 551.0,867.2 551.9,870.0 549.5,868.3 547.1,870.0 548.0,867.2 545.6,865.5 548.5,865.4"/><polygon points="587.4,880.2 588.4,882.9 591.3,883.0 589.0,884.7 589.8,887.5 587.4,885.8 585.1,887.5 585.9,884.7 583.6,883.0 586.5,882.9"/><polygon points="574.3,880.2 575.2,882.9 578.2,883.0 575.8,884.7 576.7,887.5 574.3,885.8 571.9,887.5 572.8,884.7 570.5,883.0 573.4,882.9"/><polygon points="566.3,877.3 567.2,880.0 570.1,880.1 567.8,881.8 568.7,884.6 566.3,882.9 563.9,884.6 564.8,881.8 562.4,880.1 565.3,880.0"/><polygon points="561.2,879.5 562.1,882.2 565.0,882.3 562.7,884.0 563.5,886.8 561.2,885.1 558.8,886.8 559.6,884.0 557.3,882.3 560.2,882.2"/><polygon points="556.1,886.0 557.0,888.8 559.9,888.8 557.6,890.6 558.4,893.3 556.1,891.7 553.7,893.3 554.5,890.6 552.2,888.8 555.1,888.8"/><polygon points="572.8,888.2 573.8,891.0 576.7,891.0 574.4,892.8 575.2,895.5 572.8,893.9 570.5,895.5 571.3,892.8 569.0,891.0 571.9,891.0"/><polygon points="567.0,896.2 567.9,899.0 570.9,899.0 568.5,900.8 569.4,903.6 567.0,901.9 564.6,903.6 565.5,900.8 563.2,899.0 566.1,899.0"/><polygon points="557.5,894.1 558.5,896.8 561.4,896.9 559.0,898.6 559.9,901.4 557.5,899.7 555.1,901.4 556.0,898.6 553.7,896.9 556.6,896.8"/><polygon points="550.2,894.8 551.2,897.5 554.1,897.6 551.7,899.3 552.6,902.1 550.2,900.4 547.8,902.1 548.7,899.3 546.4,897.6 549.3,897.5"/><polygon points="555.3,905.0 556.3,907.8 559.2,907.8 556.9,909.5 557.7,912.3 555.3,910.7 552.9,912.3 553.8,909.5 551.5,907.8 554.4,907.8"/><polygon points="549.5,858.3 550.4,861.0 553.3,861.1 551.0,862.8 551.9,865.6 549.5,863.9 547.1,865.6 548.0,862.8 545.6,861.1 548.5,861.0"/><polygon points="580.1,867.8 581.1,870.5 584.0,870.6 581.7,872.3 582.5,875.1 580.1,873.4 577.8,875.1 578.6,872.3 576.3,870.6 579.2,870.5"/><polygon points="591.1,870.7 592.0,873.5 594.9,873.5 592.6,875.2 593.5,878.0 591.1,876.3 588.7,878.0 589.6,875.2 587.2,873.5 590.2,873.5"/><polygon points="564.8,866.3 565.8,869.1 568.7,869.1 566.3,870.9 567.2,873.6 564.8,872.0 562.4,873.6 563.3,870.9 561.0,869.1 563.9,869.1"/><polygon points="576.5,875.8 577.4,878.6 580.3,878.6 578.0,880.3 578.9,883.1 576.5,881.5 574.1,883.1 575.0,880.3 572.6,878.6 575.6,878.6"/><polygon points="583.1,883.8 584.0,886.6 586.9,886.6 584.6,888.4 585.4,891.2 583.1,889.5 580.7,891.2 581.5,888.4 579.2,886.6 582.1,886.6"/><polygon points="591.1,884.6 592.0,887.3 594.9,887.4 592.6,889.1 593.5,891.9 591.1,890.2 588.7,891.9 589.6,889.1 587.2,887.4 590.2,887.3"/><polygon points="597.7,886.0 598.6,888.8 601.5,888.8 599.2,890.6 600.0,893.3 597.7,891.7 595.3,893.3 596.1,890.6 593.8,888.8 596.7,888.8"/><polygon points="578.7,886.0 579.6,888.8 582.5,888.8 580.2,890.6 581.1,893.3 578.7,891.7 576.3,893.3 577.2,890.6 574.8,888.8 577.7,888.8"/><polygon points="569.2,884.6 570.1,887.3 573.0,887.4 570.7,889.1 571.6,891.9 569.2,890.2 566.8,891.9 567.7,889.1 565.3,887.4 568.3,887.3"/><polygon points="563.4,891.9 564.3,894.6 567.2,894.7 564.9,896.4 565.7,899.2 563.4,897.5 561.0,899.2 561.8,896.4 559.5,894.7 562.4,894.6"/><polygon points="585.3,874.3 586.2,877.1 589.1,877.1 586.8,878.9 587.6,881.7 585.3,880.0 582.9,881.7 583.7,878.9 581.4,877.1 584.3,877.1"/><polygon points="599.1,877.3 600.1,880.0 603.0,880.1 600.6,881.8 601.5,884.6 599.1,882.9 596.7,884.6 597.6,881.8 595.3,880.1 598.2,880.0"/><polygon points="592.6,865.6 593.5,868.3 596.4,868.4 594.1,870.1 594.9,872.9 592.6,871.2 590.2,872.9 591.0,870.1 588.7,868.4 591.6,868.3"/><polygon points="575.0,869.2 576.0,872.0 578.9,872.0 576.6,873.8 577.4,876.6 575.0,874.9 572.7,876.6 573.5,873.8 571.2,872.0 574.1,872.0"/><polygon points="603.5,881.6 604.4,884.4 607.4,884.4 605.0,886.2 605.9,889.0 603.5,887.3 601.1,889.0 602.0,886.2 599.7,884.4 602.6,884.4"/><polygon points="557.5,874.3 558.5,877.1 561.4,877.1 559.0,878.9 559.9,881.7 557.5,880.0 555.1,881.7 556.0,878.9 553.7,877.1 556.6,877.1"/><polygon points="589.6,890.4 590.6,893.2 593.5,893.2 591.2,894.9 592.0,897.7 589.6,896.1 587.3,897.7 588.1,894.9 585.8,893.2 588.7,893.2"/><polygon points="550.2,819.6 551.2,822.4 554.1,822.4 551.7,824.1 552.6,826.9 550.2,825.2 547.8,826.9 548.7,824.1 546.4,822.4 549.3,822.4"/><polygon points="575.0,825.4 576.0,828.2 578.9,828.2 576.6,830.0 577.4,832.8 575.0,831.1 572.7,832.8 573.5,830.0 571.2,828.2 574.1,828.2"/><polygon points="608.6,820.3 609.6,823.1 612.5,823.1 610.1,824.9 611.0,827.7 608.6,826.0 606.2,827.7 607.1,824.9 604.8,823.1 607.7,823.1"/><polygon points="551.7,841.5 552.6,844.3 555.5,844.3 553.2,846.0 554.1,848.8 551.7,847.1 549.3,848.8 550.2,846.0 547.8,844.3 550.7,844.3"/><polygon points="631.2,834.9 632.2,837.7 635.1,837.7 632.8,839.5 633.6,842.3 631.2,840.6 628.9,842.3 629.7,839.5 627.4,837.7 630.3,837.7"/><polygon points="642.2,833.5 643.1,836.2 646.0,836.3 643.7,838.0 644.6,840.8 642.2,839.1 639.8,840.8 640.7,838.0 638.3,836.3 641.3,836.2"/><polygon points="640.7,837.8 641.7,840.6 644.6,840.6 642.3,842.4 643.1,845.2 640.7,843.5 638.4,845.2 639.2,842.4 636.9,840.6 639.8,840.6"/><polygon points="574.3,843.0 575.2,845.7 578.2,845.8 575.8,847.5 576.7,850.3 574.3,848.6 571.9,850.3 572.8,847.5 570.5,845.8 573.4,845.7"/><polygon points="564.1,848.1 565.0,850.8 567.9,850.9 565.6,852.6 566.5,855.4 564.1,853.7 561.7,855.4 562.6,852.6 560.2,850.9 563.1,850.8"/><polygon points="621.8,847.3 622.7,850.1 625.6,850.1 623.3,851.9 624.1,854.7 621.8,853.0 619.4,854.7 620.2,851.9 617.9,850.1 620.8,850.1"/><polygon points="630.5,851.7 631.5,854.5 634.4,854.5 632.0,856.3 632.9,859.0 630.5,857.4 628.1,859.0 629.0,856.3 626.7,854.5 629.6,854.5"/><polygon points="577.2,858.3 578.2,861.0 581.1,861.1 578.7,862.8 579.6,865.6 577.2,863.9 574.8,865.6 575.7,862.8 573.4,861.1 576.3,861.0"/><polygon points="570.7,864.9 571.6,867.6 574.5,867.7 572.2,869.4 573.0,872.2 570.7,870.5 568.3,872.2 569.1,869.4 566.8,867.7 569.7,867.6"/><polygon points="594.0,864.9 595.0,867.6 597.9,867.7 595.5,869.4 596.4,872.2 594.0,870.5 591.6,872.2 592.5,869.4 590.2,867.7 593.1,867.6"/><polygon points="599.1,863.4 600.1,866.2 603.0,866.2 600.6,867.9 601.5,870.7 599.1,869.0 596.7,870.7 597.6,867.9 595.3,866.2 598.2,866.2"/><polygon points="598.4,880.9 599.3,883.7 602.2,883.7 599.9,885.5 600.8,888.2 598.4,886.6 596.0,888.2 596.9,885.5 594.5,883.7 597.5,883.7"/><polygon points="607.9,880.2 608.8,882.9 611.7,883.0 609.4,884.7 610.3,887.5 607.9,885.8 605.5,887.5 606.4,884.7 604.0,883.0 606.9,882.9"/><polygon points="583.1,890.4 584.0,893.2 586.9,893.2 584.6,894.9 585.4,897.7 583.1,896.1 580.7,897.7 581.5,894.9 579.2,893.2 582.1,893.2"/><polygon points="563.4,887.5 564.3,890.2 567.2,890.3 564.9,892.0 565.7,894.8 563.4,893.1 561.0,894.8 561.8,892.0 559.5,890.3 562.4,890.2"/><polygon points="550.2,880.9 551.2,883.7 554.1,883.7 551.7,885.5 552.6,888.2 550.2,886.6 547.8,888.2 548.7,885.5 546.4,883.7 549.3,883.7"/><polygon points="549.5,872.9 550.4,875.6 553.3,875.7 551.0,877.4 551.9,880.2 549.5,878.5 547.1,880.2 548.0,877.4 545.6,875.7 548.5,875.6"/><polygon points="561.2,870.0 562.1,872.7 565.0,872.8 562.7,874.5 563.5,877.3 561.2,875.6 558.8,877.3 559.6,874.5 557.3,872.8 560.2,872.7"/></g>
<rect x="263.6" y="997.3" width="186.4" height="24.1" fill="#fff" stroke="#444" stroke-width="1"/>
<g class="c"><circle cx="295.7" cy="1009.2" r="4.70"/></g>
<g class="s"><polygon points="383.6,1005.2 384.5,1007.9 387.5,1007.9 385.1,1009.7 386.0,1012.5 383.6,1010.8 381.2,1012.5 382.1,1009.7 379.7,1007.9 382.7,1007.9"/></g>
<text class="t" style="font-size:13.6px;fill:#000" x="324" y="1014">Poor</text>
<text class="t" style="font-size:13.6px;fill:#000" x="411.4" y="1014">Good</text>
</g></svg></body></html>
